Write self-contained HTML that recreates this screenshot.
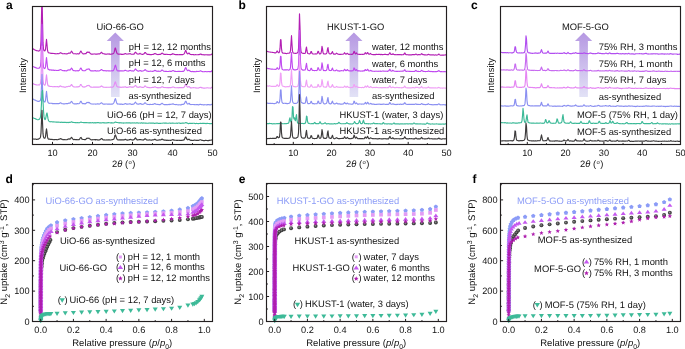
<!DOCTYPE html>
<html><head><meta charset="utf-8"><style>
html,body{margin:0;padding:0;background:#fff;}
svg{display:block;font-family:"Liberation Sans", sans-serif;filter:blur(0.25px);text-rendering:geometricPrecision;}
</style></head><body>
<svg width="685" height="349" viewBox="0 0 685 349">
<defs><linearGradient id="ag" x1="0" y1="0" x2="0" y2="1"><stop offset="0" stop-color="#b597e2"/><stop offset="1" stop-color="#e2e2f6"/></linearGradient><clipPath id="ca"><rect x="33.0" y="7.0" width="179.0" height="137.0"/></clipPath><clipPath id="cb"><rect x="267.0" y="7.0" width="179.0" height="137.0"/></clipPath><clipPath id="cc"><rect x="501.0" y="7.0" width="179.0" height="137.0"/></clipPath><radialGradient id="sph" cx="0.5" cy="0.5" r="0.6" fx="0.4" fy="0.4"><stop offset="0" stop-color="#9a9a9a"/><stop offset="0.5" stop-color="#4a4a4a"/><stop offset="1" stop-color="#2a2a2a"/></radialGradient><clipPath id="cd"><rect x="33.0" y="184.0" width="179.0" height="137.0"/></clipPath><clipPath id="ce"><rect x="267.0" y="184.0" width="179.0" height="137.0"/></clipPath><clipPath id="cf"><rect x="501.0" y="184.0" width="179.0" height="137.0"/></clipPath></defs>
<rect width="685" height="349" fill="#fff"/>
<polygon points="115.3,32.4 123.9,41 119.6,41 119.6,97 111,97 111,41 106.7,41" fill="url(#ag)"/>
<polyline points="32.5,48.57 33,48.75 33.5,49.22 34,49.37 34.5,49.73 35,49.93 35.5,50.21 36,50.39 36.5,50.71 37,50.66 37.5,50.82 38,50.96 38.5,51.1 39,50.83 39.5,50.79 40,50.12 40.5,48.19 41,41.08 41.5,16.48 42,-7.61 42.5,19.35 43,42.67 43.5,48.96 44,50.48 44.5,50.93 45,50.75 45.5,49.45 46,44.28 46.5,39.44 47,44.62 47.5,50.19 48,52.19 48.5,52.7 49,52.93 49.5,53 50,53.05 50.5,53.27 51,53.42 51.5,53.3 52,53.41 52.5,53.54 53,53.43 53.5,53.51 54,53.54 54.5,53.56 55,53.61 55.5,53.73 56,53.83 56.5,53.77 57,53.71 57.5,53.62 58,53.65 58.5,53.73 59,53.6 59.5,53.3 60,52.96 60.5,52.67 61,52.84 61.5,53.31 62,53.41 62.5,53.77 63,53.72 63.5,53.77 64,53.8 64.5,53.66 65,53.77 65.5,53.78 66,53.91 66.5,53.92 67,53.71 67.5,53.8 68,53.44 68.5,53.11 69,53.05 69.5,53.17 70,53.29 70.5,52.79 71,51.93 71.5,51.13 72,51.84 72.5,52.72 73,53.33 73.5,53.74 74,53.8 74.5,53.78 75,53.74 75.5,53.72 76,53.82 76.5,53.95 77,53.85 77.5,53.7 78,53.61 78.5,53.98 79,53.89 79.5,53.38 80,52.6 80.5,51.4 81,51.02 81.5,52.03 82,52.87 82.5,53.43 83,53.89 83.5,53.76 84,53.88 84.5,53.7 85,53.64 85.5,53.68 86,53.67 86.5,52.77 87,52.28 87.5,52.1 88,52.42 88.5,52.33 89,51.99 89.5,52.45 90,53.26 90.5,53.66 91,53.89 91.5,54.17 92,54.23 92.5,54.14 93,54.16 93.5,54.05 94,53.96 94.5,53.94 95,54.04 95.5,54.13 96,53.98 96.5,54.14 97,54.04 97.5,54.06 98,53.93 98.5,53.91 99,54 99.5,53.87 100,53.63 100.5,53.31 101,52.74 101.5,52.27 102,52.77 102.5,53.47 103,53.67 103.5,53.76 104,53.78 104.5,53.92 105,54.14 105.5,54.08 106,54.22 106.5,54.18 107,54.07 107.5,54 108,53.92 108.5,53.95 109,54.1 109.5,53.91 110,54.16 110.5,54.23 111,54.37 111.5,54.06 112,53.94 112.5,53.88 113,53.75 113.5,53.48 114,52.68 114.5,50.78 115,48.35 115.5,48.01 116,50.12 116.5,52.05 117,53.33 117.5,53.84 118,54.1 118.5,54.01 119,54.1 119.5,54.21 120,54.17 120.5,54.12 121,54.16 121.5,54.34 122,54.38 122.5,54.39 123,54.31 123.5,54.23 124,54.13 124.5,53.84 125,53.73 125.5,53.6 126,53.83 126.5,53.97 127,54.1 127.5,54.05 128,54 128.5,53.91 129,53.98 129.5,53.75 130,53.66 130.5,53.77 131,54.09 131.5,54.26 132,54.27 132.5,54.2 133,54.26 133.5,54.06 134,54.16 134.5,53.58 135,52.52 135.5,52.12 136,52.61 136.5,53.33 137,53.83 137.5,54 138,54.12 138.5,53.97 139,53.98 139.5,53.66 140,53.34 140.5,53.67 141,53.91 141.5,54.25 142,54.27 142.5,54.48 143,54.38 143.5,54.03 144,53.81 144.5,53.12 145,52.46 145.5,52.64 146,53.3 146.5,53.84 147,54.13 147.5,54.39 148,54.4 148.5,54.34 149,54.56 149.5,54.42 150,54.64 150.5,54.62 151,54.66 151.5,54.69 152,54.55 152.5,54.45 153,54.36 153.5,54.33 154,53.97 154.5,53.65 155,53.45 155.5,53.75 156,54.05 156.5,54.16 157,54.39 157.5,54.45 158,54.57 158.5,54.47 159,54.32 159.5,54.42 160,54.55 160.5,54.41 161,54.04 161.5,53.48 162,53.08 162.5,53.35 163,53.73 163.5,54.11 164,54.35 164.5,54.42 165,54.31 165.5,54.44 166,54.37 166.5,54.23 167,54.28 167.5,54.54 168,54.48 168.5,54.55 169,54.53 169.5,54.5 170,54.59 170.5,54.5 171,54.58 171.5,54.36 172,54.33 172.5,53.7 173,53.76 173.5,53.93 174,54.2 174.5,54.33 175,54.47 175.5,54.58 176,54.56 176.5,54.61 177,54.55 177.5,54.65 178,54.77 178.5,54.73 179,54.66 179.5,54.68 180,54.63 180.5,54.63 181,54.69 181.5,54.62 182,54.5 182.5,54.65 183,54.45 183.5,54.31 184,53.88 184.5,53.29 185,51.88 185.5,50.46 186,50.79 186.5,52.33 187,53.42 187.5,53.89 188,53.75 188.5,53.27 189,53.07 189.5,53.4 190,54.23 190.5,54.48 191,54.54 191.5,54.56 192,54.51 192.5,54.52 193,54.65 193.5,54.52 194,54.88 194.5,54.75 195,54.74 195.5,54.62 196,54.77 196.5,54.75 197,54.78 197.5,54.74 198,54.75 198.5,54.67 199,54.64 199.5,54.42 200,54.33 200.5,54 201,54.06 201.5,54.4 202,54.75 202.5,54.75 203,54.65 203.5,54.75 204,54.88 204.5,54.91 205,54.78 205.5,54.77 206,54.87 206.5,54.79 207,54.76 207.5,54.85 208,54.87 208.5,54.84 209,54.98 209.5,54.86 210,54.88 210.5,54.72 211,54.61 211.5,54.39 212,53.99 212.5,53.95" fill="none" stroke="#b31fb4" stroke-width="1.15" stroke-linejoin="round" clip-path="url(#ca)"/>
<polyline points="32.5,65.99 33,66.61 33.5,66.73 34,66.87 34.5,67.17 35,67.38 35.5,67.6 36,67.69 36.5,67.95 37,68.27 37.5,68.28 38,68.25 38.5,68.3 39,68.21 39.5,67.81 40,67.25 40.5,66.12 41,60.9 41.5,42.55 42,24.33 42.5,44.5 43,62.05 43.5,66.91 44,68.3 44.5,68.57 45,68.32 45.5,66.89 46,62.02 46.5,57.65 47,62.27 47.5,67.14 48,69.02 48.5,69.49 49,69.63 49.5,70.05 50,69.89 50.5,70 51,69.91 51.5,70.09 52,70.3 52.5,70.18 53,70.07 53.5,70.16 54,70.34 54.5,70.42 55,70.29 55.5,70.3 56,70.37 56.5,70.51 57,70.55 57.5,70.51 58,70.44 58.5,70.4 59,70.36 59.5,70.07 60,69.78 60.5,69.67 61,69.75 61.5,69.93 62,70.24 62.5,70.44 63,70.63 63.5,70.75 64,70.61 64.5,70.62 65,70.87 65.5,70.76 66,70.7 66.5,70.86 67,70.67 67.5,70.33 68,70.13 68.5,69.95 69,69.78 69.5,70.01 70,70.07 70.5,69.47 71,68.89 71.5,68 72,68.61 72.5,69.63 73,70.32 73.5,70.6 74,70.64 74.5,70.74 75,70.76 75.5,70.87 76,70.92 76.5,70.79 77,70.76 77.5,70.67 78,70.84 78.5,70.85 79,70.54 79.5,70.04 80,69.22 80.5,68.33 81,68.13 81.5,68.99 82,70.06 82.5,70.44 83,70.6 83.5,70.71 84,70.75 84.5,70.8 85,70.62 85.5,70.38 86,69.95 86.5,69.61 87,69.08 87.5,69.3 88,69.29 88.5,69.06 89,68.9 89.5,69.44 90,70.26 90.5,70.68 91,70.87 91.5,70.9 92,70.93 92.5,70.74 93,70.82 93.5,70.97 94,70.94 94.5,70.74 95,70.68 95.5,70.63 96,71.09 96.5,70.98 97,70.91 97.5,71.03 98,70.89 98.5,71 99,70.98 99.5,70.75 100,70.45 100.5,70.29 101,69.7 101.5,69.49 102,69.87 102.5,70.34 103,70.58 103.5,70.63 104,70.7 104.5,70.69 105,70.63 105.5,70.71 106,70.84 106.5,70.88 107,70.89 107.5,70.78 108,70.73 108.5,70.92 109,70.92 109.5,70.89 110,70.96 110.5,70.96 111,70.84 111.5,70.79 112,70.78 112.5,70.85 113,70.73 113.5,70.25 114,69.47 114.5,67.94 115,65.77 115.5,65.2 116,66.98 116.5,68.98 117,70.35 117.5,70.78 118,71.02 118.5,70.78 119,70.82 119.5,71.05 120,70.85 120.5,70.85 121,70.85 121.5,70.89 122,71.03 122.5,70.91 123,70.96 123.5,70.87 124,70.72 124.5,70.7 125,70.3 125.5,70.21 126,70.48 126.5,70.74 127,70.94 127.5,71.05 128,71.11 128.5,71.09 129,70.77 129.5,70.66 130,70.42 130.5,70.51 131,70.71 131.5,70.96 132,70.94 132.5,70.94 133,71.01 133.5,71.11 134,70.71 134.5,70.1 135,69.41 135.5,68.92 136,69.33 136.5,70.07 137,70.55 137.5,70.88 138,71.07 138.5,71.14 139,71.01 139.5,70.7 140,70.54 140.5,70.67 141,70.84 141.5,71.14 142,71.08 142.5,71 143,70.98 143.5,70.8 144,70.59 144.5,70.2 145,69.58 145.5,69.76 146,70.34 146.5,70.84 147,70.92 147.5,71.14 148,71.3 148.5,71.38 149,71.5 149.5,71.3 150,71.22 150.5,71.12 151,71.25 151.5,71.22 152,71.21 152.5,71.39 153,71.18 153.5,71.17 154,71 154.5,70.5 155,70.26 155.5,70.5 156,70.96 156.5,71.15 157,71.12 157.5,71.28 158,71.39 158.5,71.11 159,71.27 159.5,71.25 160,71.32 160.5,71.28 161,70.96 161.5,70.31 162,70.06 162.5,70.25 163,70.69 163.5,71.14 164,71.21 164.5,71.22 165,71.43 165.5,71.39 166,71.36 166.5,71.35 167,71.48 167.5,71.49 168,71.48 168.5,71.45 169,71.32 169.5,71.25 170,71.11 170.5,71.37 171,71.49 171.5,71.34 172,70.99 172.5,70.7 173,70.56 173.5,70.8 174,71.06 174.5,71.35 175,71.41 175.5,71.33 176,71.53 176.5,71.47 177,71.49 177.5,71.49 178,71.26 178.5,71.35 179,71.45 179.5,71.35 180,71.34 180.5,71.47 181,71.46 181.5,71.5 182,71.41 182.5,71.39 183,71.32 183.5,71.33 184,70.91 184.5,70.18 185,68.82 185.5,67.67 186,67.85 186.5,69.04 187,70.13 187.5,70.66 188,70.64 188.5,70.12 189,70.23 189.5,70.56 190,71.06 190.5,71.43 191,71.54 191.5,71.62 192,71.5 192.5,71.42 193,71.65 193.5,71.54 194,71.6 194.5,71.69 195,71.79 195.5,71.74 196,71.64 196.5,71.34 197,71.53 197.5,71.55 198,71.41 198.5,71.45 199,71.41 199.5,71.27 200,71.05 200.5,70.81 201,70.91 201.5,71.24 202,71.46 202.5,71.61 203,71.68 203.5,71.7 204,71.76 204.5,71.66 205,71.49 205.5,71.46 206,71.6 206.5,71.79 207,71.73 207.5,71.67 208,71.55 208.5,71.46 209,71.63 209.5,71.56 210,71.66 210.5,71.62 211,71.64 211.5,71.39 212,70.63 212.5,70.57" fill="none" stroke="#c04af0" stroke-width="1.15" stroke-linejoin="round" clip-path="url(#ca)"/>
<polyline points="32.5,83.41 33,83.52 33.5,83.84 34,84.23 34.5,84.39 35,84.44 35.5,84.57 36,84.81 36.5,84.89 37,84.96 37.5,85 38,85 38.5,84.88 39,84.97 39.5,84.95 40,84.33 40.5,83.29 41,78.64 41.5,61.97 42,45.96 42.5,63.98 43,79.54 43.5,83.72 44,84.63 44.5,85.12 45,85.15 45.5,83.59 46,78.88 46.5,74.77 47,79.1 47.5,83.75 48,85.51 48.5,85.99 49,86.07 49.5,86.16 50,86.46 50.5,86.48 51,86.43 51.5,86.45 52,86.56 52.5,86.74 53,86.8 53.5,86.69 54,86.73 54.5,86.53 55,86.57 55.5,86.69 56,86.75 56.5,86.77 57,86.62 57.5,86.63 58,86.83 58.5,86.7 59,86.84 59.5,86.44 60,86.07 60.5,85.91 61,86.17 61.5,86.5 62,86.8 62.5,86.74 63,86.85 63.5,86.87 64,87 64.5,87.1 65,86.98 65.5,87.1 66,86.93 66.5,86.78 67,86.68 67.5,86.74 68,86.51 68.5,86.24 69,86.26 69.5,86.34 70,86.24 70.5,85.83 71,85.15 71.5,84.49 72,85.09 72.5,85.83 73,86.46 73.5,86.69 74,86.92 74.5,86.96 75,87.04 75.5,87.02 76,86.97 76.5,86.88 77,86.96 77.5,86.84 78,86.86 78.5,86.67 79,86.73 79.5,86.38 80,85.73 80.5,84.6 81,84.45 81.5,85.28 82,86.03 82.5,86.54 83,86.92 83.5,87.02 84,87.14 84.5,86.92 85,86.83 85.5,86.76 86,86.51 86.5,86.09 87,85.66 87.5,85.64 88,85.71 88.5,85.53 89,85.3 89.5,85.85 90,86.5 90.5,86.93 91,87.16 91.5,87.14 92,87.2 92.5,87.21 93,87.24 93.5,87.08 94,87.13 94.5,87.14 95,87.14 95.5,87.11 96,87.12 96.5,87.09 97,87.09 97.5,86.99 98,87.06 98.5,87.11 99,87.23 99.5,87 100,86.94 100.5,86.75 101,86.19 101.5,85.93 102,86.3 102.5,86.71 103,86.98 103.5,87.11 104,87.28 104.5,87.29 105,87.21 105.5,87.29 106,87.34 106.5,87.2 107,87.26 107.5,87.23 108,87.21 108.5,87.21 109,87.28 109.5,87.2 110,87.27 110.5,87.12 111,87.17 111.5,87.28 112,87.22 112.5,87.14 113,86.89 113.5,86.48 114,85.53 114.5,84.04 115,82.27 115.5,81.82 116,83.58 116.5,85.46 117,86.44 117.5,86.66 118,86.96 118.5,87.03 119,87.11 119.5,87.17 120,87.17 120.5,87.16 121,87.43 121.5,87.24 122,87 122.5,87.19 123,87.07 123.5,87.13 124,87.14 124.5,87.02 125,86.87 125.5,86.85 126,87.15 126.5,87.38 127,87.37 127.5,87.36 128,87.25 128.5,87.18 129,86.97 129.5,86.8 130,86.8 130.5,86.82 131,86.95 131.5,87.11 132,87.13 132.5,87.08 133,87.3 133.5,87.01 134,86.81 134.5,86.37 135,85.83 135.5,85.3 136,85.79 136.5,86.56 137,87.14 137.5,87.18 138,87.31 138.5,87.26 139,87.15 139.5,86.84 140,86.82 140.5,86.8 141,87.02 141.5,87.29 142,87.35 142.5,87.22 143,87.44 143.5,87.34 144,87.08 144.5,86.47 145,85.88 145.5,86.15 146,86.59 146.5,86.98 147,87.32 147.5,87.24 148,87.32 148.5,87.46 149,87.63 149.5,87.58 150,87.69 150.5,87.73 151,87.73 151.5,87.52 152,87.52 152.5,87.42 153,87.32 153.5,87.36 154,87.22 154.5,86.92 155,86.73 155.5,86.94 156,87.28 156.5,87.53 157,87.6 157.5,87.59 158,87.89 158.5,87.69 159,87.68 159.5,87.75 160,87.69 160.5,87.68 161,87.42 161.5,86.95 162,86.79 162.5,86.82 163,87.1 163.5,87.37 164,87.52 164.5,87.55 165,87.63 165.5,87.48 166,87.55 166.5,87.67 167,87.76 167.5,87.58 168,87.88 168.5,87.63 169,87.56 169.5,87.56 170,87.69 170.5,87.61 171,87.69 171.5,87.56 172,87.32 172.5,87.15 173,87.03 173.5,87.01 174,87.25 174.5,87.48 175,87.79 175.5,87.74 176,87.75 176.5,87.77 177,87.7 177.5,87.69 178,87.72 178.5,87.81 179,87.59 179.5,87.68 180,87.62 180.5,87.55 181,87.57 181.5,87.55 182,87.77 182.5,87.68 183,87.57 183.5,87.58 184,87.35 184.5,86.67 185,85.52 185.5,84.08 186,84.23 186.5,85.48 187,86.52 187.5,87.08 188,87.06 188.5,86.79 189,86.59 189.5,86.85 190,87.52 190.5,87.95 191,87.8 191.5,87.94 192,87.73 192.5,87.74 193,87.8 193.5,87.64 194,87.72 194.5,87.71 195,87.7 195.5,87.84 196,87.8 196.5,87.98 197,88.1 197.5,88 198,88 198.5,88.07 199,87.87 199.5,87.51 200,87.42 200.5,87.27 201,87.37 201.5,87.66 202,87.84 202.5,87.8 203,87.99 203.5,88.06 204,88.18 204.5,87.99 205,88.1 205.5,88.05 206,87.95 206.5,87.89 207,87.77 207.5,87.77 208,87.86 208.5,87.95 209,87.99 209.5,88.02 210,88 210.5,88.13 211,87.94 211.5,87.56 212,87.24 212.5,86.98" fill="none" stroke="#e58df5" stroke-width="1.15" stroke-linejoin="round" clip-path="url(#ca)"/>
<polyline points="32.5,98.66 33,99.03 33.5,99.27 34,99.64 34.5,99.94 35,99.99 35.5,100.3 36,100.6 36.5,100.76 37,100.96 37.5,101.27 38,101.35 38.5,101.32 39,101.33 39.5,101.13 40,100.84 40.5,100.1 41,96.97 41.5,85.72 42,74.41 42.5,87.16 43,98.04 43.5,100.92 44,101.52 44.5,101.98 45,101.84 45.5,100.23 46,95.58 46.5,91.37 47,95.78 47.5,100.51 48,102.35 48.5,102.99 49,103.29 49.5,103.33 50,103.28 50.5,103.26 51,103.3 51.5,103.21 52,103.39 52.5,103.6 53,103.57 53.5,103.58 54,103.47 54.5,103.64 55,103.63 55.5,103.76 56,103.62 56.5,103.54 57,103.58 57.5,103.47 58,103.61 58.5,103.63 59,103.56 59.5,103.38 60,103.11 60.5,102.73 61,103 61.5,103.41 62,103.65 62.5,103.74 63,103.74 63.5,103.93 64,103.84 64.5,103.9 65,103.78 65.5,103.78 66,103.67 66.5,103.68 67,103.68 67.5,103.55 68,103.59 68.5,103.27 69,103.1 69.5,103.15 70,103.17 70.5,102.62 71,101.96 71.5,101.38 72,101.84 72.5,102.75 73,103.38 73.5,103.69 74,103.81 74.5,103.79 75,103.88 75.5,103.76 76,103.94 76.5,103.89 77,103.67 77.5,103.59 78,103.71 78.5,103.75 79,103.61 79.5,103.33 80,102.58 80.5,101.51 81,101.2 81.5,101.99 82,103.11 82.5,103.63 83,103.58 83.5,103.67 84,103.67 84.5,103.65 85,103.89 85.5,103.63 86,103.48 86.5,102.87 87,102.31 87.5,102.49 88,102.66 88.5,102.43 89,102.4 89.5,102.73 90,103.36 90.5,103.68 91,103.81 91.5,103.96 92,103.98 92.5,104.01 93,104.07 93.5,103.96 94,104.05 94.5,103.98 95,104 95.5,104.09 96,104.11 96.5,104.01 97,104.05 97.5,103.79 98,103.84 98.5,104.05 99,104.09 99.5,103.95 100,103.76 100.5,103.35 101,102.95 101.5,102.76 102,103.16 102.5,103.74 103,104.02 103.5,104.14 104,104.17 104.5,104.04 105,104.22 105.5,104 106,103.95 106.5,104.05 107,103.96 107.5,104.24 108,104.14 108.5,104.09 109,104.18 109.5,104.19 110,104.17 110.5,104.22 111,104.07 111.5,104.05 112,104.16 112.5,104.07 113,103.84 113.5,103.31 114,102.49 114.5,100.84 115,99.16 115.5,98.69 116,100.53 116.5,102.46 117,103.47 117.5,103.97 118,104.08 118.5,103.99 119,104.01 119.5,104.15 120,104.33 120.5,104.17 121,104.1 121.5,104.06 122,104.33 122.5,104.31 123,104.32 123.5,104.27 124,104.28 124.5,103.88 125,103.71 125.5,103.56 126,103.84 126.5,104.14 127,104.16 127.5,104.19 128,104.17 128.5,104.05 129,103.99 129.5,103.77 130,103.86 130.5,103.9 131,104.27 131.5,104.33 132,104.4 132.5,104.33 133,104.16 133.5,104.14 134,104 134.5,103.38 135,102.6 135.5,102.03 136,102.74 136.5,103.41 137,104.03 137.5,103.95 138,104.27 138.5,104.18 139,104.18 139.5,103.88 140,103.58 140.5,103.62 141,103.88 141.5,104.15 142,104.33 142.5,104.23 143,104.21 143.5,104.1 144,103.82 144.5,103.15 145,102.73 145.5,102.92 146,103.66 146.5,104.03 147,104.23 147.5,104.34 148,104.44 148.5,104.52 149,104.47 149.5,104.61 150,104.36 150.5,104.43 151,104.5 151.5,104.46 152,104.52 152.5,104.42 153,104.42 153.5,104.29 154,103.92 154.5,103.62 155,103.56 155.5,103.93 156,104.2 156.5,104.23 157,104.36 157.5,104.51 158,104.41 158.5,104.5 159,104.61 159.5,104.57 160,104.71 160.5,104.5 161,104.02 161.5,103.61 162,103.29 162.5,103.58 163,103.99 163.5,104.34 164,104.59 164.5,104.58 165,104.56 165.5,104.67 166,104.58 166.5,104.47 167,104.6 167.5,104.73 168,104.67 168.5,104.46 169,104.34 169.5,104.61 170,104.4 170.5,104.33 171,104.23 171.5,104.29 172,104.15 172.5,104.08 173,103.81 173.5,104.12 174,104.33 174.5,104.45 175,104.54 175.5,104.63 176,104.54 176.5,104.44 177,104.7 177.5,104.79 178,104.84 178.5,104.83 179,104.78 179.5,104.77 180,104.81 180.5,104.87 181,104.94 181.5,104.61 182,104.38 182.5,104.49 183,104.31 183.5,104.32 184,104.05 184.5,103.47 185,102.29 185.5,101.24 186,101.31 186.5,102.48 187,103.64 187.5,104.08 188,103.9 188.5,103.67 189,103.36 189.5,103.63 190,104.35 190.5,104.5 191,104.57 191.5,104.49 192,104.54 192.5,104.47 193,104.46 193.5,104.49 194,104.57 194.5,104.67 195,104.57 195.5,104.7 196,104.68 196.5,104.64 197,104.78 197.5,104.6 198,104.68 198.5,104.91 199,104.83 199.5,104.53 200,104.32 200.5,104.32 201,104.48 201.5,104.67 202,104.66 202.5,104.79 203,104.69 203.5,104.86 204,104.83 204.5,104.68 205,104.7 205.5,104.72 206,104.76 206.5,104.88 207,104.87 207.5,104.65 208,104.67 208.5,104.62 209,104.61 209.5,104.85 210,104.78 210.5,104.81 211,104.65 211.5,104.56 212,104.23 212.5,104.01" fill="none" stroke="#8a8ff1" stroke-width="1.15" stroke-linejoin="round" clip-path="url(#ca)"/>
<polyline points="32.5,117.54 33,117.78 33.5,117.97 34,118.22 34.5,118.46 35,118.55 35.5,118.81 36,119.15 36.5,119.31 37,119.55 37.5,119.74 38,119.76 38.5,119.59 39,119.39 39.5,119.09 40,118.42 40.5,116.81 41,112.13 41.5,103.04 42,91.82 42.5,90.34 43,100.76 43.5,111.09 44,116.63 44.5,118.98 45,119.56 45.5,119.02 46,116.87 46.5,113.98 47,112.92 47.5,115.65 48,118.65 48.5,120.53 49,121.11 49.5,121.49 50,121.85 50.5,121.79 51,121.68 51.5,121.79 52,121.77 52.5,121.86 53,122 53.5,121.9 54,121.93 54.5,122.01 55,122.01 55.5,122.04 56,122.17 56.5,122.18 57,122.19 57.5,122.06 58,122.15 58.5,122.13 59,122.22 59.5,122.22 60,122.19 60.5,122.35 61,122.38 61.5,122.15 62,122.24 62.5,122.38 63,122.31 63.5,122.23 64,122.42 64.5,122.39 65,122.44 65.5,122.41 66,122.52 66.5,122.59 67,122.34 67.5,122.56 68,122.44 68.5,122.61 69,122.34 69.5,122.38 70,122.37 70.5,122.21 71,122.1 71.5,121.78 72,121.95 72.5,122.36 73,122.3 73.5,122.52 74,122.53 74.5,122.48 75,122.63 75.5,122.5 76,122.73 76.5,122.69 77,122.61 77.5,122.64 78,122.66 78.5,122.8 79,122.76 79.5,122.65 80,122.43 80.5,122.2 81,122.03 81.5,122.22 82,122.47 82.5,122.5 83,122.53 83.5,122.58 84,122.65 84.5,122.6 85,122.62 85.5,122.5 86,122.58 86.5,122.58 87,122.67 87.5,122.74 88,122.66 88.5,122.7 89,122.85 89.5,122.83 90,122.58 90.5,122.62 91,122.93 91.5,122.75 92,122.74 92.5,122.54 93,122.69 93.5,122.88 94,122.73 94.5,122.82 95,122.63 95.5,122.85 96,122.87 96.5,122.73 97,122.54 97.5,122.63 98,122.57 98.5,122.61 99,122.72 99.5,122.81 100,122.82 100.5,122.86 101,122.9 101.5,122.97 102,122.77 102.5,122.8 103,122.66 103.5,122.82 104,122.69 104.5,122.85 105,122.75 105.5,122.87 106,122.96 106.5,122.87 107,122.78 107.5,122.82 108,122.65 108.5,122.65 109,122.8 109.5,122.76 110,122.71 110.5,122.92 111,122.75 111.5,122.69 112,123.05 112.5,122.91 113,122.95 113.5,122.85 114,122.71 114.5,122.61 115,122.12 115.5,122.03 116,122.15 116.5,122.46 117,122.46 117.5,122.53 118,122.57 118.5,122.72 119,122.81 119.5,122.88 120,122.64 120.5,122.71 121,122.94 121.5,122.92 122,122.99 122.5,122.98 123,122.88 123.5,123.11 124,122.91 124.5,122.96 125,123.01 125.5,122.97 126,122.84 126.5,122.92 127,122.89 127.5,122.92 128,122.97 128.5,122.85 129,122.84 129.5,122.87 130,122.86 130.5,123.06 131,123.06 131.5,123.01 132,122.94 132.5,123.02 133,122.92 133.5,123.05 134,122.99 134.5,122.88 135,122.96 135.5,122.99 136,123.1 136.5,122.86 137,122.98 137.5,122.72 138,122.95 138.5,123.09 139,123.04 139.5,122.96 140,123.02 140.5,123.11 141,122.93 141.5,122.89 142,122.84 142.5,123.2 143,123.2 143.5,122.93 144,122.97 144.5,123 145,123.26 145.5,123.14 146,123.08 146.5,123.18 147,123.23 147.5,123.2 148,123.27 148.5,123.18 149,123.03 149.5,122.97 150,123.14 150.5,123.12 151,123.12 151.5,123.12 152,123.06 152.5,123.07 153,123.13 153.5,123.17 154,123.14 154.5,123.44 155,123.31 155.5,123.27 156,123.16 156.5,123.11 157,123.09 157.5,123.16 158,123.29 158.5,123.54 159,123.42 159.5,123.29 160,123.31 160.5,123.4 161,123.21 161.5,123.2 162,123.27 162.5,123.22 163,123.04 163.5,122.99 164,123.07 164.5,123.1 165,123.11 165.5,122.92 166,123.1 166.5,123.17 167,123.23 167.5,123.27 168,123.26 168.5,123.2 169,123.18 169.5,122.99 170,123.04 170.5,123.34 171,123.29 171.5,123.29 172,123.07 172.5,123.03 173,123.11 173.5,123.18 174,123.2 174.5,123.22 175,123.27 175.5,123.24 176,123.25 176.5,123.14 177,123.22 177.5,123.37 178,123.03 178.5,123.04 179,122.99 179.5,123.06 180,123.18 180.5,123.4 181,123.38 181.5,123.28 182,123.18 182.5,123.15 183,123.11 183.5,123.04 184,123.2 184.5,123.05 185,122.88 185.5,122.69 186,122.66 186.5,122.84 187,123.04 187.5,123.16 188,123.45 188.5,123.62 189,123.42 189.5,123.33 190,123.35 190.5,123.35 191,123.53 191.5,123.37 192,123.5 192.5,123.35 193,123.28 193.5,123.29 194,123.27 194.5,123.37 195,123.51 195.5,123.62 196,123.45 196.5,123.41 197,123.53 197.5,123.53 198,123.61 198.5,123.66 199,123.55 199.5,123.49 200,123.4 200.5,123.33 201,123.36 201.5,123.52 202,123.45 202.5,123.23 203,123.31 203.5,123.36 204,123.43 204.5,123.44 205,123.45 205.5,123.43 206,123.66 206.5,123.4 207,123.52 207.5,123.4 208,123.47 208.5,123.48 209,123.48 209.5,123.59 210,123.57 210.5,123.73 211,123.62 211.5,123.59 212,123.53 212.5,123.47" fill="none" stroke="#3dba98" stroke-width="1.15" stroke-linejoin="round" clip-path="url(#ca)"/>
<polyline points="32.5,138.98 33,139.08 33.5,139.05 34,139.02 34.5,139.19 35,139.02 35.5,139.04 36,139.31 36.5,139.23 37,139.39 37.5,139.27 38,139.13 38.5,139.07 39,138.68 39.5,138.49 40,138.1 40.5,136.98 41,132.81 41.5,120.79 42,110.31 42.5,122.02 43,133.69 43.5,137.08 44,137.93 44.5,138.27 45,138.18 45.5,136.57 46,132.08 46.5,128.76 47,132.45 47.5,136.91 48,138.58 48.5,139.06 49,139.11 49.5,139.08 50,139.24 50.5,139.33 51,139.35 51.5,139.51 52,139.35 52.5,139.52 53,139.58 53.5,139.74 54,139.68 54.5,139.66 55,139.63 55.5,139.49 56,139.5 56.5,139.6 57,139.63 57.5,139.7 58,139.57 58.5,139.39 59,139.35 59.5,139.11 60,139.03 60.5,138.59 61,138.81 61.5,139.17 62,139.29 62.5,139.58 63,139.83 63.5,139.59 64,139.7 64.5,139.63 65,139.66 65.5,139.72 66,139.77 66.5,139.71 67,139.71 67.5,139.33 68,139.35 68.5,139.06 69,138.7 69.5,139.07 70,139.15 70.5,138.61 71,137.96 71.5,137.28 72,137.86 72.5,138.67 73,139.22 73.5,139.65 74,139.63 74.5,139.41 75,139.49 75.5,139.56 76,139.62 76.5,139.61 77,139.76 77.5,139.76 78,139.53 78.5,139.72 79,139.67 79.5,139.33 80,138.47 80.5,137.68 81,137.42 81.5,138.25 82,139.16 82.5,139.26 83,139.45 83.5,139.53 84,139.55 84.5,139.65 85,139.63 85.5,139.56 86,139.22 86.5,138.53 87,138.14 87.5,138.27 88,138.47 88.5,138.27 89,138.08 89.5,138.6 90,139.08 90.5,139.45 91,139.77 91.5,139.86 92,139.9 92.5,139.67 93,139.75 93.5,139.74 94,139.66 94.5,139.77 95,139.65 95.5,139.86 96,139.65 96.5,139.7 97,139.66 97.5,139.86 98,140.09 98.5,140.02 99,139.91 99.5,139.83 100,139.72 100.5,139.3 101,138.9 101.5,138.59 102,138.71 102.5,139.26 103,139.72 103.5,139.94 104,140.02 104.5,139.91 105,139.98 105.5,139.97 106,139.98 106.5,139.92 107,139.83 107.5,140.02 108,139.92 108.5,139.8 109,139.98 109.5,139.88 110,140 110.5,140.03 111,140 111.5,139.77 112,139.77 112.5,139.67 113,139.56 113.5,139.29 114,138.81 114.5,137.19 115,135.22 115.5,134.96 116,136.5 116.5,138.19 117,139.19 117.5,139.68 118,139.91 118.5,139.97 119,139.86 119.5,139.93 120,139.86 120.5,139.78 121,140.07 121.5,139.77 122,139.88 122.5,139.81 123,139.92 123.5,139.8 124,139.88 124.5,139.75 125,139.31 125.5,139.37 126,139.65 126.5,139.95 127,139.89 127.5,140.17 128,140.01 128.5,140.01 129,139.91 129.5,139.59 130,139.43 130.5,139.43 131,139.67 131.5,139.78 132,140.05 132.5,140.06 133,139.78 133.5,139.85 134,139.72 134.5,139.21 135,138.43 135.5,137.94 136,138.58 136.5,139.36 137,139.81 137.5,139.83 138,139.86 138.5,139.75 139,139.65 139.5,139.5 140,139.64 140.5,139.47 141,139.72 141.5,139.74 142,139.91 142.5,139.95 143,139.88 143.5,140.08 144,139.62 144.5,139.28 145,138.71 145.5,138.87 146,139.37 146.5,139.94 147,140.02 147.5,140.04 148,140.1 148.5,140.03 149,139.97 149.5,139.9 150,139.94 150.5,140.04 151,140.12 151.5,140.14 152,139.97 152.5,139.89 153,139.8 153.5,139.8 154,139.61 154.5,139.39 155,139.23 155.5,139.56 156,140.04 156.5,140.09 157,140.16 157.5,140.23 158,140.2 158.5,139.95 159,139.92 159.5,139.81 160,139.95 160.5,139.87 161,139.84 161.5,139.41 162,139.08 162.5,139.28 163,139.72 163.5,139.89 164,139.92 164.5,140.18 165,140.15 165.5,140.03 166,140.18 166.5,140.38 167,140.14 167.5,140.31 168,140.34 168.5,140.33 169,140.3 169.5,140.26 170,140.36 170.5,140.4 171,140.22 171.5,140.16 172,139.93 172.5,139.8 173,139.61 173.5,139.92 174,140.25 174.5,140.19 175,140.24 175.5,140.24 176,140.25 176.5,140.34 177,140.39 177.5,140.32 178,140.32 178.5,140.25 179,140.25 179.5,140.34 180,140.34 180.5,140.5 181,140.44 181.5,140.26 182,140.31 182.5,140.23 183,140.16 183.5,140.1 184,139.86 184.5,139.09 185,138.14 185.5,136.98 186,137.09 186.5,138.37 187,139.37 187.5,139.8 188,139.67 188.5,139.33 189,139.19 189.5,139.5 190,140.1 190.5,140.19 191,140.4 191.5,140.2 192,140.37 192.5,140.48 193,140.29 193.5,140.35 194,140.27 194.5,140.12 195,140.1 195.5,140.29 196,140.43 196.5,140.31 197,140.26 197.5,140.36 198,140.38 198.5,140.38 199,140.28 199.5,140.05 200,139.77 200.5,139.73 201,139.88 201.5,140.2 202,140.34 202.5,140.4 203,140.47 203.5,140.58 204,140.52 204.5,140.69 205,140.46 205.5,140.26 206,140.32 206.5,140.48 207,140.5 207.5,140.58 208,140.59 208.5,140.64 209,140.37 209.5,140.43 210,140.19 210.5,140.22 211,140.28 211.5,140.06 212,139.81 212.5,139.68" fill="none" stroke="#3d3b3c" stroke-width="1.15" stroke-linejoin="round" clip-path="url(#ca)"/>
<text x="128.8" y="49.9" font-size="9.4" fill="#111">pH = 12, 12 months</text>
<text x="128.7" y="66.3" font-size="9.4" fill="#111">pH = 12, 6 months</text>
<text x="128.7" y="82.7" font-size="9.4" fill="#111">pH = 12, 7 days</text>
<text x="128.6" y="99.1" font-size="9.4" fill="#111">as-synthesized</text>
<text x="107.1" y="117.8" font-size="9.4" fill="#111">UiO-66 (pH = 12, 7 days)</text>
<text x="107.1" y="133.6" font-size="9.4" fill="#111">UiO-66 as-synthesized</text>
<text x="96.5" y="29.8" font-size="9.4" fill="#111">UiO-66-GO</text>
<rect x="32.5" y="6.5" width="180.0" height="138.0" fill="none" stroke="#231f20" stroke-width="1.15"/>
<line x1="52.5" y1="144.5" x2="52.5" y2="141.9" stroke="#231f20" stroke-width="1"/>
<text x="52.5" y="155.6" font-size="9.2" text-anchor="middle" fill="#111">10</text>
<line x1="72.5" y1="144.5" x2="72.5" y2="143.1" stroke="#231f20" stroke-width="1"/>
<line x1="92.5" y1="144.5" x2="92.5" y2="141.9" stroke="#231f20" stroke-width="1"/>
<text x="92.5" y="155.6" font-size="9.2" text-anchor="middle" fill="#111">20</text>
<line x1="112.5" y1="144.5" x2="112.5" y2="143.1" stroke="#231f20" stroke-width="1"/>
<line x1="132.5" y1="144.5" x2="132.5" y2="141.9" stroke="#231f20" stroke-width="1"/>
<text x="132.5" y="155.6" font-size="9.2" text-anchor="middle" fill="#111">30</text>
<line x1="152.5" y1="144.5" x2="152.5" y2="143.1" stroke="#231f20" stroke-width="1"/>
<line x1="172.5" y1="144.5" x2="172.5" y2="141.9" stroke="#231f20" stroke-width="1"/>
<text x="172.5" y="155.6" font-size="9.2" text-anchor="middle" fill="#111">40</text>
<line x1="192.5" y1="144.5" x2="192.5" y2="143.1" stroke="#231f20" stroke-width="1"/>
<text x="212.5" y="155.6" font-size="9.2" text-anchor="middle" fill="#111">50</text>
<text x="123.7" y="167.4" font-size="9.4" text-anchor="middle" fill="#111">2<tspan font-style="italic">θ</tspan> (<tspan font-size="5.8" dy="-3.2" dx="0.3">o</tspan><tspan dy="3.2" dx="0.5">)</tspan></text>
<text transform="translate(25.7,75.6) rotate(-90)" font-size="9.4" text-anchor="middle" fill="#111">Intensity</text>
<text x="6" y="8.7" font-size="12" font-weight="bold" fill="#000">a</text>
<polygon points="353.9,32.4 362.5,41 358.2,41 358.2,97 349.6,97 349.6,41 345.3,41" fill="url(#ag)"/>
<polyline points="266.5,51.04 267,51.42 267.5,51.57 268,51.73 268.5,51.78 269,51.98 269.5,52.02 270,52 270.5,52.18 271,52.26 271.5,52.29 272,52.2 272.5,52.4 273,52.54 273.5,52.53 274,52.59 274.5,52.82 275,52.88 275.5,52.87 276,52.72 276.5,52.08 277,51.02 277.5,51.12 278,52.33 278.5,52.7 279,52.6 279.5,51.87 280,48.43 280.5,39.67 281,39.89 281.5,48.57 282,51.94 282.5,52.87 283,53.1 283.5,53.24 284,53.19 284.5,53.27 285,53.34 285.5,53.3 286,53.45 286.5,53.58 287,53.53 287.5,53.26 288,53.29 288.5,53.23 289,53.12 289.5,52.99 290,52.51 290.5,50.54 291,43.17 291.5,35.69 292,44.39 292.5,51.12 293,52.69 293.5,53.05 294,53.33 294.5,53.29 295,53.23 295.5,53.39 296,53.32 296.5,53.27 297,53.12 297.5,52.78 298,51.99 298.5,48.78 299,35.56 299.5,13.76 300,27.11 300.5,45.88 301,51.36 301.5,52.55 302,52.96 302.5,53.24 303,53.31 303.5,53.28 304,53.53 304.5,53.55 305,53.36 305.5,52.43 306,49.13 306.5,47 307,50.72 307.5,53.02 308,53.52 308.5,53.77 309,53.75 309.5,53.86 310,53.67 310.5,53.15 311,51.47 311.5,51.59 312,53.33 312.5,53.8 313,53.94 313.5,54.05 314,54.02 314.5,53.97 315,54.02 315.5,53.87 316,54.05 316.5,53.96 317,53.7 317.5,52.91 318,51.25 318.5,51.53 319,53.14 319.5,53.82 320,53.82 320.5,53.74 321,53.23 321.5,50.79 322,46.3 322.5,48.61 323,52.52 323.5,53.67 324,53.92 324.5,53.95 325,53.94 325.5,54.06 326,53.89 326.5,53.55 327,52.38 327.5,49.04 328,47.6 328.5,51.46 329,53.33 329.5,53.78 330,53.82 330.5,53.91 331,53.76 331.5,53.47 332,52.25 332.5,51.57 333,52.97 333.5,53.9 334,54.18 334.5,54.09 335,54.06 335.5,54.13 336,53.69 336.5,53.16 337,53.47 337.5,53.98 338,54.03 338.5,54.18 339,54.33 339.5,54.34 340,54.27 340.5,54.35 341,54.35 341.5,54.21 342,54.24 342.5,54.28 343,54.23 343.5,54.07 344,53.54 344.5,52.69 345,53.3 345.5,53.94 346,54.14 346.5,53.94 347,53.34 347.5,53.4 348,53.97 348.5,54.42 349,54.23 349.5,54.36 350,54.25 350.5,54.28 351,54.31 351.5,54.28 352,54.36 352.5,54.13 353,53.84 353.5,53.07 354,51.34 354.5,51.69 355,53.42 355.5,53.93 356,53.56 356.5,52.96 357,53.57 357.5,54.13 358,54.23 358.5,54.3 359,54.39 359.5,54.36 360,54.27 360.5,54.47 361,54.43 361.5,54.29 362,54.3 362.5,54.42 363,54.3 363.5,54.3 364,54.2 364.5,53.95 365,53.08 365.5,52.72 366,53.8 366.5,53.9 367,53.38 367.5,52.51 368,52.94 368.5,54.05 369,54.16 369.5,54.14 370,53.98 370.5,53.44 371,53.95 371.5,54.32 372,54.53 372.5,54.54 373,54.68 373.5,54.65 374,54.56 374.5,54.58 375,54.54 375.5,54.58 376,54.42 376.5,54.27 377,54.36 377.5,54.46 378,54.47 378.5,54.32 379,54.36 379.5,54.42 380,54.48 380.5,54.62 381,54.35 381.5,54.44 382,54.63 382.5,54.59 383,54.62 383.5,54.54 384,54.5 384.5,54.34 385,54.35 385.5,54.21 386,54.52 386.5,54.46 387,54.67 387.5,54.57 388,54.58 388.5,54.67 389,53.98 389.5,52.92 390,52.72 390.5,53.9 391,54.46 391.5,54.44 392,54.49 392.5,54.24 393,53.73 393.5,54.18 394,54.5 394.5,54.6 395,54.62 395.5,54.74 396,54.62 396.5,54.73 397,54.68 397.5,54.61 398,54.69 398.5,54.59 399,54.64 399.5,54.65 400,54.68 400.5,54.74 401,54.57 401.5,54.83 402,54.71 402.5,54.7 403,54.67 403.5,54.62 404,54.28 404.5,53.07 405,53.11 405.5,54.22 406,54.64 406.5,54.72 407,54.62 407.5,54.71 408,54.77 408.5,54.85 409,54.83 409.5,54.9 410,54.87 410.5,54.75 411,54.88 411.5,54.85 412,54.67 412.5,54.54 413,54.65 413.5,54.66 414,54.69 414.5,54.78 415,54.63 415.5,54.25 416,54.05 416.5,54.37 417,54.75 417.5,54.86 418,54.69 418.5,54.65 419,54.57 419.5,54.62 420,54.72 420.5,54.72 421,54.38 421.5,53.7 422,53.89 422.5,54.46 423,54.59 423.5,54.76 424,54.66 424.5,54.93 425,54.84 425.5,54.88 426,54.96 426.5,54.95 427,54.9 427.5,54.92 428,54.44 428.5,54.21 429,54.61 429.5,54.8 430,54.9 430.5,54.94 431,55.01 431.5,54.81 432,54.95 432.5,54.87 433,54.94 433.5,54.94 434,55.02 434.5,55.09 435,55.04 435.5,54.93 436,55.02 436.5,55.06 437,55.02 437.5,55 438,54.7 438.5,54.24 439,54.08 439.5,54.6 440,55 440.5,55.14 441,55.23 441.5,55.18 442,54.97 442.5,55.15 443,55.09 443.5,55.02 444,55.08 444.5,55.03 445,55.04 445.5,54.92 446,54.88 446.5,55.01" fill="none" stroke="#b31fb4" stroke-width="1.15" stroke-linejoin="round" clip-path="url(#cb)"/>
<polyline points="266.5,68.22 267,68.3 267.5,68.27 268,68.63 268.5,68.66 269,68.68 269.5,68.71 270,68.92 270.5,69.03 271,69.06 271.5,69.16 272,69.26 272.5,69.1 273,69.24 273.5,69.29 274,69.26 274.5,69.27 275,69.31 275.5,69.36 276,69.3 276.5,69.09 277,67.93 277.5,67.85 278,68.86 278.5,69.24 279,69.04 279.5,68.37 280,64.97 280.5,56.34 281,56.55 281.5,65.34 282,68.88 282.5,69.55 283,69.73 283.5,69.97 284,69.96 284.5,69.91 285,69.87 285.5,69.84 286,69.86 286.5,69.86 287,69.79 287.5,69.77 288,70.03 288.5,70.09 289,70.01 289.5,69.71 290,69.27 290.5,67.28 291,60.11 291.5,52.57 292,61.16 292.5,67.76 293,69.25 293.5,69.62 294,69.84 294.5,69.76 295,69.9 295.5,69.9 296,69.74 296.5,69.65 297,69.6 297.5,69.21 298,68.5 298.5,65.32 299,52.09 299.5,30.38 300,43.65 300.5,62.48 301,67.86 301.5,69.09 302,69.54 302.5,69.98 303,70.12 303.5,70.14 304,70.01 304.5,70.02 305,70.07 305.5,69.02 306,65.77 306.5,63.4 307,67.16 307.5,69.61 308,70.28 308.5,70.35 309,70.52 309.5,70.59 310,70.42 310.5,69.71 311,68.26 311.5,68.33 312,69.87 312.5,70.45 313,70.41 313.5,70.45 314,70.45 314.5,70.6 315,70.46 315.5,70.55 316,70.53 316.5,70.57 317,70.43 317.5,69.4 318,67.56 318.5,68.11 319,69.67 319.5,70.25 320,70.27 320.5,70.29 321,69.78 321.5,67.3 322,62.88 322.5,65.44 323,69.33 323.5,70.44 324,70.57 324.5,70.43 325,70.65 325.5,70.59 326,70.52 326.5,70.26 327,68.93 327.5,65.47 328,64.25 328.5,68.13 329,70.1 329.5,70.38 330,70.58 330.5,70.52 331,70.51 331.5,70.18 332,68.83 332.5,68.08 333,69.79 333.5,70.43 334,70.71 334.5,70.74 335,70.7 335.5,70.64 336,70.35 336.5,69.95 337,70.17 337.5,70.63 338,70.91 338.5,70.92 339,70.91 339.5,71.1 340,70.92 340.5,70.84 341,70.79 341.5,70.63 342,70.75 342.5,70.78 343,70.77 343.5,70.86 344,70.13 344.5,69.25 345,69.66 345.5,70.45 346,70.61 346.5,70.5 347,69.84 347.5,69.61 348,70.42 348.5,70.65 349,70.76 349.5,70.89 350,70.78 350.5,70.89 351,71.03 351.5,70.85 352,70.84 352.5,70.72 353,70.65 353.5,69.73 354,67.93 354.5,68.27 355,69.97 355.5,70.41 356,70.08 356.5,69.51 357,70.44 357.5,70.81 358,70.81 358.5,70.93 359,70.66 359.5,71 360,71.01 360.5,71.09 361,70.99 361.5,71.04 362,71.14 362.5,71.09 363,70.71 363.5,70.86 364,70.91 364.5,70.66 365,69.83 365.5,69.64 366,70.47 366.5,70.52 367,70.15 367.5,69.24 368,69.76 368.5,70.78 369,70.94 369.5,70.96 370,70.8 370.5,70.35 371,70.51 371.5,71.02 372,71.06 372.5,71.18 373,71.26 373.5,71.24 374,71.3 374.5,71.32 375,71.22 375.5,71.21 376,71.19 376.5,71.23 377,71.22 377.5,71.3 378,71.32 378.5,71.2 379,71.16 379.5,71.25 380,71.23 380.5,71.14 381,71.37 381.5,71.28 382,71.24 382.5,71.03 383,71.05 383.5,71.13 384,71.03 384.5,71.24 385,71.25 385.5,71.25 386,71.13 386.5,71.23 387,71.29 387.5,71.42 388,71.09 388.5,70.88 389,70.69 389.5,69.61 390,69.37 390.5,70.54 391,71.04 391.5,71.1 392,71.09 392.5,70.38 393,70.38 393.5,70.79 394,71.11 394.5,71.27 395,71.22 395.5,71.22 396,71.33 396.5,71.34 397,71.4 397.5,71.41 398,71.35 398.5,71.26 399,71.26 399.5,71.32 400,71.29 400.5,71.21 401,71.12 401.5,71.24 402,71.18 402.5,71.09 403,71.17 403.5,71.02 404,70.75 404.5,69.86 405,69.93 405.5,71.07 406,71.39 406.5,71.37 407,71.19 407.5,71.26 408,71.21 408.5,71.26 409,71.42 409.5,71.38 410,71.42 410.5,71.48 411,71.36 411.5,71.55 412,71.54 412.5,71.44 413,71.48 413.5,71.47 414,71.31 414.5,71.39 415,71.26 415.5,70.6 416,70.4 416.5,70.98 417,71.41 417.5,71.4 418,71.45 418.5,71.27 419,71.55 419.5,71.5 420,71.46 420.5,71.34 421,70.8 421.5,70.27 422,70.59 422.5,71.1 423,71.35 423.5,71.42 424,71.41 424.5,71.49 425,71.54 425.5,71.63 426,71.51 426.5,71.46 427,71.47 427.5,71.5 428,71.17 428.5,70.91 429,71.07 429.5,71.51 430,71.55 430.5,71.56 431,71.38 431.5,71.45 432,71.61 432.5,71.58 433,71.63 433.5,71.65 434,71.66 434.5,71.7 435,71.67 435.5,71.68 436,71.64 436.5,71.61 437,71.53 437.5,71.35 438,71.17 438.5,70.71 439,70.61 439.5,71.22 440,71.42 440.5,71.77 441,71.67 441.5,71.62 442,71.67 442.5,71.7 443,71.69 443.5,71.72 444,71.67 444.5,71.69 445,71.76 445.5,71.74 446,71.59 446.5,71.45" fill="none" stroke="#c04af0" stroke-width="1.15" stroke-linejoin="round" clip-path="url(#cb)"/>
<polyline points="266.5,85.6 267,85.75 267.5,86.02 268,86.11 268.5,86.17 269,85.94 269.5,85.92 270,85.94 270.5,86.18 271,86.21 271.5,86.34 272,86.37 272.5,86.41 273,86.41 273.5,86.35 274,86.31 274.5,86.36 275,86.41 275.5,86.3 276,86.3 276.5,85.73 277,84.74 277.5,84.83 278,85.93 278.5,86.43 279,86.12 279.5,85.35 280,81.84 280.5,73.09 281,73.33 281.5,81.89 282,85.21 282.5,85.99 283,86.27 283.5,86.29 284,86.59 284.5,86.67 285,86.66 285.5,86.88 286,86.86 286.5,86.74 287,86.59 287.5,86.68 288,86.65 288.5,86.69 289,86.77 289.5,86.45 290,85.84 290.5,84.03 291,76.61 291.5,69.22 292,77.96 292.5,84.62 293,86.11 293.5,86.49 294,86.59 294.5,86.46 295,86.5 295.5,86.91 296,86.72 296.5,86.7 297,86.54 297.5,86.25 298,85.71 298.5,83.41 299,73.01 299.5,55.89 300,66.29 300.5,80.89 301,85.08 301.5,85.76 302,86.35 302.5,86.45 303,86.68 303.5,86.75 304,86.74 304.5,86.76 305,86.68 305.5,85.8 306,82.4 306.5,80.11 307,83.91 307.5,86.23 308,86.73 308.5,87.05 309,87.13 309.5,87.11 310,87.01 310.5,86.4 311,84.74 311.5,84.9 312,86.35 312.5,87.03 313,87.28 313.5,87.25 314,87.3 314.5,87.14 315,87.1 315.5,86.99 316,87.14 316.5,87.14 317,87.09 317.5,86.23 318,84.39 318.5,84.77 319,86.56 319.5,86.88 320,86.68 320.5,86.64 321,86.33 321.5,83.8 322,79.66 322.5,81.88 323,85.69 323.5,86.7 324,87.01 324.5,86.98 325,87.07 325.5,87.14 326,87.11 326.5,86.89 327,85.93 327.5,82.57 328,81.14 328.5,84.71 329,86.51 329.5,87.03 330,87.12 330.5,87.08 331,87.1 331.5,86.79 332,85.36 332.5,84.58 333,86.1 333.5,86.89 334,87.14 334.5,87.34 335,87.3 335.5,87.24 336,86.95 336.5,86.46 337,86.84 337.5,87.11 338,87.15 338.5,87.22 339,87.17 339.5,87.3 340,87.33 340.5,87.26 341,87.06 341.5,87.28 342,87.29 342.5,87.25 343,87.34 343.5,87.28 344,86.94 344.5,86.01 345,86.32 345.5,86.93 346,87.28 346.5,87.13 347,86.43 347.5,86.35 348,87.08 348.5,87.35 349,87.42 349.5,87.5 350,87.5 350.5,87.58 351,87.51 351.5,87.46 352,87.39 352.5,87.42 353,87.36 353.5,86.26 354,84.51 354.5,84.84 355,86.7 355.5,87.04 356,86.72 356.5,86.14 357,86.66 357.5,87.2 358,87.23 358.5,87.56 359,87.35 359.5,87.49 360,87.51 360.5,87.54 361,87.52 361.5,87.6 362,87.44 362.5,87.43 363,87.52 363.5,87.64 364,87.47 364.5,87.2 365,86.35 365.5,86.15 366,86.94 366.5,87.23 367,86.69 367.5,85.71 368,86.33 368.5,87.05 369,87.34 369.5,87.4 370,87.15 370.5,86.62 371,86.74 371.5,87.27 372,87.5 372.5,87.67 373,87.6 373.5,87.55 374,87.42 374.5,87.55 375,87.45 375.5,87.57 376,87.38 376.5,87.39 377,87.45 377.5,87.5 378,87.62 378.5,87.75 379,87.73 379.5,87.77 380,87.69 380.5,87.56 381,87.69 381.5,87.66 382,87.92 382.5,87.62 383,87.62 383.5,87.59 384,87.6 384.5,87.61 385,87.62 385.5,87.55 386,87.7 386.5,87.73 387,87.73 387.5,87.66 388,87.6 388.5,87.67 389,87.16 389.5,86.05 390,85.77 390.5,86.99 391,87.56 391.5,87.59 392,87.52 392.5,87.14 393,86.96 393.5,87.45 394,87.56 394.5,87.56 395,87.65 395.5,87.69 396,87.58 396.5,87.44 397,87.38 397.5,87.51 398,87.61 398.5,87.61 399,87.69 399.5,87.62 400,87.79 400.5,87.71 401,87.73 401.5,87.88 402,87.59 402.5,87.7 403,87.61 403.5,87.51 404,87.14 404.5,86.12 405,86.33 405.5,87.39 406,87.76 406.5,87.73 407,87.85 407.5,87.89 408,87.84 408.5,87.84 409,87.82 409.5,87.85 410,87.85 410.5,87.87 411,87.79 411.5,87.83 412,87.79 412.5,87.48 413,87.64 413.5,87.57 414,87.75 414.5,87.89 415,87.81 415.5,87.3 416,87.12 416.5,87.51 417,87.49 417.5,87.4 418,87.56 418.5,87.8 419,87.87 419.5,87.83 420,87.74 420.5,87.69 421,87.29 421.5,86.41 422,87.01 422.5,87.72 423,87.96 423.5,87.94 424,87.8 424.5,87.71 425,87.82 425.5,87.97 426,87.81 426.5,87.77 427,87.82 427.5,87.63 428,87.39 428.5,86.97 429,87.54 429.5,87.87 430,87.9 430.5,87.84 431,87.7 431.5,87.83 432,88.01 432.5,87.88 433,87.88 433.5,87.9 434,88.01 434.5,87.93 435,87.98 435.5,87.76 436,87.96 436.5,87.98 437,87.92 437.5,87.83 438,87.9 438.5,87.43 439,87.48 439.5,87.71 440,87.97 440.5,88.06 441,88.02 441.5,88.01 442,88.1 442.5,88.13 443,87.93 443.5,87.99 444,88.06 444.5,88.03 445,88.02 445.5,88.26 446,88.02 446.5,88.09" fill="none" stroke="#f0a0f6" stroke-width="1.15" stroke-linejoin="round" clip-path="url(#cb)"/>
<polyline points="266.5,103.2 267,103.12 267.5,103.14 268,103.33 268.5,103.34 269,103.35 269.5,103.41 270,103.28 270.5,103.4 271,103.36 271.5,103.43 272,103.46 272.5,103.4 273,103.46 273.5,103.49 274,103.73 274.5,103.6 275,103.54 275.5,103.25 276,103.2 276.5,102.9 277,101.63 277.5,101.85 278,102.64 278.5,103.01 279,102.86 279.5,102.17 280,98.72 280.5,90 281,89.86 281.5,98.79 282,102.27 282.5,102.97 283,103.32 283.5,103.53 284,103.29 284.5,103.28 285,103.23 285.5,103.4 286,103.36 286.5,103.43 287,103.68 287.5,103.65 288,103.46 288.5,103.47 289,103.28 289.5,103.2 290,102.7 290.5,100.65 291,93.27 291.5,85.82 292,94.51 292.5,101.09 293,102.67 293.5,103.21 294,103.27 294.5,103.42 295,103.5 295.5,103.44 296,103.48 296.5,103.32 297,103.07 297.5,102.49 298,101.95 298.5,99.63 299,88.83 299.5,71.42 300,82.03 300.5,97.16 301,101.42 301.5,102.53 302,102.83 302.5,102.89 303,103.39 303.5,103.34 304,103.41 304.5,103.3 305,103.28 305.5,102.32 306,98.98 306.5,96.77 307,100.62 307.5,102.98 308,103.63 308.5,103.67 309,103.69 309.5,103.51 310,103.46 310.5,102.75 311,101.32 311.5,101.58 312,103.18 312.5,103.74 313,103.62 313.5,103.67 314,103.82 314.5,103.87 315,103.76 315.5,103.76 316,103.72 316.5,103.77 317,103.6 317.5,102.77 318,101.1 318.5,101.27 319,103.03 319.5,103.53 320,103.6 320.5,103.53 321,103.07 321.5,100.45 322,96.24 322.5,98.51 323,102.32 323.5,103.34 324,103.74 324.5,103.9 325,103.81 325.5,103.78 326,103.58 326.5,103.33 327,102.11 327.5,99.07 328,97.53 328.5,101.51 329,103.26 329.5,103.62 330,103.84 330.5,103.81 331,103.75 331.5,103.26 332,101.86 332.5,101.13 333,102.83 333.5,103.53 334,103.82 334.5,103.91 335,103.82 335.5,103.73 336,103.42 336.5,103.1 337,103.29 337.5,103.74 338,103.87 338.5,103.91 339,103.9 339.5,103.91 340,103.92 340.5,104.14 341,104.11 341.5,104.15 342,104.2 342.5,103.94 343,104.06 343.5,103.71 344,103.3 344.5,102.43 345,102.97 345.5,103.55 346,103.89 346.5,103.75 347,103.21 347.5,103.02 348,103.66 348.5,103.99 349,103.93 349.5,104.01 350,103.98 350.5,103.98 351,104.09 351.5,104.2 352,104.17 352.5,104.09 353,103.93 353.5,102.97 354,101.17 354.5,101.51 355,103.33 355.5,103.76 356,103.33 356.5,102.88 357,103.49 357.5,104.09 358,104.1 358.5,104.01 359,104.06 359.5,103.94 360,103.98 360.5,104.01 361,104.01 361.5,104.16 362,104.11 362.5,104.04 363,103.98 363.5,104.12 364,104.05 364.5,103.73 365,102.93 365.5,102.45 366,103.56 366.5,103.93 367,103.38 367.5,102.31 368,102.61 368.5,103.72 369,104.01 369.5,104.02 370,103.75 370.5,103.33 371,103.5 371.5,103.95 372,104.17 372.5,104.05 373,104.19 373.5,104.06 374,104.17 374.5,104.38 375,104.3 375.5,104.46 376,104.39 376.5,104.24 377,104.38 377.5,104.26 378,104.19 378.5,104.19 379,104.31 379.5,104.17 380,104.26 380.5,104.41 381,104.18 381.5,104.36 382,104.33 382.5,104.31 383,104.15 383.5,104.18 384,104.15 384.5,104.25 385,104.3 385.5,104.45 386,104.39 386.5,104.35 387,104.31 387.5,104.36 388,104.3 388.5,104.34 389,103.94 389.5,102.81 390,102.49 390.5,103.67 391,104.21 391.5,104.28 392,104.23 392.5,103.99 393,103.74 393.5,104.22 394,104.27 394.5,104.32 395,104.4 395.5,104.48 396,104.57 396.5,104.44 397,104.38 397.5,104.4 398,104.23 398.5,104.21 399,104.31 399.5,104.29 400,104.33 400.5,104.15 401,104.32 401.5,104.23 402,104.35 402.5,104.24 403,104.15 403.5,104.18 404,103.87 404.5,102.86 405,102.78 405.5,103.71 406,104.12 406.5,104.29 407,104.44 407.5,104.52 408,104.43 408.5,104.44 409,104.32 409.5,104.28 410,104.31 410.5,104.48 411,104.26 411.5,104.37 412,104.39 412.5,104.29 413,104.35 413.5,104.44 414,104.35 414.5,104.33 415,104.27 415.5,104.02 416,103.84 416.5,104.32 417,104.41 417.5,104.38 418,104.36 418.5,104.5 419,104.44 419.5,104.54 420,104.43 420.5,104.53 421,104.13 421.5,103.55 422,103.71 422.5,104.2 423,104.39 423.5,104.58 424,104.38 424.5,104.5 425,104.56 425.5,104.66 426,104.56 426.5,104.51 427,104.32 427.5,104.47 428,104.05 428.5,103.68 429,104.12 429.5,104.47 430,104.54 430.5,104.45 431,104.67 431.5,104.55 432,104.55 432.5,104.71 433,104.88 433.5,104.76 434,104.68 434.5,104.68 435,104.71 435.5,104.61 436,104.64 436.5,104.64 437,104.65 437.5,104.61 438,104.42 438.5,104.03 439,103.88 439.5,104.34 440,104.63 440.5,104.83 441,104.78 441.5,104.75 442,104.81 442.5,104.75 443,104.66 443.5,104.72 444,104.63 444.5,104.72 445,104.89 445.5,105.05 446,104.69 446.5,104.96" fill="none" stroke="#8a8ff1" stroke-width="1.15" stroke-linejoin="round" clip-path="url(#cb)"/>
<polyline points="266.5,123.74 267,123.59 267.5,123.6 268,123.66 268.5,123.61 269,123.6 269.5,123.39 270,123.51 270.5,123.53 271,123.61 271.5,123.57 272,123.74 272.5,123.83 273,123.91 273.5,123.77 274,123.59 274.5,123.72 275,123.87 275.5,123.74 276,123.71 276.5,123.69 277,123.78 277.5,123.61 278,123.55 278.5,123.68 279,123.43 279.5,123.57 280,123.71 280.5,123.56 281,123.55 281.5,123.48 282,123.56 282.5,123.72 283,123.78 283.5,123.71 284,123.71 284.5,123.64 285,123.45 285.5,123.63 286,123.72 286.5,123.57 287,123.52 287.5,123.49 288,123.25 288.5,123.18 289,122.1 289.5,119.19 290,117.75 290.5,120.89 291,122.13 291.5,121.56 292,117.25 292.5,106.52 293,107.12 293.5,117.1 294,118.99 294.5,117.74 295,120.11 295.5,120.75 296,116.88 296.5,114.64 297,119.96 297.5,122.71 298,123.26 298.5,123.34 299,123.46 299.5,123.43 300,123.54 300.5,123.44 301,123.49 301.5,123.49 302,123.32 302.5,123.51 303,123.48 303.5,123.59 304,123.72 304.5,123.38 305,123.41 305.5,122.98 306,120.87 306.5,115.97 307,116.64 307.5,121.29 308,122.92 308.5,123.41 309,123.3 309.5,123.53 310,123.71 310.5,123.75 311,123.7 311.5,123.65 312,123.76 312.5,123.53 313,123.61 313.5,123.73 314,123.23 314.5,122.44 315,122.61 315.5,123.44 316,123.66 316.5,123.52 317,123.61 317.5,123.7 318,123.62 318.5,123.66 319,123.53 319.5,122.81 320,121.67 320.5,122.49 321,123.55 321.5,123.73 322,123.94 322.5,123.73 323,123.71 323.5,123.65 324,123.48 324.5,123.13 325,122.68 325.5,123.04 326,123.61 326.5,123.92 327,123.87 327.5,123.78 328,123.68 328.5,123.76 329,123.65 329.5,123.84 330,123.96 330.5,123.86 331,123.82 331.5,123.79 332,123.84 332.5,124.02 333,123.94 333.5,123.84 334,123.79 334.5,123.66 335,123.66 335.5,123.96 336,123.75 336.5,123.77 337,123.55 337.5,123.58 338,123.37 338.5,122.7 339,122.28 339.5,122.93 340,123.47 340.5,123.52 341,123.71 341.5,123.8 342,123.76 342.5,123.7 343,123.7 343.5,123.7 344,123.68 344.5,123.75 345,123.7 345.5,123.61 346,123.53 346.5,122.9 347,122.49 347.5,123.25 348,123.55 348.5,123.68 349,123.82 349.5,123.8 350,123.89 350.5,123.89 351,123.77 351.5,123.95 352,123.97 352.5,123.89 353,123.64 353.5,123.49 354,122.88 354.5,121.54 355,122.32 355.5,123.24 356,123.63 356.5,123.64 357,123.55 357.5,123.62 358,123.62 358.5,123.13 359,121.99 359.5,120.38 360,121.51 360.5,123.2 361,123.6 361.5,123.61 362,123.59 362.5,123.15 363,121.19 363.5,120.12 364,122.3 364.5,123.49 365,123.68 365.5,123.76 366,123.65 366.5,123.61 367,123.69 367.5,123.7 368,123.63 368.5,123.87 369,123.79 369.5,123.76 370,123.74 370.5,123.96 371,123.81 371.5,123.7 372,123.65 372.5,123.72 373,123.48 373.5,122.94 374,123.13 374.5,123.56 375,123.63 375.5,123.75 376,123.65 376.5,123.61 377,123.65 377.5,123.67 378,123.77 378.5,123.7 379,123.75 379.5,123.79 380,123.66 380.5,123.89 381,123.86 381.5,123.97 382,123.88 382.5,123.62 383,122.71 383.5,122.6 384,123.42 384.5,123.89 385,123.83 385.5,123.76 386,123.75 386.5,123.98 387,123.86 387.5,124.01 388,123.81 388.5,123.74 389,123.76 389.5,123.99 390,123.92 390.5,123.84 391,124.05 391.5,124.13 392,123.88 392.5,123.98 393,123.73 393.5,123.46 394,122.93 394.5,123.44 395,124.02 395.5,123.91 396,123.83 396.5,123.82 397,123.81 397.5,123.83 398,123.74 398.5,123.83 399,124.05 399.5,124.05 400,123.92 400.5,123.91 401,124.02 401.5,123.91 402,123.89 402.5,123.9 403,124 403.5,124 404,123.84 404.5,123.81 405,123.98 405.5,123.88 406,123.86 406.5,123.75 407,123.71 407.5,123.84 408,123.91 408.5,123.97 409,123.84 409.5,123.74 410,123.8 410.5,123.85 411,123.72 411.5,123.91 412,123.89 412.5,124 413,123.86 413.5,123.37 414,122.82 414.5,123.39 415,123.79 415.5,123.83 416,123.69 416.5,123.9 417,123.84 417.5,123.83 418,123.88 418.5,123.96 419,123.93 419.5,123.95 420,123.8 420.5,123.82 421,123.95 421.5,124.03 422,123.94 422.5,123.97 423,124.18 423.5,124.02 424,123.89 424.5,124.18 425,124.1 425.5,124.23 426,123.92 426.5,123.5 427,123.05 427.5,122.96 428,123.55 428.5,123.85 429,124 429.5,123.86 430,123.94 430.5,124.08 431,124 431.5,123.96 432,124.01 432.5,123.88 433,123.95 433.5,124.01 434,124.17 434.5,123.98 435,124.04 435.5,124.04 436,123.94 436.5,123.94 437,124 437.5,124.03 438,124 438.5,124.11 439,124.08 439.5,124.11 440,124.16 440.5,124.17 441,124.15 441.5,124.27 442,124.06 442.5,123.94 443,124.15 443.5,123.94 444,124.15 444.5,124.19 445,124.06 445.5,123.92 446,123.89 446.5,123.94" fill="none" stroke="#3dba98" stroke-width="1.15" stroke-linejoin="round" clip-path="url(#cb)"/>
<polyline points="266.5,138.45 267,138.53 267.5,138.62 268,138.57 268.5,138.45 269,138.43 269.5,138.5 270,138.56 270.5,138.39 271,138.43 271.5,138.48 272,138.44 272.5,138.37 273,138.42 273.5,138.4 274,138.44 274.5,138.26 275,138.53 275.5,138.32 276,138.24 276.5,137.78 277,136.47 277.5,136.53 278,137.56 278.5,137.84 279,137.5 279.5,137.02 280,132.65 280.5,122.04 281,122.24 281.5,132.78 282,136.88 282.5,137.72 283,138 283.5,138.29 284,138.29 284.5,138.48 285,138.31 285.5,138.36 286,138.43 286.5,138.43 287,138.34 287.5,138.45 288,138.43 288.5,138.28 289,138.14 289.5,137.97 290,137.56 290.5,135.75 291,128.57 291.5,121.59 292,129.85 292.5,136.17 293,137.51 293.5,138.04 294,138.18 294.5,138.14 295,138.1 295.5,138.23 296,138.21 296.5,137.87 297,137.59 297.5,137.35 298,136.44 298.5,132.99 299,118.32 299.5,94.58 300,109.06 300.5,129.71 301,135.86 301.5,137.24 302,137.79 302.5,137.96 303,138.21 303.5,138.08 304,138 304.5,138.1 305,137.77 305.5,136.76 306,132.88 306.5,130.3 307,134.82 307.5,137.54 308,138.12 308.5,138.3 309,138.27 309.5,138.31 310,138.11 310.5,137.38 311,135.6 311.5,135.77 312,137.47 312.5,138.17 313,138.33 313.5,138.48 314,138.52 314.5,138.69 315,138.48 315.5,138.45 316,138.54 316.5,138.33 317,138.18 317.5,137.14 318,134.99 318.5,135.46 319,137.48 319.5,138.17 320,138.22 320.5,138.15 321,137.43 321.5,134.71 322,129.54 322.5,132.05 323,136.58 323.5,138.13 324,138.09 324.5,138.31 325,138.32 325.5,138.27 326,138.4 326.5,138.05 327,136.9 327.5,132.54 328,130.82 328.5,135.52 329,137.83 329.5,138.13 330,138.09 330.5,138.39 331,138.34 331.5,137.76 332,136.32 332.5,135.35 333,137.23 333.5,138.23 334,138.6 334.5,138.7 335,138.61 335.5,138.33 336,138.09 336.5,137.7 337,137.89 337.5,138.42 338,138.55 338.5,138.72 339,138.52 339.5,138.64 340,138.56 340.5,138.51 341,138.51 341.5,138.51 342,138.41 342.5,138.34 343,138.25 343.5,138.35 344,137.85 344.5,136.69 345,137.19 345.5,138.08 346,138.5 346.5,138.29 347,137.7 347.5,137.3 348,138.13 348.5,138.45 349,138.62 349.5,138.69 350,138.61 350.5,138.71 351,138.62 351.5,138.44 352,138.44 352.5,138.28 353,138.27 353.5,137.35 354,135.12 354.5,135.57 355,137.58 355.5,138.19 356,137.68 356.5,136.99 357,137.86 357.5,138.38 358,138.63 358.5,138.73 359,138.64 359.5,138.64 360,138.59 360.5,138.67 361,138.82 361.5,138.64 362,138.61 362.5,138.63 363,138.79 363.5,138.72 364,138.71 364.5,138.27 365,137.26 365.5,137.01 366,137.91 366.5,138.25 367,137.62 367.5,136.31 368,137.08 368.5,138.35 369,138.7 369.5,138.7 370,138.19 370.5,137.83 371,138.01 371.5,138.29 372,138.51 372.5,138.64 373,138.61 373.5,138.71 374,138.65 374.5,138.71 375,138.77 375.5,138.69 376,138.59 376.5,138.79 377,138.93 377.5,138.82 378,138.78 378.5,138.83 379,138.62 379.5,138.65 380,138.78 380.5,138.79 381,138.83 381.5,138.81 382,138.83 382.5,138.86 383,138.9 383.5,138.69 384,138.74 384.5,138.7 385,138.65 385.5,138.81 386,138.92 386.5,138.84 387,138.86 387.5,138.83 388,138.9 388.5,138.9 389,138.18 389.5,136.95 390,136.47 390.5,137.75 391,138.42 391.5,138.46 392,138.58 392.5,137.87 393,137.75 393.5,138.49 394,138.82 394.5,138.83 395,138.78 395.5,138.71 396,138.68 396.5,138.8 397,138.75 397.5,138.71 398,138.78 398.5,138.78 399,138.76 399.5,138.87 400,138.75 400.5,138.73 401,138.86 401.5,138.79 402,138.77 402.5,138.6 403,138.61 403.5,138.62 404,138.17 404.5,136.88 405,136.87 405.5,138.03 406,138.43 406.5,138.65 407,138.9 407.5,138.9 408,138.82 408.5,138.89 409,138.8 409.5,138.67 410,138.67 410.5,138.71 411,138.72 411.5,138.64 412,138.72 412.5,138.77 413,138.85 413.5,138.74 414,138.83 414.5,138.85 415,138.66 415.5,138.02 416,137.99 416.5,138.49 417,138.85 417.5,138.77 418,138.84 418.5,138.68 419,138.94 419.5,138.89 420,138.88 420.5,138.7 421,138.23 421.5,137.37 422,137.8 422.5,138.63 423,138.77 423.5,138.75 424,138.8 424.5,139.02 425,138.88 425.5,138.81 426,138.73 426.5,138.75 427,138.82 427.5,138.62 428,138.43 428.5,137.97 429,138.3 429.5,138.74 430,138.81 430.5,138.71 431,138.71 431.5,138.77 432,138.67 432.5,138.95 433,138.93 433.5,138.99 434,138.9 434.5,138.88 435,138.83 435.5,138.81 436,138.99 436.5,138.96 437,138.89 437.5,138.86 438,138.75 438.5,138.26 439,138.03 439.5,138.67 440,138.89 440.5,138.91 441,138.97 441.5,139.14 442,138.98 442.5,138.85 443,138.88 443.5,138.8 444,138.77 444.5,138.92 445,138.74 445.5,138.74 446,138.85 446.5,138.89" fill="none" stroke="#3d3b3c" stroke-width="1.15" stroke-linejoin="round" clip-path="url(#cb)"/>
<text x="372.02" y="50.3" font-size="9.4" fill="#111">water, 12 months</text>
<text x="372.02" y="66.6" font-size="9.4" fill="#111">water, 6 months</text>
<text x="372.02" y="83" font-size="9.4" fill="#111">water, 7 days</text>
<text x="372" y="99.4" font-size="9.4" fill="#111">as-synthesized</text>
<text x="339.6" y="117.9" font-size="9.4" fill="#111">HKUST-1 (water, 3 days)</text>
<text x="339.6" y="133.7" font-size="9.4" fill="#111">HKUST-1 as-synthesized</text>
<text x="327.1" y="29.7" font-size="9.4" fill="#111">HKUST-1-GO</text>
<rect x="266.5" y="6.5" width="180.0" height="138.0" fill="none" stroke="#231f20" stroke-width="1.15"/>
<line x1="274.16" y1="144.5" x2="274.16" y2="143.1" stroke="#231f20" stroke-width="1"/>
<line x1="293.31" y1="144.5" x2="293.31" y2="141.9" stroke="#231f20" stroke-width="1"/>
<text x="293.31" y="155.6" font-size="9.2" text-anchor="middle" fill="#111">10</text>
<line x1="312.46" y1="144.5" x2="312.46" y2="143.1" stroke="#231f20" stroke-width="1"/>
<line x1="331.61" y1="144.5" x2="331.61" y2="141.9" stroke="#231f20" stroke-width="1"/>
<text x="331.61" y="155.6" font-size="9.2" text-anchor="middle" fill="#111">20</text>
<line x1="350.76" y1="144.5" x2="350.76" y2="143.1" stroke="#231f20" stroke-width="1"/>
<line x1="369.9" y1="144.5" x2="369.9" y2="141.9" stroke="#231f20" stroke-width="1"/>
<text x="369.9" y="155.6" font-size="9.2" text-anchor="middle" fill="#111">30</text>
<line x1="389.05" y1="144.5" x2="389.05" y2="143.1" stroke="#231f20" stroke-width="1"/>
<line x1="408.2" y1="144.5" x2="408.2" y2="141.9" stroke="#231f20" stroke-width="1"/>
<text x="408.2" y="155.6" font-size="9.2" text-anchor="middle" fill="#111">40</text>
<line x1="427.35" y1="144.5" x2="427.35" y2="143.1" stroke="#231f20" stroke-width="1"/>
<text x="446.5" y="155.6" font-size="9.2" text-anchor="middle" fill="#111">50</text>
<text x="357.7" y="167.4" font-size="9.4" text-anchor="middle" fill="#111">2<tspan font-style="italic">θ</tspan> (<tspan font-size="5.8" dy="-3.2" dx="0.3">o</tspan><tspan dy="3.2" dx="0.5">)</tspan></text>
<text transform="translate(259.7,75.6) rotate(-90)" font-size="9.4" text-anchor="middle" fill="#111">Intensity</text>
<text x="238.4" y="8.7" font-size="12" font-weight="bold" fill="#000">b</text>
<polygon points="583.6,32.4 592.2,41 587.9,41 587.9,97 579.3,97 579.3,41 575,41" fill="url(#ag)"/>
<polyline points="500.5,52.41 501,52.41 501.5,52.44 502,52.56 502.5,52.55 503,52.64 503.5,52.59 504,52.6 504.5,52.68 505,52.65 505.5,52.57 506,52.78 506.5,52.82 507,52.65 507.5,52.67 508,52.72 508.5,52.84 509,52.76 509.5,52.79 510,52.79 510.5,52.7 511,52.81 511.5,52.73 512,52.9 512.5,52.84 513,52.66 513.5,52.52 514,52.12 514.5,50.38 515,46.8 515.5,46.91 516,50.47 516.5,52.17 517,52.57 517.5,52.89 518,52.9 518.5,53.02 519,53.02 519.5,52.85 520,52.87 520.5,52.96 521,53.03 521.5,52.75 522,52.91 522.5,53.02 523,52.86 523.5,52.7 524,52.74 524.5,52.23 525,50.72 525.5,45.22 526,35.75 526.5,38.94 527,48.29 527.5,51.56 528,52.45 528.5,52.66 529,52.86 529.5,52.88 530,52.92 530.5,53.1 531,53.16 531.5,53.26 532,53.34 532.5,53.35 533,53.2 533.5,53.3 534,53.28 534.5,53.14 535,53.06 535.5,52.93 536,53.28 536.5,53.18 537,53.19 537.5,53.33 538,53.09 538.5,52.94 539,53.15 539.5,53 540,52.88 540.5,52.4 541,50.81 541.5,49.6 542,51.13 542.5,52.58 543,52.99 543.5,53.23 544,53.19 544.5,53.22 545,53.14 545.5,53.05 546,53.18 546.5,53.1 547,52.78 547.5,51.94 548,51.08 548.5,52.03 549,52.99 549.5,53.22 550,53.34 550.5,53.26 551,53.33 551.5,53.39 552,53.35 552.5,53.33 553,53.41 553.5,53.41 554,53.25 554.5,53.47 555,53.19 555.5,53.27 556,53.28 556.5,53.35 557,53.23 557.5,53.17 558,53.21 558.5,53.24 559,53.33 559.5,53.26 560,53.31 560.5,53.51 561,53.29 561.5,53.33 562,53.42 562.5,53.32 563,53.25 563.5,53.07 564,52.62 564.5,52.77 565,53.34 565.5,53.35 566,53.48 566.5,53.6 567,53.39 567.5,53 568,52.44 568.5,53 569,53.43 569.5,53.46 570,53.63 570.5,53.55 571,53.7 571.5,53.72 572,53.34 572.5,53.34 573,53.34 573.5,53.09 574,53.16 574.5,53.31 575,53.01 575.5,52.58 576,52.8 576.5,53.22 577,53.27 577.5,53.41 578,53.35 578.5,53.43 579,53.26 579.5,53.31 580,53.29 580.5,53.44 581,53.39 581.5,53.34 582,53.29 582.5,53.44 583,53.46 583.5,53.12 584,52.66 584.5,52.94 585,53.39 585.5,53.24 586,53.36 586.5,53.54 587,53.55 587.5,53.51 588,53.75 588.5,53.67 589,53.54 589.5,53.32 590,53.16 590.5,52.9 591,53.26 591.5,53.33 592,53.38 592.5,53.69 593,53.73 593.5,53.51 594,53.65 594.5,53.7 595,53.54 595.5,53.66 596,53.57 596.5,53.48 597,53.47 597.5,53.19 598,52.83 598.5,52.97 599,53.42 599.5,53.41 600,53.44 600.5,53.29 601,53.48 601.5,53.49 602,53.82 602.5,53.65 603,53.48 603.5,53.64 604,53.72 604.5,53.79 605,53.48 605.5,53.23 606,53.17 606.5,53.25 607,53.62 607.5,53.61 608,53.71 608.5,53.73 609,53.22 609.5,52.86 610,53 610.5,53.45 611,53.64 611.5,53.55 612,53.6 612.5,53.66 613,53.67 613.5,53.64 614,53.57 614.5,53.65 615,53.61 615.5,53.66 616,53.56 616.5,53.48 617,53.2 617.5,53.21 618,53.5 618.5,53.57 619,53.7 619.5,53.76 620,53.89 620.5,53.66 621,53.71 621.5,53.85 622,53.71 622.5,53.66 623,53.66 623.5,53.74 624,53.86 624.5,53.77 625,53.97 625.5,53.61 626,53.68 626.5,53.8 627,53.73 627.5,53.83 628,53.69 628.5,53.37 629,53.33 629.5,53.73 630,54 630.5,54.03 631,53.87 631.5,53.82 632,53.84 632.5,53.88 633,53.89 633.5,53.92 634,54.22 634.5,54.12 635,53.91 635.5,53.92 636,53.77 636.5,53.72 637,53.78 637.5,53.78 638,53.79 638.5,53.76 639,53.76 639.5,53.58 640,53.74 640.5,53.75 641,53.73 641.5,53.62 642,53.93 642.5,54.04 643,53.91 643.5,53.95 644,53.69 644.5,53.71 645,53.57 645.5,53.53 646,53.18 646.5,53.45 647,53.88 647.5,53.97 648,53.81 648.5,54.08 649,54.01 649.5,54.01 650,53.98 650.5,54 651,53.83 651.5,53.81 652,54.03 652.5,53.87 653,53.85 653.5,53.7 654,53.81 654.5,53.74 655,53.74 655.5,53.91 656,53.77 656.5,53.77 657,53.94 657.5,53.84 658,54.02 658.5,54.16 659,54.08 659.5,53.97 660,54 660.5,54.05 661,53.92 661.5,53.79 662,53.87 662.5,53.9 663,53.91 663.5,54.04 664,54.1 664.5,54.16 665,53.82 665.5,53.95 666,54.06 666.5,53.98 667,53.98 667.5,53.94 668,54.02 668.5,54.01 669,54.19 669.5,53.94 670,53.88 670.5,53.67 671,53.65 671.5,53.88 672,54.07 672.5,54.08 673,54.07 673.5,54.07 674,54.01 674.5,53.99 675,54.02 675.5,53.99 676,53.99 676.5,53.96 677,54.13 677.5,54.39 678,54.2 678.5,54.24 679,54.32 679.5,54.06 680,54.05 680.5,54.04" fill="none" stroke="#b24ff0" stroke-width="1.15" stroke-linejoin="round" clip-path="url(#cc)"/>
<polyline points="500.5,69.78 501,69.89 501.5,69.8 502,69.98 502.5,69.97 503,69.78 503.5,69.87 504,69.79 504.5,69.96 505,69.93 505.5,70 506,70.15 506.5,69.87 507,69.87 507.5,69.9 508,69.95 508.5,70.09 509,70.1 509.5,70.15 510,70.06 510.5,70.07 511,69.99 511.5,69.9 512,69.91 512.5,70.11 513,70.2 513.5,70.01 514,69.46 514.5,67.7 515,64.04 515.5,63.96 516,67.75 516.5,69.4 517,69.84 517.5,70.05 518,70.19 518.5,70.01 519,69.88 519.5,70.2 520,70.12 520.5,70.05 521,69.98 521.5,69.95 522,70.07 522.5,70.1 523,70.24 523.5,70.16 524,70.04 524.5,69.57 525,67.93 525.5,62.67 526,53.1 526.5,56.38 527,65.56 527.5,68.94 528,69.71 528.5,70.03 529,70.2 529.5,70.11 530,70.23 530.5,70.29 531,70.43 531.5,70.35 532,70.35 532.5,70.28 533,70.33 533.5,70.55 534,70.28 534.5,70.27 535,70.46 535.5,70.49 536,70.44 536.5,70.45 537,70.53 537.5,70.53 538,70.56 538.5,70.46 539,70.49 539.5,70.38 540,70.44 540.5,69.88 541,68.25 541.5,67.09 542,68.53 542.5,69.96 543,70.42 543.5,70.53 544,70.39 544.5,70.36 545,70.44 545.5,70.7 546,70.49 546.5,70.37 547,70.24 547.5,69.48 548,68.66 548.5,69.3 549,70.34 549.5,70.37 550,70.47 550.5,70.53 551,70.6 551.5,70.62 552,70.67 552.5,70.56 553,70.56 553.5,70.61 554,70.7 554.5,70.63 555,70.55 555.5,70.52 556,70.53 556.5,70.61 557,70.64 557.5,70.68 558,70.73 558.5,70.77 559,70.77 559.5,70.79 560,70.52 560.5,70.41 561,70.38 561.5,70.53 562,70.47 562.5,70.48 563,70.46 563.5,70.29 564,69.94 564.5,70.09 565,70.39 565.5,70.52 566,70.62 566.5,70.71 567,70.53 567.5,70.08 568,69.69 568.5,70.06 569,70.41 569.5,70.61 570,70.59 570.5,70.66 571,70.8 571.5,70.66 572,70.69 572.5,70.76 573,70.9 573.5,70.6 574,70.57 574.5,70.42 575,70.18 575.5,69.79 576,70.13 576.5,70.48 577,70.64 577.5,70.6 578,70.66 578.5,70.66 579,70.53 579.5,70.55 580,70.63 580.5,70.58 581,70.46 581.5,70.56 582,70.68 582.5,70.76 583,70.42 583.5,70.01 584,69.6 584.5,70.21 585,70.46 585.5,70.78 586,70.64 586.5,70.71 587,70.9 587.5,70.78 588,70.79 588.5,70.8 589,70.67 589.5,70.78 590,70.47 590.5,70.24 591,70.44 591.5,70.93 592,70.91 592.5,70.98 593,71.03 593.5,70.98 594,70.88 594.5,70.82 595,70.97 595.5,70.86 596,70.93 596.5,70.86 597,70.87 597.5,70.64 598,70.42 598.5,70.33 599,70.87 599.5,70.86 600,70.91 600.5,70.94 601,70.88 601.5,70.94 602,71.04 602.5,70.89 603,70.82 603.5,70.94 604,70.95 604.5,70.84 605,70.94 605.5,70.62 606,70.44 606.5,70.82 607,70.82 607.5,70.91 608,70.83 608.5,70.89 609,70.63 609.5,70.24 610,70.46 610.5,70.78 611,70.97 611.5,70.86 612,70.99 612.5,70.82 613,71.01 613.5,71.04 614,70.98 614.5,71.06 615,71.14 615.5,70.86 616,70.86 616.5,70.83 617,70.67 617.5,70.53 618,70.93 618.5,71.07 619,71.13 619.5,71.18 620,71.02 620.5,70.96 621,70.92 621.5,70.92 622,70.9 622.5,71 623,70.99 623.5,71.05 624,71.06 624.5,70.98 625,71.11 625.5,71.13 626,70.95 626.5,71.08 627,71.14 627.5,71.11 628,70.98 628.5,70.58 629,70.51 629.5,70.95 630,71.21 630.5,71.13 631,71 631.5,71 632,71.06 632.5,71.09 633,71.08 633.5,71.14 634,70.94 634.5,70.85 635,71.03 635.5,71.05 636,71.15 636.5,71.31 637,71.22 637.5,71.02 638,70.96 638.5,71 639,71.33 639.5,71.31 640,71.38 640.5,71.43 641,71.37 641.5,71.4 642,71.32 642.5,71.37 643,71.15 643.5,71.34 644,71.34 644.5,71.15 645,71.16 645.5,70.85 646,70.75 646.5,70.71 647,71.13 647.5,71.13 648,71.53 648.5,71.39 649,71.31 649.5,71.27 650,71.39 650.5,71.31 651,71.29 651.5,71.22 652,71.27 652.5,71.09 653,71.18 653.5,70.9 654,70.93 654.5,71.08 655,71.23 655.5,71.3 656,71.33 656.5,71.43 657,71.41 657.5,71.22 658,71.19 658.5,71.12 659,70.99 659.5,71.15 660,71.25 660.5,71.4 661,71.24 661.5,71.4 662,71.44 662.5,71.37 663,71.45 663.5,71.48 664,71.39 664.5,71.36 665,71.27 665.5,71.19 666,71.24 666.5,71.38 667,71.36 667.5,71.26 668,71.33 668.5,71.53 669,71.49 669.5,71.45 670,71.32 670.5,71.21 671,71.11 671.5,71.33 672,71.43 672.5,71.53 673,71.46 673.5,71.42 674,71.38 674.5,71.39 675,71.39 675.5,71.42 676,71.28 676.5,71.3 677,71.36 677.5,71.24 678,71.39 678.5,71.36 679,71.35 679.5,71.31 680,71.31 680.5,71.37" fill="none" stroke="#c86cf0" stroke-width="1.15" stroke-linejoin="round" clip-path="url(#cc)"/>
<polyline points="500.5,86.99 501,86.96 501.5,87.12 502,86.9 502.5,86.85 503,87.2 503.5,87.19 504,87.07 504.5,87.2 505,87.24 505.5,87.23 506,87.23 506.5,87.13 507,87.33 507.5,87.13 508,86.96 508.5,87.08 509,87.05 509.5,87.15 510,87.44 510.5,87.42 511,87.3 511.5,87.15 512,87.18 512.5,87.1 513,87.09 513.5,87.09 514,86.64 514.5,84.52 515,80.72 515.5,80.85 516,84.97 516.5,86.71 517,87.15 517.5,87.03 518,87.23 518.5,87.3 519,87.27 519.5,87.48 520,87.32 520.5,87.38 521,87.43 521.5,87.32 522,87.26 522.5,87.17 523,87.11 523.5,87.1 524,86.92 524.5,86.59 525,85.2 525.5,79.6 526,69.6 526.5,72.85 527,82.33 527.5,86.05 528,86.84 528.5,87.22 529,87.21 529.5,87.48 530,87.44 530.5,87.44 531,87.45 531.5,87.49 532,87.39 532.5,87.55 533,87.67 533.5,87.48 534,87.66 534.5,87.57 535,87.81 535.5,87.82 536,87.93 536.5,87.82 537,87.67 537.5,87.66 538,87.76 538.5,87.59 539,87.61 539.5,87.64 540,87.37 540.5,86.88 541,85.34 541.5,83.72 542,85.32 542.5,86.93 543,87.39 543.5,87.71 544,87.6 544.5,87.69 545,87.67 545.5,87.57 546,87.64 546.5,87.57 547,87.18 547.5,86.25 548,85.44 548.5,86.45 549,87.21 549.5,87.66 550,87.53 550.5,87.73 551,87.46 551.5,87.62 552,87.78 552.5,87.8 553,87.74 553.5,87.69 554,87.8 554.5,87.67 555,87.93 555.5,87.96 556,87.99 556.5,87.95 557,87.89 557.5,87.81 558,87.87 558.5,87.96 559,87.94 559.5,87.88 560,87.72 560.5,87.85 561,87.85 561.5,87.89 562,87.91 562.5,87.79 563,87.84 563.5,87.5 564,87.16 564.5,87.41 565,87.84 565.5,88.02 566,88 566.5,87.67 567,87.59 567.5,87.06 568,86.86 568.5,87.25 569,87.52 569.5,87.62 570,87.74 570.5,87.81 571,87.77 571.5,87.81 572,87.82 572.5,87.99 573,88 573.5,87.78 574,87.81 574.5,87.76 575,87.32 575.5,86.87 576,87.38 576.5,87.69 577,87.82 577.5,87.99 578,87.78 578.5,87.91 579,87.98 579.5,87.99 580,87.91 580.5,87.89 581,87.98 581.5,87.94 582,87.88 582.5,87.8 583,87.63 583.5,87.03 584,86.5 584.5,87.01 585,87.73 585.5,87.77 586,87.74 586.5,87.94 587,87.88 587.5,88.06 588,88.09 588.5,88.06 589,88.28 589.5,88.06 590,87.78 590.5,87.52 591,87.69 591.5,88.1 592,88.09 592.5,88.3 593,87.98 593.5,88.14 594,88.16 594.5,88.26 595,88.39 595.5,88.17 596,88.09 596.5,88.02 597,87.85 597.5,87.76 598,87.59 598.5,87.56 599,87.82 599.5,88.05 600,87.94 600.5,87.82 601,87.97 601.5,88.13 602,88.11 602.5,88.09 603,88.19 603.5,88.14 604,88.27 604.5,88.27 605,87.9 605.5,87.58 606,87.54 606.5,87.69 607,87.93 607.5,88.08 608,88.27 608.5,87.97 609,87.66 609.5,87.21 610,87.29 610.5,87.85 611,88.02 611.5,88.05 612,88.04 612.5,87.97 613,88.02 613.5,88.18 614,88.25 614.5,88.1 615,88.25 615.5,88.1 616,88.19 616.5,88.2 617,87.79 617.5,87.7 618,88.03 618.5,88.09 619,88.13 619.5,88.41 620,88.33 620.5,88.32 621,88.39 621.5,88.6 622,88.57 622.5,88.31 623,88.24 623.5,88.26 624,88.24 624.5,88.26 625,88.24 625.5,88.27 626,88.14 626.5,88.13 627,88.29 627.5,88.32 628,88.1 628.5,87.75 629,87.65 629.5,87.97 630,87.93 630.5,88.12 631,88.26 631.5,88.38 632,88.35 632.5,88.34 633,88.32 633.5,88.45 634,88.44 634.5,88.47 635,88.26 635.5,88.18 636,88.26 636.5,88.48 637,88.39 637.5,88.47 638,88.39 638.5,88.3 639,88.24 639.5,88.27 640,88.4 640.5,88.21 641,88.42 641.5,88.43 642,88.54 642.5,88.48 643,88.46 643.5,88.49 644,88.22 644.5,88.28 645,88.32 645.5,87.98 646,87.7 646.5,88.15 647,88.24 647.5,88.27 648,88.41 648.5,88.49 649,88.29 649.5,88.3 650,88.4 650.5,88.38 651,88.41 651.5,88.5 652,88.54 652.5,88.47 653,88.15 653.5,88.05 654,88.23 654.5,88.35 655,88.48 655.5,88.47 656,88.47 656.5,88.35 657,88.44 657.5,88.5 658,88.47 658.5,88.45 659,88.55 659.5,88.52 660,88.51 660.5,88.54 661,88.52 661.5,88.55 662,88.48 662.5,88.54 663,88.45 663.5,88.47 664,88.3 664.5,88.53 665,88.54 665.5,88.57 666,88.57 666.5,88.51 667,88.32 667.5,88.55 668,88.4 668.5,88.63 669,88.4 669.5,88.48 670,88.29 670.5,88.13 671,88.2 671.5,88.22 672,88.53 672.5,88.55 673,88.39 673.5,88.45 674,88.37 674.5,88.62 675,88.58 675.5,88.65 676,88.81 676.5,88.61 677,88.52 677.5,88.58 678,88.61 678.5,88.66 679,88.53 679.5,88.6 680,88.66 680.5,88.52" fill="none" stroke="#e585f3" stroke-width="1.15" stroke-linejoin="round" clip-path="url(#cc)"/>
<polyline points="500.5,106.03 501,106.03 501.5,105.88 502,105.9 502.5,105.98 503,106.19 503.5,106.02 504,106.04 504.5,105.94 505,105.9 505.5,105.94 506,106.14 506.5,106.13 507,106.07 507.5,106.07 508,106.15 508.5,106.27 509,106.14 509.5,106.03 510,105.96 510.5,105.83 511,105.77 511.5,105.75 512,105.97 512.5,105.98 513,105.72 513.5,105.78 514,105.26 514.5,103.33 515,99.52 515.5,99.38 516,103.46 516.5,105.24 517,105.56 517.5,105.64 518,105.91 518.5,105.93 519,106.07 519.5,106.04 520,105.99 520.5,106.02 521,105.87 521.5,105.97 522,105.9 522.5,105.75 523,105.66 523.5,105.62 524,105.52 524.5,105.06 525,103.63 525.5,97.78 526,88.06 526.5,91.1 527,100.6 527.5,104.32 528,105.19 528.5,105.51 529,105.63 529.5,105.66 530,105.67 530.5,105.86 531,105.97 531.5,105.86 532,105.85 532.5,105.84 533,105.93 533.5,105.96 534,105.89 534.5,106.04 535,105.89 535.5,105.89 536,105.92 536.5,105.76 537,105.9 537.5,105.88 538,105.91 538.5,105.9 539,105.89 539.5,106.02 540,105.84 540.5,105.22 541,103.74 541.5,102.23 542,104 542.5,105.45 543,105.98 543.5,105.88 544,106.01 544.5,105.86 545,105.97 545.5,105.85 546,105.89 546.5,106.03 547,105.74 547.5,104.72 548,103.78 548.5,104.73 549,105.75 549.5,106.01 550,105.98 550.5,105.96 551,105.96 551.5,105.99 552,105.99 552.5,106.21 553,106.33 553.5,106.27 554,105.98 554.5,105.96 555,106.2 555.5,106.12 556,106.41 556.5,106.26 557,106.07 557.5,106 558,106.19 558.5,106.09 559,106.07 559.5,106.29 560,106.12 560.5,106.27 561,106.27 561.5,106.22 562,106.25 562.5,106.44 563,106.04 563.5,105.68 564,105.37 564.5,105.57 565,105.85 565.5,106.01 566,105.91 566.5,106.09 567,105.88 567.5,105.41 568,105.15 568.5,105.42 569,105.8 569.5,105.87 570,105.76 570.5,106.06 571,106.1 571.5,106.09 572,105.97 572.5,106.07 573,105.83 573.5,105.95 574,105.86 574.5,105.67 575,105.58 575.5,104.93 576,105.19 576.5,105.8 577,106.01 577.5,106.25 578,106.13 578.5,106.34 579,106.34 579.5,106.22 580,106.1 580.5,106.02 581,106.18 581.5,106.18 582,106.23 582.5,106.14 583,105.96 583.5,105.28 584,104.75 584.5,105.41 585,105.89 585.5,106.04 586,106.07 586.5,106.18 587,106.05 587.5,105.95 588,106.04 588.5,106.27 589,106.12 589.5,105.98 590,105.81 590.5,105.59 591,105.78 591.5,106.17 592,106.24 592.5,106.3 593,106.37 593.5,106.48 594,106.35 594.5,106.14 595,106.18 595.5,106.17 596,106.07 596.5,106.05 597,105.98 597.5,105.83 598,105.42 598.5,105.43 599,105.61 599.5,105.86 600,106.24 600.5,106.18 601,106.2 601.5,106.14 602,106.02 602.5,106.08 603,105.94 603.5,106.02 604,106.04 604.5,105.97 605,105.89 605.5,105.54 606,105.64 606.5,105.89 607,106.06 607.5,106.05 608,106 608.5,106.14 609,105.87 609.5,105.61 610,105.63 610.5,106.2 611,106.34 611.5,106.29 612,106.26 612.5,106.26 613,106.08 613.5,106.23 614,106.34 614.5,106.25 615,106.24 615.5,106.35 616,106.4 616.5,106.08 617,105.87 617.5,105.71 618,105.8 618.5,106.04 619,106.07 619.5,106.09 620,106 620.5,106.07 621,106.12 621.5,106.14 622,106.1 622.5,106.24 623,106.23 623.5,106.36 624,106.22 624.5,106.31 625,106.13 625.5,106.04 626,106.11 626.5,106.18 627,106.33 627.5,106.2 628,106.18 628.5,105.86 629,105.72 629.5,106.17 630,106.15 630.5,106.25 631,106.03 631.5,106 632,106.13 632.5,106.08 633,106.21 633.5,106.28 634,106.51 634.5,106.31 635,106.21 635.5,106.55 636,106.55 636.5,106.22 637,106.33 637.5,106.05 638,106.25 638.5,106.27 639,106.33 639.5,106.52 640,106.37 640.5,106.29 641,106.24 641.5,106.25 642,106.35 642.5,106.37 643,106.28 643.5,106.16 644,106.36 644.5,106.3 645,106.11 645.5,105.97 646,105.71 646.5,105.89 647,106.25 647.5,106.12 648,106.15 648.5,106.12 649,106.17 649.5,106.3 650,106.28 650.5,106.3 651,106.32 651.5,106.26 652,106.13 652.5,106.14 653,106.11 653.5,106.02 654,106.03 654.5,106.03 655,106.22 655.5,106.27 656,106.29 656.5,106.31 657,106.26 657.5,106.26 658,106.17 658.5,106.36 659,106.19 659.5,106.27 660,106.45 660.5,106.2 661,106 661.5,106.09 662,106.22 662.5,106.25 663,106.26 663.5,106.4 664,106.42 664.5,106.56 665,106.42 665.5,106.63 666,106.36 666.5,106.46 667,106.34 667.5,106.41 668,106.44 668.5,106.38 669,106.27 669.5,106.28 670,106.09 670.5,106.04 671,105.96 671.5,106.12 672,106.19 672.5,106.24 673,106.3 673.5,106.38 674,106.24 674.5,106.17 675,106.18 675.5,106.2 676,106.35 676.5,106.17 677,106.24 677.5,106.42 678,106.4 678.5,106.4 679,106.41 679.5,106.43 680,106.52 680.5,106.51" fill="none" stroke="#8a8ff1" stroke-width="1.15" stroke-linejoin="round" clip-path="url(#cc)"/>
<polyline points="500.5,122.86 501,122.75 501.5,122.54 502,122.58 502.5,122.79 503,122.79 503.5,122.76 504,122.8 504.5,122.82 505,122.54 505.5,122.71 506,122.85 506.5,123.06 507,122.97 507.5,122.91 508,123.09 508.5,123.03 509,123.01 509.5,122.99 510,123.09 510.5,122.96 511,123.05 511.5,123.2 512,123.13 512.5,122.77 513,122.93 513.5,122.85 514,122.88 514.5,123 515,123.08 515.5,123.04 516,123.13 516.5,123.08 517,123.13 517.5,123.09 518,123.05 518.5,122.9 519,122.94 519.5,122.92 520,122.76 520.5,122.7 521,122.7 521.5,122.29 522,120.86 522.5,115.8 523,108.44 523.5,112.61 524,119.45 524.5,121.89 525,122.4 525.5,122.23 526,121.04 526.5,117.37 527,114.9 527.5,118.89 528,122.02 528.5,122.57 529,122.83 529.5,122.78 530,123.01 530.5,122.98 531,123.06 531.5,123.09 532,123.28 532.5,123.15 533,123.13 533.5,123.18 534,123.08 534.5,123.29 535,123.3 535.5,123.21 536,123.16 536.5,123.17 537,123.17 537.5,123.15 538,123.21 538.5,123.19 539,123.11 539.5,123.21 540,123.05 540.5,122.95 541,123.09 541.5,123.26 542,123.25 542.5,123.19 543,123.39 543.5,123.25 544,123.14 544.5,122.83 545,121.72 545.5,119.57 546,119.96 546.5,122.06 547,122.91 547.5,122.84 548,122.65 548.5,121.96 549,120.61 549.5,121.12 550,122.42 550.5,123.05 551,123.06 551.5,123.2 552,123.28 552.5,123.21 553,123.32 553.5,123.19 554,123.23 554.5,123.2 555,123.24 555.5,123.22 556,122.81 556.5,121.51 557,118.76 557.5,119.33 558,121.75 558.5,122.89 559,123.13 559.5,123.13 560,123.15 560.5,122.98 561,122.79 561.5,122.64 562,121.22 562.5,117.17 563,114.49 563.5,118.67 564,121.8 564.5,122.6 565,122.77 565.5,123.08 566,123.16 566.5,123.23 567,123.27 567.5,123.19 568,123.26 568.5,123.35 569,123.09 569.5,123.07 570,122.56 570.5,121.74 571,122.24 571.5,123 572,123.18 572.5,123.32 573,123.28 573.5,123.43 574,123.39 574.5,123.31 575,123.09 575.5,123.3 576,123.35 576.5,123.42 577,123.25 577.5,123.47 578,123.39 578.5,123.44 579,123.41 579.5,123.43 580,123.05 580.5,122.05 581,121.46 581.5,122.39 582,123.1 582.5,123.34 583,123.42 583.5,123.36 584,123.42 584.5,123.31 585,123.51 585.5,123.51 586,123.52 586.5,123.31 587,123.4 587.5,123.39 588,123.33 588.5,122.78 589,121.23 589.5,120.74 590,122.21 590.5,123.03 591,123.38 591.5,123.3 592,123.31 592.5,123.43 593,123.22 593.5,123.14 594,123.28 594.5,123.32 595,123.4 595.5,123.37 596,123.4 596.5,123.32 597,123.21 597.5,123.23 598,123.19 598.5,122.68 599,121.38 599.5,121.26 600,122.49 600.5,123.19 601,123.28 601.5,123.25 602,123.51 602.5,123.44 603,123.46 603.5,123.44 604,123.35 604.5,123.49 605,123.34 605.5,122.84 606,122.56 606.5,123.22 607,123.32 607.5,123.49 608,123.51 608.5,123.25 609,122.96 609.5,121.94 610,120.56 610.5,121.76 611,122.94 611.5,123.04 612,122.54 612.5,121.37 613,121.56 613.5,122.87 614,123.2 614.5,123.41 615,123.4 615.5,123.5 616,123.41 616.5,123.23 617,122.78 617.5,122.7 618,123.17 618.5,123.48 619,123.55 619.5,123.61 620,123.56 620.5,123.75 621,123.7 621.5,123.71 622,123.77 622.5,123.66 623,123.67 623.5,123.75 624,123.82 624.5,123.71 625,123.59 625.5,123.36 626,123.15 626.5,122.54 627,122.52 627.5,123.03 628,123.6 628.5,123.64 629,123.71 629.5,123.72 630,123.43 630.5,123.6 631,123.53 631.5,123.59 632,123.6 632.5,123.78 633,123.75 633.5,123.49 634,123.76 634.5,123.67 635,123.68 635.5,123.67 636,123.87 636.5,123.48 637,123.63 637.5,123.53 638,123.52 638.5,123.52 639,123.64 639.5,123.54 640,123.58 640.5,123.74 641,123.47 641.5,122.79 642,121.52 642.5,121.68 643,122.78 643.5,123.39 644,123.47 644.5,123.74 645,123.64 645.5,123.6 646,123.58 646.5,123.43 647,123.64 647.5,123.63 648,123.63 648.5,123.55 649,123.75 649.5,123.57 650,123.58 650.5,123.46 651,123.09 651.5,122.5 652,122.49 652.5,123.34 653,123.86 653.5,123.79 654,123.62 654.5,123.7 655,123.62 655.5,123.77 656,123.58 656.5,123.63 657,123.18 657.5,122.76 658,123.22 658.5,123.5 659,123.76 659.5,123.82 660,123.73 660.5,123.72 661,123.79 661.5,123.95 662,123.87 662.5,123.72 663,123.86 663.5,123.86 664,123.77 664.5,123.79 665,123.86 665.5,123.89 666,123.91 666.5,123.92 667,123.97 667.5,123.82 668,124.02 668.5,124.08 669,124.05 669.5,123.88 670,123.95 670.5,124.1 671,124.05 671.5,123.78 672,123.77 672.5,123.81 673,124.07 673.5,123.99 674,123.75 674.5,123.95 675,123.95 675.5,123.81 676,123.99 676.5,123.91 677,123.96 677.5,123.79 678,123.78 678.5,123.89 679,123.79 679.5,123.81 680,123.73 680.5,123.68" fill="none" stroke="#3dba98" stroke-width="1.15" stroke-linejoin="round" clip-path="url(#cc)"/>
<polyline points="500.5,140.93 501,140.98 501.5,140.97 502,140.86 502.5,140.83 503,140.88 503.5,140.78 504,140.7 504.5,140.71 505,140.92 505.5,140.9 506,140.83 506.5,140.94 507,140.79 507.5,140.96 508,140.78 508.5,140.84 509,140.79 509.5,140.77 510,140.77 510.5,140.75 511,140.5 511.5,140.76 512,140.9 512.5,140.86 513,140.63 513.5,140.4 514,139.64 514.5,136.86 515,130.92 515.5,131.15 516,136.95 516.5,139.75 517,140.39 517.5,140.52 518,140.63 518.5,140.83 519,140.75 519.5,140.81 520,140.64 520.5,140.58 521,140.58 521.5,140.55 522,140.64 522.5,140.69 523,140.48 523.5,140.47 524,140.29 524.5,139.73 525,138.51 525.5,132.86 526,123.06 526.5,126.51 527,135.83 527.5,139.5 528,140.11 528.5,140.28 529,140.5 529.5,140.63 530,140.71 530.5,140.8 531,140.74 531.5,140.87 532,140.87 532.5,140.98 533,140.85 533.5,140.77 534,140.92 534.5,141.05 535,140.92 535.5,140.93 536,140.93 536.5,140.99 537,140.9 537.5,140.73 538,140.69 538.5,140.75 539,140.75 539.5,140.79 540,140.64 540.5,139.78 541,137.13 541.5,134.83 542,137.37 542.5,139.73 543,140.6 543.5,140.76 544,140.83 544.5,140.72 545,140.78 545.5,140.6 546,140.67 546.5,140.71 547,140.15 547.5,138.75 548,137.55 548.5,139.01 549,140.23 549.5,140.84 550,140.92 550.5,140.94 551,141.11 551.5,141.01 552,140.97 552.5,141.08 553,141.05 553.5,140.95 554,141.07 554.5,141.14 555,140.86 555.5,140.86 556,140.89 556.5,140.87 557,140.87 557.5,140.86 558,140.96 558.5,141.06 559,141.06 559.5,141.06 560,141.14 560.5,141.26 561,141.3 561.5,141.31 562,141.06 562.5,140.97 563,140.9 563.5,140.33 564,139.82 564.5,140.31 565,140.8 565.5,140.86 566,140.71 566.5,140.82 567,140.76 567.5,140.02 568,139.44 568.5,140.16 569,140.72 569.5,141.1 570,141.02 570.5,140.9 571,140.94 571.5,141.03 572,141.11 572.5,141.16 573,141.19 573.5,141.09 574,141.07 574.5,140.87 575,140.1 575.5,139.3 576,139.87 576.5,140.78 577,140.9 577.5,140.84 578,140.88 578.5,140.98 579,140.91 579.5,140.97 580,141.07 580.5,140.91 581,141.06 581.5,141.02 582,140.95 582.5,140.99 583,140.74 583.5,139.97 584,138.84 584.5,139.56 585,140.56 585.5,140.86 586,141.01 586.5,141.06 587,141.09 587.5,141.2 588,141.18 588.5,141.04 589,140.97 589.5,140.95 590,140.56 590.5,140.23 591,140.48 591.5,140.94 592,140.99 592.5,140.88 593,141.05 593.5,141.01 594,140.87 594.5,140.85 595,140.81 595.5,140.91 596,140.9 596.5,140.96 597,140.95 597.5,140.67 598,140.06 598.5,140.44 599,140.84 599.5,141.11 600,140.88 600.5,141.02 601,141.11 601.5,141.03 602,141.01 602.5,141.14 603,141.12 603.5,141.07 604,141.01 604.5,141.03 605,140.75 605.5,140.46 606,140.51 606.5,140.79 607,141.08 607.5,141.11 608,141.09 608.5,140.98 609,140.76 609.5,140.03 610,140.17 610.5,140.79 611,141.09 611.5,141 612,141.1 612.5,141.12 613,141.12 613.5,140.96 614,141.01 614.5,141.15 615,141.28 615.5,141.14 616,141.16 616.5,140.8 617,140.4 617.5,140.4 618,140.79 618.5,141.21 619,141.26 619.5,141.14 620,141.17 620.5,140.97 621,141.04 621.5,141.23 622,141.04 622.5,141.13 623,140.88 623.5,141.16 624,141.01 624.5,141.16 625,141.14 625.5,141.03 626,141.08 626.5,141.03 627,141.04 627.5,141.1 628,140.76 628.5,140.31 629,140.33 629.5,140.78 630,141.37 630.5,141.4 631,141.22 631.5,141.18 632,141.48 632.5,141.33 633,141.3 633.5,141.4 634,141.25 634.5,141.3 635,141.14 635.5,141.13 636,141.19 636.5,141.1 637,141.17 637.5,141.17 638,141.03 638.5,141.03 639,141.12 639.5,141.25 640,141.16 640.5,141.07 641,141.18 641.5,141.13 642,141.17 642.5,141.14 643,141.2 643.5,141.05 644,141.09 644.5,141.1 645,141.01 645.5,140.77 646,140.52 646.5,140.68 647,141.15 647.5,141.09 648,141.13 648.5,141.05 649,141.15 649.5,141.28 650,141.27 650.5,141.32 651,141.17 651.5,141.18 652,141.16 652.5,140.98 653,140.89 653.5,140.76 654,140.76 654.5,141.02 655,141.23 655.5,141.16 656,141.24 656.5,141.05 657,141.23 657.5,141.25 658,141.34 658.5,141.38 659,141.38 659.5,141.28 660,141.23 660.5,141.3 661,141.31 661.5,141.31 662,141.22 662.5,141.19 663,141.21 663.5,141.26 664,141.08 664.5,141.14 665,141.25 665.5,141.27 666,141.18 666.5,141.29 667,141.41 667.5,141.28 668,141.22 668.5,141.03 669,141.29 669.5,141.27 670,141.11 670.5,140.83 671,140.65 671.5,140.93 672,141.28 672.5,141.25 673,141.23 673.5,141.19 674,141.26 674.5,141.21 675,141.35 675.5,141.38 676,141.26 676.5,141.21 677,141.19 677.5,141.03 678,141.21 678.5,141.49 679,141.38 679.5,141.38 680,141.29 680.5,141.44" fill="none" stroke="#3d3b3c" stroke-width="1.15" stroke-linejoin="round" clip-path="url(#cc)"/>
<text x="598.7" y="50.4" font-size="9.4" fill="#111">75% RH, 3 months</text>
<text x="598.7" y="66.8" font-size="9.4" fill="#111">75% RH, 1 month</text>
<text x="598.7" y="83.2" font-size="9.4" fill="#111">75% RH, 7 days</text>
<text x="598.7" y="99.6" font-size="9.4" fill="#111">as-synthesized</text>
<text x="576.9" y="118.1" font-size="9.4" fill="#111">MOF-5 (75% RH, 1 day)</text>
<text x="576.9" y="135.4" font-size="9.4" fill="#111">MOF-5 as-synthesized</text>
<text x="561.9" y="29.7" font-size="9.4" fill="#111">MOF-5-GO</text>
<rect x="500.5" y="6.5" width="180.0" height="138.0" fill="none" stroke="#231f20" stroke-width="1.15"/>
<line x1="508.16" y1="144.5" x2="508.16" y2="143.1" stroke="#231f20" stroke-width="1"/>
<line x1="527.31" y1="144.5" x2="527.31" y2="141.9" stroke="#231f20" stroke-width="1"/>
<text x="527.31" y="155.6" font-size="9.2" text-anchor="middle" fill="#111">10</text>
<line x1="546.46" y1="144.5" x2="546.46" y2="143.1" stroke="#231f20" stroke-width="1"/>
<line x1="565.61" y1="144.5" x2="565.61" y2="141.9" stroke="#231f20" stroke-width="1"/>
<text x="565.61" y="155.6" font-size="9.2" text-anchor="middle" fill="#111">20</text>
<line x1="584.76" y1="144.5" x2="584.76" y2="143.1" stroke="#231f20" stroke-width="1"/>
<line x1="603.9" y1="144.5" x2="603.9" y2="141.9" stroke="#231f20" stroke-width="1"/>
<text x="603.9" y="155.6" font-size="9.2" text-anchor="middle" fill="#111">30</text>
<line x1="623.05" y1="144.5" x2="623.05" y2="143.1" stroke="#231f20" stroke-width="1"/>
<line x1="642.2" y1="144.5" x2="642.2" y2="141.9" stroke="#231f20" stroke-width="1"/>
<text x="642.2" y="155.6" font-size="9.2" text-anchor="middle" fill="#111">40</text>
<line x1="661.35" y1="144.5" x2="661.35" y2="143.1" stroke="#231f20" stroke-width="1"/>
<text x="680.5" y="155.6" font-size="9.2" text-anchor="middle" fill="#111">50</text>
<text x="591.7" y="167.4" font-size="9.4" text-anchor="middle" fill="#111">2<tspan font-style="italic">θ</tspan> (<tspan font-size="5.8" dy="-3.2" dx="0.3">o</tspan><tspan dy="3.2" dx="0.5">)</tspan></text>
<text transform="translate(493.7,75.6) rotate(-90)" font-size="9.4" text-anchor="middle" fill="#111">Intensity</text>
<text x="471" y="8.7" font-size="12" font-weight="bold" fill="#000">c</text>
<g>
<circle cx="40.73" cy="311.07" r="1.95" fill="url(#sph)"/>
<circle cx="40.73" cy="309.67" r="1.95" fill="url(#sph)"/>
<circle cx="40.74" cy="308.04" r="1.95" fill="url(#sph)"/>
<circle cx="40.74" cy="306.72" r="1.95" fill="url(#sph)"/>
<circle cx="40.75" cy="305.19" r="1.95" fill="url(#sph)"/>
<circle cx="40.75" cy="303.74" r="1.95" fill="url(#sph)"/>
<circle cx="40.76" cy="302.15" r="1.95" fill="url(#sph)"/>
<circle cx="40.76" cy="300.69" r="1.95" fill="url(#sph)"/>
<circle cx="40.77" cy="299.21" r="1.95" fill="url(#sph)"/>
<circle cx="40.78" cy="297.66" r="1.95" fill="url(#sph)"/>
<circle cx="40.79" cy="296.19" r="1.95" fill="url(#sph)"/>
<circle cx="40.8" cy="294.69" r="1.95" fill="url(#sph)"/>
<circle cx="40.81" cy="293.25" r="1.95" fill="url(#sph)"/>
<circle cx="40.82" cy="291.66" r="1.95" fill="url(#sph)"/>
<circle cx="40.83" cy="290.16" r="1.95" fill="url(#sph)"/>
<circle cx="40.85" cy="288.73" r="1.95" fill="url(#sph)"/>
<circle cx="40.86" cy="287.21" r="1.95" fill="url(#sph)"/>
<circle cx="40.88" cy="285.7" r="1.95" fill="url(#sph)"/>
<circle cx="40.89" cy="284.23" r="1.95" fill="url(#sph)"/>
<circle cx="40.91" cy="282.73" r="1.95" fill="url(#sph)"/>
<circle cx="40.93" cy="281.25" r="1.95" fill="url(#sph)"/>
<circle cx="40.95" cy="279.71" r="1.95" fill="url(#sph)"/>
<circle cx="40.97" cy="278.24" r="1.95" fill="url(#sph)"/>
<circle cx="41.01" cy="276.74" r="1.95" fill="url(#sph)"/>
<circle cx="41.05" cy="275.04" r="1.95" fill="url(#sph)"/>
<circle cx="41.1" cy="273.45" r="1.95" fill="url(#sph)"/>
<circle cx="41.16" cy="272.01" r="1.95" fill="url(#sph)"/>
<circle cx="41.21" cy="270.71" r="1.95" fill="url(#sph)"/>
<circle cx="41.29" cy="269" r="1.95" fill="url(#sph)"/>
<circle cx="41.36" cy="267.55" r="1.95" fill="url(#sph)"/>
<circle cx="41.45" cy="266.16" r="1.95" fill="url(#sph)"/>
<circle cx="41.57" cy="264.76" r="1.95" fill="url(#sph)"/>
<circle cx="41.75" cy="263.22" r="1.95" fill="url(#sph)"/>
<circle cx="42.15" cy="260.77" r="1.95" fill="url(#sph)"/>
<circle cx="42.76" cy="258.36" r="1.95" fill="url(#sph)"/>
<circle cx="43.49" cy="255.98" r="1.95" fill="url(#sph)"/>
<circle cx="44.37" cy="253.65" r="1.95" fill="url(#sph)"/>
<circle cx="45.3" cy="251.3" r="1.95" fill="url(#sph)"/>
<circle cx="46.21" cy="249" r="1.95" fill="url(#sph)"/>
<circle cx="47.19" cy="246.7" r="1.95" fill="url(#sph)"/>
<circle cx="48.24" cy="244.42" r="1.95" fill="url(#sph)"/>
<circle cx="49.32" cy="242.17" r="1.95" fill="url(#sph)"/>
<circle cx="50.43" cy="239.92" r="1.95" fill="url(#sph)"/>
<circle cx="57.06" cy="232.12" r="1.95" fill="url(#sph)"/>
<circle cx="65.24" cy="229.8" r="1.95" fill="url(#sph)"/>
<circle cx="73.42" cy="228.12" r="1.95" fill="url(#sph)"/>
<circle cx="81.6" cy="226.84" r="1.95" fill="url(#sph)"/>
<circle cx="89.78" cy="225.74" r="1.95" fill="url(#sph)"/>
<circle cx="97.96" cy="224.68" r="1.95" fill="url(#sph)"/>
<circle cx="106.14" cy="223.74" r="1.95" fill="url(#sph)"/>
<circle cx="114.32" cy="222.96" r="1.95" fill="url(#sph)"/>
<circle cx="122.5" cy="222.4" r="1.95" fill="url(#sph)"/>
<circle cx="130.68" cy="222.02" r="1.95" fill="url(#sph)"/>
<circle cx="138.86" cy="221.75" r="1.95" fill="url(#sph)"/>
<circle cx="147.04" cy="221.49" r="1.95" fill="url(#sph)"/>
<circle cx="155.22" cy="221.18" r="1.95" fill="url(#sph)"/>
<circle cx="163.4" cy="220.83" r="1.95" fill="url(#sph)"/>
<circle cx="171.58" cy="220.45" r="1.95" fill="url(#sph)"/>
<circle cx="179.76" cy="219.98" r="1.95" fill="url(#sph)"/>
<circle cx="187.94" cy="219.36" r="1.95" fill="url(#sph)"/>
<circle cx="192.85" cy="218.71" r="1.95" fill="url(#sph)"/>
<circle cx="194.48" cy="218.43" r="1.95" fill="url(#sph)"/>
<circle cx="196.12" cy="218.14" r="1.95" fill="url(#sph)"/>
<circle cx="197.76" cy="217.83" r="1.95" fill="url(#sph)"/>
<circle cx="199.39" cy="217.49" r="1.95" fill="url(#sph)"/>
<circle cx="200.21" cy="217.31" r="1.95" fill="url(#sph)"/>
<circle cx="201.03" cy="217.12" r="1.95" fill="url(#sph)"/>
<circle cx="201.85" cy="216.92" r="1.95" fill="url(#sph)"/>
<polygon points="40.71,308.8 42.9,310.39 42.06,312.96 39.36,312.96 38.52,310.39" fill="#8c9cf7"/>
<polygon points="40.71,307.33 42.9,308.92 42.07,311.49 39.36,311.49 38.53,308.92" fill="#8c9cf7"/>
<polygon points="40.71,305.88 42.9,307.47 42.07,310.04 39.36,310.04 38.53,307.47" fill="#8c9cf7"/>
<polygon points="40.72,304.44 42.9,306.03 42.07,308.6 39.36,308.6 38.53,306.03" fill="#8c9cf7"/>
<polygon points="40.72,302.32 42.91,303.91 42.07,306.48 39.37,306.48 38.53,303.91" fill="#8c9cf7"/>
<polygon points="40.72,300.93 42.91,302.52 42.07,305.09 39.37,305.09 38.53,302.52" fill="#8c9cf7"/>
<polygon points="40.72,299.56 42.91,301.15 42.07,303.72 39.37,303.72 38.53,301.15" fill="#8c9cf7"/>
<polygon points="40.72,298.22 42.91,299.81 42.08,302.38 39.37,302.38 38.54,299.81" fill="#8c9cf7"/>
<polygon points="40.73,296.91 42.91,298.5 42.08,301.07 39.37,301.07 38.54,298.5" fill="#8c9cf7"/>
<polygon points="40.73,295 42.92,296.59 42.08,299.16 39.38,299.16 38.54,296.59" fill="#8c9cf7"/>
<polygon points="40.73,293.78 42.92,295.36 42.08,297.94 39.38,297.94 38.54,295.36" fill="#8c9cf7"/>
<polygon points="40.73,292 42.92,293.59 42.08,296.17 39.38,296.17 38.54,293.59" fill="#8c9cf7"/>
<polygon points="40.73,290.87 42.92,292.46 42.09,295.04 39.38,295.04 38.55,292.46" fill="#8c9cf7"/>
<polygon points="40.74,289.26 42.92,290.85 42.09,293.42 39.38,293.42 38.55,290.85" fill="#8c9cf7"/>
<polygon points="40.74,287.76 42.93,289.35 42.09,291.92 39.39,291.92 38.55,289.35" fill="#8c9cf7"/>
<polygon points="40.74,286.37 42.93,287.96 42.09,290.53 39.39,290.53 38.55,287.96" fill="#8c9cf7"/>
<polygon points="40.74,284.71 42.93,286.3 42.1,288.87 39.39,288.87 38.56,286.3" fill="#8c9cf7"/>
<polygon points="40.75,283.29 42.93,284.88 42.1,287.45 39.4,287.45 38.56,284.88" fill="#8c9cf7"/>
<polygon points="40.75,281.81 42.94,283.4 42.1,285.97 39.4,285.97 38.56,283.4" fill="#8c9cf7"/>
<polygon points="40.76,280.39 42.94,281.98 42.11,284.55 39.4,284.55 38.57,281.98" fill="#8c9cf7"/>
<polygon points="40.76,278.76 42.95,280.35 42.11,282.92 39.41,282.92 38.57,280.35" fill="#8c9cf7"/>
<polygon points="40.76,277.44 42.95,279.03 42.12,281.6 39.41,281.6 38.58,279.03" fill="#8c9cf7"/>
<polygon points="40.77,275.92 42.96,277.51 42.12,280.08 39.42,280.08 38.58,277.51" fill="#8c9cf7"/>
<polygon points="40.78,274.22 42.96,275.81 42.13,278.38 39.42,278.38 38.59,275.81" fill="#8c9cf7"/>
<polygon points="40.78,272.83 42.97,274.42 42.13,276.99 39.43,276.99 38.59,274.42" fill="#8c9cf7"/>
<polygon points="40.79,271.29 42.97,272.88 42.14,275.45 39.43,275.45 38.6,272.88" fill="#8c9cf7"/>
<polygon points="40.79,269.83 42.98,271.42 42.14,273.99 39.44,273.99 38.6,271.42" fill="#8c9cf7"/>
<polygon points="40.8,268.26 42.99,269.85 42.15,272.42 39.45,272.42 38.61,269.85" fill="#8c9cf7"/>
<polygon points="40.8,266.8 42.99,268.39 42.16,270.97 39.45,270.97 38.62,268.39" fill="#8c9cf7"/>
<polygon points="40.81,265.29 43,266.88 42.16,269.45 39.46,269.45 38.62,266.88" fill="#8c9cf7"/>
<polygon points="40.82,263.91 43.01,265.5 42.17,268.07 39.47,268.07 38.63,265.5" fill="#8c9cf7"/>
<polygon points="40.83,262.4 43.02,263.99 42.18,266.56 39.48,266.56 38.64,263.99" fill="#8c9cf7"/>
<polygon points="40.84,260.87 43.03,262.46 42.19,265.03 39.49,265.03 38.65,262.46" fill="#8c9cf7"/>
<polygon points="40.85,259.44 43.04,261.03 42.2,263.61 39.5,263.61 38.66,261.03" fill="#8c9cf7"/>
<polygon points="40.87,257.89 43.06,259.48 42.22,262.06 39.52,262.06 38.68,259.48" fill="#8c9cf7"/>
<polygon points="40.89,256.43 43.08,258.02 42.24,260.59 39.54,260.59 38.71,258.02" fill="#8c9cf7"/>
<polygon points="40.92,254.94 43.11,256.53 42.27,259.11 39.57,259.11 38.73,256.53" fill="#8c9cf7"/>
<polygon points="40.95,253.43 43.14,255.02 42.3,257.59 39.6,257.59 38.77,255.02" fill="#8c9cf7"/>
<polygon points="41,251.94 43.19,253.53 42.35,256.11 39.65,256.11 38.81,253.53" fill="#8c9cf7"/>
<polygon points="41.09,250.4 43.28,251.99 42.44,254.56 39.74,254.56 38.9,251.99" fill="#8c9cf7"/>
<polygon points="41.19,248.9 43.38,250.49 42.55,253.06 39.84,253.06 39.01,250.49" fill="#8c9cf7"/>
<polygon points="41.31,247.37 43.5,248.96 42.66,251.54 39.96,251.54 39.12,248.96" fill="#8c9cf7"/>
<polygon points="41.44,245.86 43.63,247.45 42.79,250.02 40.09,250.02 39.25,247.45" fill="#8c9cf7"/>
<polygon points="41.58,244.39 43.77,245.98 42.93,248.55 40.23,248.55 39.39,245.98" fill="#8c9cf7"/>
<polygon points="41.75,242.9 43.94,244.48 43.1,247.06 40.4,247.06 39.56,244.48" fill="#8c9cf7"/>
<polygon points="42.1,240.48 44.29,242.07 43.45,244.64 40.75,244.64 39.91,242.07" fill="#8c9cf7"/>
<polygon points="42.61,238.01 44.8,239.6 43.97,242.17 41.26,242.17 40.43,239.6" fill="#8c9cf7"/>
<polygon points="43.22,235.62 45.41,237.21 44.57,239.79 41.87,239.79 41.03,237.21" fill="#8c9cf7"/>
<polygon points="43.99,233.23 46.18,234.82 45.35,237.39 42.64,237.39 41.81,234.82" fill="#8c9cf7"/>
<polygon points="44.97,230.93 47.16,232.52 46.33,235.1 43.62,235.1 42.79,232.52" fill="#8c9cf7"/>
<polygon points="45.99,228.68 48.18,230.27 47.35,232.84 44.64,232.84 43.81,230.27" fill="#8c9cf7"/>
<polygon points="47.23,226.5 49.42,228.09 48.58,230.66 45.88,230.66 45.04,228.09" fill="#8c9cf7"/>
<polygon points="48.95,224.69 51.13,226.28 50.3,228.85 47.6,228.85 46.76,226.28" fill="#8c9cf7"/>
<polygon points="50.95,223.21 53.13,224.8 52.3,227.37 49.6,227.37 48.76,224.8" fill="#8c9cf7"/>
<polygon points="57.06,220.1 59.25,221.69 58.41,224.26 55.71,224.26 54.87,221.69" fill="#8c9cf7"/>
<polygon points="65.24,218.21 67.43,219.8 66.59,222.37 63.89,222.37 63.05,219.8" fill="#8c9cf7"/>
<polygon points="73.42,216.91 75.61,218.5 74.77,221.07 72.07,221.07 71.23,218.5" fill="#8c9cf7"/>
<polygon points="81.6,215.91 83.79,217.5 82.95,220.07 80.25,220.07 79.41,217.5" fill="#8c9cf7"/>
<polygon points="89.78,214.93 91.97,216.52 91.13,219.09 88.43,219.09 87.59,216.52" fill="#8c9cf7"/>
<polygon points="97.96,213.86 100.15,215.45 99.31,218.02 96.61,218.02 95.77,215.45" fill="#8c9cf7"/>
<polygon points="106.14,212.84 108.33,214.43 107.49,217 104.79,217 103.95,214.43" fill="#8c9cf7"/>
<polygon points="114.32,211.95 116.51,213.54 115.67,216.11 112.97,216.11 112.13,213.54" fill="#8c9cf7"/>
<polygon points="122.5,211.28 124.69,212.87 123.85,215.44 121.15,215.44 120.31,212.87" fill="#8c9cf7"/>
<polygon points="130.68,210.84 132.87,212.43 132.03,215 129.33,215 128.49,212.43" fill="#8c9cf7"/>
<polygon points="138.86,210.53 141.05,212.12 140.21,214.69 137.51,214.69 136.67,212.12" fill="#8c9cf7"/>
<polygon points="147.04,210.21 149.23,211.79 148.39,214.37 145.69,214.37 144.85,211.79" fill="#8c9cf7"/>
<polygon points="155.22,209.76 157.41,211.35 156.57,213.92 153.87,213.92 153.03,211.35" fill="#8c9cf7"/>
<polygon points="163.4,209.16 165.59,210.75 164.75,213.32 162.05,213.32 161.21,210.75" fill="#8c9cf7"/>
<polygon points="171.58,208.39 173.77,209.98 172.93,212.55 170.23,212.55 169.39,209.98" fill="#8c9cf7"/>
<polygon points="179.76,207.31 181.95,208.9 181.11,211.47 178.41,211.47 177.57,208.9" fill="#8c9cf7"/>
<polygon points="187.94,205.81 190.13,207.4 189.29,209.97 186.59,209.97 185.75,207.4" fill="#8c9cf7"/>
<polygon points="192.85,204.03 195.04,205.62 194.2,208.19 191.5,208.19 190.66,205.62" fill="#8c9cf7"/>
<polygon points="194.48,203.16 196.67,204.75 195.84,207.32 193.13,207.32 192.3,204.75" fill="#8c9cf7"/>
<polygon points="196.12,202.16 198.31,203.75 197.47,206.32 194.77,206.32 193.93,203.75" fill="#8c9cf7"/>
<polygon points="197.76,200.86 199.94,202.45 199.11,205.02 196.4,205.02 195.57,202.45" fill="#8c9cf7"/>
<polygon points="199.39,199.14 201.58,200.73 200.74,203.3 198.04,203.3 197.2,200.73" fill="#8c9cf7"/>
<polygon points="200.21,198.17 202.4,199.76 201.56,202.33 198.86,202.33 198.02,199.76" fill="#8c9cf7"/>
<polygon points="201.03,197.14 203.22,198.73 202.38,201.3 199.68,201.3 198.84,198.73" fill="#8c9cf7"/>
<polygon points="201.85,196.08 204.03,197.67 203.2,200.24 200.49,200.24 199.66,197.67" fill="#8c9cf7"/>
<rect x="38.86" y="308.86" width="3.7" height="3.7" fill="#e39cf5"/>
<rect x="38.86" y="307.54" width="3.7" height="3.7" fill="#e39cf5"/>
<rect x="38.87" y="306.24" width="3.7" height="3.7" fill="#e39cf5"/>
<rect x="38.87" y="304.31" width="3.7" height="3.7" fill="#e39cf5"/>
<rect x="38.87" y="303.04" width="3.7" height="3.7" fill="#e39cf5"/>
<rect x="38.87" y="301.8" width="3.7" height="3.7" fill="#e39cf5"/>
<rect x="38.87" y="299.98" width="3.7" height="3.7" fill="#e39cf5"/>
<rect x="38.88" y="298.8" width="3.7" height="3.7" fill="#e39cf5"/>
<rect x="38.88" y="297.08" width="3.7" height="3.7" fill="#e39cf5"/>
<rect x="38.88" y="295.43" width="3.7" height="3.7" fill="#e39cf5"/>
<rect x="38.88" y="294.37" width="3.7" height="3.7" fill="#e39cf5"/>
<rect x="38.89" y="292.85" width="3.7" height="3.7" fill="#e39cf5"/>
<rect x="38.89" y="290.97" width="3.7" height="3.7" fill="#e39cf5"/>
<rect x="38.89" y="289.68" width="3.7" height="3.7" fill="#e39cf5"/>
<rect x="38.89" y="288.12" width="3.7" height="3.7" fill="#e39cf5"/>
<rect x="38.9" y="286.76" width="3.7" height="3.7" fill="#e39cf5"/>
<rect x="38.9" y="285.32" width="3.7" height="3.7" fill="#e39cf5"/>
<rect x="38.91" y="283.66" width="3.7" height="3.7" fill="#e39cf5"/>
<rect x="38.91" y="282.33" width="3.7" height="3.7" fill="#e39cf5"/>
<rect x="38.92" y="280.78" width="3.7" height="3.7" fill="#e39cf5"/>
<rect x="38.92" y="279.28" width="3.7" height="3.7" fill="#e39cf5"/>
<rect x="38.93" y="277.84" width="3.7" height="3.7" fill="#e39cf5"/>
<rect x="38.93" y="276.24" width="3.7" height="3.7" fill="#e39cf5"/>
<rect x="38.94" y="274.71" width="3.7" height="3.7" fill="#e39cf5"/>
<rect x="38.94" y="273.26" width="3.7" height="3.7" fill="#e39cf5"/>
<rect x="38.95" y="271.89" width="3.7" height="3.7" fill="#e39cf5"/>
<rect x="38.96" y="270.24" width="3.7" height="3.7" fill="#e39cf5"/>
<rect x="38.96" y="268.89" width="3.7" height="3.7" fill="#e39cf5"/>
<rect x="38.97" y="267.34" width="3.7" height="3.7" fill="#e39cf5"/>
<rect x="38.98" y="265.83" width="3.7" height="3.7" fill="#e39cf5"/>
<rect x="38.99" y="264.4" width="3.7" height="3.7" fill="#e39cf5"/>
<rect x="39" y="262.86" width="3.7" height="3.7" fill="#e39cf5"/>
<rect x="39.02" y="261.38" width="3.7" height="3.7" fill="#e39cf5"/>
<rect x="39.04" y="259.87" width="3.7" height="3.7" fill="#e39cf5"/>
<rect x="39.07" y="258.39" width="3.7" height="3.7" fill="#e39cf5"/>
<rect x="39.1" y="256.89" width="3.7" height="3.7" fill="#e39cf5"/>
<rect x="39.15" y="255.4" width="3.7" height="3.7" fill="#e39cf5"/>
<rect x="39.24" y="253.89" width="3.7" height="3.7" fill="#e39cf5"/>
<rect x="39.34" y="252.39" width="3.7" height="3.7" fill="#e39cf5"/>
<rect x="39.46" y="250.86" width="3.7" height="3.7" fill="#e39cf5"/>
<rect x="39.59" y="249.35" width="3.7" height="3.7" fill="#e39cf5"/>
<rect x="39.73" y="247.88" width="3.7" height="3.7" fill="#e39cf5"/>
<rect x="39.9" y="246.39" width="3.7" height="3.7" fill="#e39cf5"/>
<rect x="40.26" y="243.9" width="3.7" height="3.7" fill="#e39cf5"/>
<rect x="40.76" y="241.5" width="3.7" height="3.7" fill="#e39cf5"/>
<rect x="41.38" y="239.07" width="3.7" height="3.7" fill="#e39cf5"/>
<rect x="42.14" y="236.7" width="3.7" height="3.7" fill="#e39cf5"/>
<rect x="43.12" y="234.41" width="3.7" height="3.7" fill="#e39cf5"/>
<rect x="44.23" y="232.15" width="3.7" height="3.7" fill="#e39cf5"/>
<rect x="45.56" y="230.04" width="3.7" height="3.7" fill="#e39cf5"/>
<rect x="47.16" y="228.15" width="3.7" height="3.7" fill="#e39cf5"/>
<rect x="49.19" y="226.67" width="3.7" height="3.7" fill="#e39cf5"/>
<rect x="55.21" y="223.89" width="3.7" height="3.7" fill="#e39cf5"/>
<rect x="63.39" y="221.76" width="3.7" height="3.7" fill="#e39cf5"/>
<rect x="71.57" y="220.18" width="3.7" height="3.7" fill="#e39cf5"/>
<rect x="79.75" y="218.94" width="3.7" height="3.7" fill="#e39cf5"/>
<rect x="87.93" y="217.81" width="3.7" height="3.7" fill="#e39cf5"/>
<rect x="96.11" y="216.74" width="3.7" height="3.7" fill="#e39cf5"/>
<rect x="104.29" y="215.78" width="3.7" height="3.7" fill="#e39cf5"/>
<rect x="112.47" y="214.93" width="3.7" height="3.7" fill="#e39cf5"/>
<rect x="120.65" y="214.16" width="3.7" height="3.7" fill="#e39cf5"/>
<rect x="128.83" y="213.49" width="3.7" height="3.7" fill="#e39cf5"/>
<rect x="137.01" y="212.89" width="3.7" height="3.7" fill="#e39cf5"/>
<rect x="145.19" y="212.32" width="3.7" height="3.7" fill="#e39cf5"/>
<rect x="153.37" y="211.73" width="3.7" height="3.7" fill="#e39cf5"/>
<rect x="161.55" y="211.24" width="3.7" height="3.7" fill="#e39cf5"/>
<rect x="169.73" y="210.82" width="3.7" height="3.7" fill="#e39cf5"/>
<rect x="177.91" y="210.25" width="3.7" height="3.7" fill="#e39cf5"/>
<rect x="186.09" y="209.3" width="3.7" height="3.7" fill="#e39cf5"/>
<rect x="191" y="207.55" width="3.7" height="3.7" fill="#e39cf5"/>
<rect x="192.63" y="206.64" width="3.7" height="3.7" fill="#e39cf5"/>
<rect x="194.27" y="205.65" width="3.7" height="3.7" fill="#e39cf5"/>
<rect x="195.91" y="204.44" width="3.7" height="3.7" fill="#e39cf5"/>
<rect x="197.54" y="202.89" width="3.7" height="3.7" fill="#e39cf5"/>
<rect x="198.36" y="202.03" width="3.7" height="3.7" fill="#e39cf5"/>
<rect x="199.18" y="201.12" width="3.7" height="3.7" fill="#e39cf5"/>
<rect x="200" y="200.18" width="3.7" height="3.7" fill="#e39cf5"/>
<polygon points="40.71,309 43.26,312.65 38.16,312.65" fill="#c558ef"/>
<polygon points="40.72,307.23 43.27,310.88 38.17,310.88" fill="#c558ef"/>
<polygon points="40.72,305.49 43.27,309.14 38.17,309.14" fill="#c558ef"/>
<polygon points="40.72,304.35 43.27,308 38.17,308" fill="#c558ef"/>
<polygon points="40.72,302.68 43.27,306.33 38.17,306.33" fill="#c558ef"/>
<polygon points="40.73,301.05 43.28,304.7 38.18,304.7" fill="#c558ef"/>
<polygon points="40.73,299.99 43.28,303.64 38.18,303.64" fill="#c558ef"/>
<polygon points="40.73,298.45 43.28,302.1 38.18,302.1" fill="#c558ef"/>
<polygon points="40.73,296.98 43.28,300.63 38.18,300.63" fill="#c558ef"/>
<polygon points="40.74,295.11 43.29,298.76 38.19,298.76" fill="#c558ef"/>
<polygon points="40.74,293.8 43.29,297.45 38.19,297.45" fill="#c558ef"/>
<polygon points="40.74,292.18 43.29,295.83 38.19,295.83" fill="#c558ef"/>
<polygon points="40.74,290.72 43.29,294.37 38.19,294.37" fill="#c558ef"/>
<polygon points="40.75,289.43 43.3,293.08 38.2,293.08" fill="#c558ef"/>
<polygon points="40.75,288.03 43.3,291.68 38.2,291.68" fill="#c558ef"/>
<polygon points="40.76,286.42 43.31,290.07 38.21,290.07" fill="#c558ef"/>
<polygon points="40.76,284.86 43.31,288.51 38.21,288.51" fill="#c558ef"/>
<polygon points="40.77,283.35 43.32,287 38.22,287" fill="#c558ef"/>
<polygon points="40.77,281.89 43.32,285.54 38.22,285.54" fill="#c558ef"/>
<polygon points="40.78,280.48 43.33,284.13 38.23,284.13" fill="#c558ef"/>
<polygon points="40.78,278.9 43.33,282.55 38.23,282.55" fill="#c558ef"/>
<polygon points="40.79,277.4 43.34,281.05 38.24,281.05" fill="#c558ef"/>
<polygon points="40.79,275.97 43.34,279.62 38.24,279.62" fill="#c558ef"/>
<polygon points="40.8,274.42 43.35,278.07 38.25,278.07" fill="#c558ef"/>
<polygon points="40.81,272.97 43.36,276.62 38.26,276.62" fill="#c558ef"/>
<polygon points="40.81,271.46 43.36,275.11 38.26,275.11" fill="#c558ef"/>
<polygon points="40.82,269.92 43.37,273.57 38.27,273.57" fill="#c558ef"/>
<polygon points="40.83,268.54 43.38,272.19 38.28,272.19" fill="#c558ef"/>
<polygon points="40.84,266.98 43.39,270.63 38.29,270.63" fill="#c558ef"/>
<polygon points="40.85,265.52 43.4,269.17 38.3,269.17" fill="#c558ef"/>
<polygon points="40.87,264.04 43.42,267.69 38.32,267.69" fill="#c558ef"/>
<polygon points="40.89,262.51 43.44,266.16 38.34,266.16" fill="#c558ef"/>
<polygon points="40.92,261.02 43.47,264.67 38.37,264.67" fill="#c558ef"/>
<polygon points="40.94,259.52 43.49,263.17 38.39,263.17" fill="#c558ef"/>
<polygon points="40.98,258.04 43.53,261.69 38.43,261.69" fill="#c558ef"/>
<polygon points="41.07,256.4 43.62,260.05 38.52,260.05" fill="#c558ef"/>
<polygon points="41.17,254.94 43.72,258.59 38.62,258.59" fill="#c558ef"/>
<polygon points="41.29,253.47 43.84,257.12 38.74,257.12" fill="#c558ef"/>
<polygon points="41.41,252.02 43.96,255.67 38.86,255.67" fill="#c558ef"/>
<polygon points="41.57,250.51 44.12,254.16 39.02,254.16" fill="#c558ef"/>
<polygon points="41.75,249.04 44.3,252.69 39.2,252.69" fill="#c558ef"/>
<polygon points="42.16,246.56 44.71,250.21 39.61,250.21" fill="#c558ef"/>
<polygon points="42.76,244.19 45.31,247.84 40.21,247.84" fill="#c558ef"/>
<polygon points="43.41,241.76 45.96,245.41 40.86,245.41" fill="#c558ef"/>
<polygon points="44.24,239.42 46.79,243.07 41.69,243.07" fill="#c558ef"/>
<polygon points="45.25,237.12 47.8,240.77 42.7,240.77" fill="#c558ef"/>
<polygon points="46.32,234.88 48.87,238.53 43.77,238.53" fill="#c558ef"/>
<polygon points="47.61,232.71 50.16,236.36 45.06,236.36" fill="#c558ef"/>
<polygon points="49.13,230.74 51.68,234.39 46.58,234.39" fill="#c558ef"/>
<polygon points="51.14,229.27 53.69,232.92 48.59,232.92" fill="#c558ef"/>
<polygon points="57.06,226.58 59.61,230.23 54.51,230.23" fill="#c558ef"/>
<polygon points="65.24,224.19 67.79,227.84 62.69,227.84" fill="#c558ef"/>
<polygon points="73.42,222.33 75.97,225.98 70.87,225.98" fill="#c558ef"/>
<polygon points="81.6,220.85 84.15,224.5 79.05,224.5" fill="#c558ef"/>
<polygon points="89.78,219.59 92.33,223.24 87.23,223.24" fill="#c558ef"/>
<polygon points="97.96,218.5 100.51,222.15 95.41,222.15" fill="#c558ef"/>
<polygon points="106.14,217.58 108.69,221.23 103.59,221.23" fill="#c558ef"/>
<polygon points="114.32,216.75 116.87,220.4 111.77,220.4" fill="#c558ef"/>
<polygon points="122.5,215.94 125.05,219.59 119.95,219.59" fill="#c558ef"/>
<polygon points="130.68,215.08 133.23,218.73 128.13,218.73" fill="#c558ef"/>
<polygon points="138.86,214.22 141.41,217.87 136.31,217.87" fill="#c558ef"/>
<polygon points="147.04,213.46 149.59,217.11 144.49,217.11" fill="#c558ef"/>
<polygon points="155.22,212.9 157.77,216.55 152.67,216.55" fill="#c558ef"/>
<polygon points="163.4,212.59 165.95,216.24 160.85,216.24" fill="#c558ef"/>
<polygon points="171.58,212.41 174.13,216.06 169.03,216.06" fill="#c558ef"/>
<polygon points="179.76,212.17 182.31,215.82 177.21,215.82" fill="#c558ef"/>
<polygon points="187.94,211.68 190.49,215.33 185.39,215.33" fill="#c558ef"/>
<polygon points="192.85,210.17 195.4,213.82 190.3,213.82" fill="#c558ef"/>
<polygon points="194.48,209.3 197.03,212.95 191.93,212.95" fill="#c558ef"/>
<polygon points="196.12,208.34 198.67,211.99 193.57,211.99" fill="#c558ef"/>
<polygon points="197.76,207.07 200.31,210.72 195.21,210.72" fill="#c558ef"/>
<polygon points="199.39,205.36 201.94,209.01 196.84,209.01" fill="#c558ef"/>
<polygon points="200.21,204.37 202.76,208.02 197.66,208.02" fill="#c558ef"/>
<polygon points="201.03,203.34 203.58,206.99 198.48,206.99" fill="#c558ef"/>
<polygon points="201.85,202.26 204.4,205.91 199.3,205.91" fill="#c558ef"/>
<polygon points="40.7,317.57 41.31,319.03 42.89,319.16 41.69,320.19 42.05,321.73 40.7,320.91 39.35,321.73 39.72,320.19 38.52,319.16 40.09,319.03" fill="#ae1eae"/>
<polygon points="40.7,315.94 41.31,317.41 42.89,317.53 41.69,318.56 42.06,320.1 40.7,319.28 39.35,320.1 39.72,318.56 38.52,317.53 40.1,317.41" fill="#ae1eae"/>
<polygon points="40.71,314.86 41.31,316.32 42.89,316.45 41.69,317.48 42.06,319.02 40.71,318.19 39.35,319.02 39.72,317.48 38.52,316.45 40.1,316.32" fill="#ae1eae"/>
<polygon points="40.71,313.24 41.32,314.7 42.9,314.83 41.69,315.86 42.06,317.4 40.71,316.57 39.36,317.4 39.72,315.86 38.52,314.83 40.1,314.7" fill="#ae1eae"/>
<polygon points="40.71,311.63 41.32,313.09 42.9,313.22 41.7,314.25 42.06,315.79 40.71,314.96 39.36,315.79 39.73,314.25 38.52,313.22 40.1,313.09" fill="#ae1eae"/>
<polygon points="40.71,310.04 41.32,311.5 42.9,311.62 41.7,312.66 42.07,314.2 40.71,313.37 39.36,314.2 39.73,312.66 38.53,311.62 40.11,311.5" fill="#ae1eae"/>
<polygon points="40.72,308.46 41.32,309.93 42.9,310.05 41.7,311.08 42.07,312.62 40.72,311.8 39.36,312.62 39.73,311.08 38.53,310.05 40.11,309.93" fill="#ae1eae"/>
<polygon points="40.72,307.43 41.33,308.89 42.91,309.02 41.7,310.05 42.07,311.59 40.72,310.76 39.37,311.59 39.73,310.05 38.53,309.02 40.11,308.89" fill="#ae1eae"/>
<polygon points="40.72,305.9 41.33,307.37 42.91,307.49 41.7,308.52 42.07,310.06 40.72,309.24 39.37,310.06 39.74,308.52 38.53,307.49 40.11,307.37" fill="#ae1eae"/>
<polygon points="40.72,304.41 41.33,305.87 42.91,306 41.71,307.03 42.07,308.57 40.72,307.75 39.37,308.57 39.74,307.03 38.54,306 40.11,305.87" fill="#ae1eae"/>
<polygon points="40.73,302.48 41.33,303.94 42.91,304.07 41.71,305.1 42.08,306.64 40.73,305.81 39.37,306.64 39.74,305.1 38.54,304.07 40.12,303.94" fill="#ae1eae"/>
<polygon points="40.73,301.08 41.34,302.55 42.92,302.67 41.71,303.7 42.08,305.24 40.73,304.42 39.38,305.24 39.74,303.7 38.54,302.67 40.12,302.55" fill="#ae1eae"/>
<polygon points="40.73,299.73 41.34,301.2 42.92,301.32 41.72,302.35 42.08,303.9 40.73,303.07 39.38,303.9 39.75,302.35 38.54,301.32 40.12,301.2" fill="#ae1eae"/>
<polygon points="40.73,298.44 41.34,299.9 42.92,300.03 41.72,301.06 42.09,302.6 40.73,301.78 39.38,302.6 39.75,301.06 38.55,300.03 40.13,299.9" fill="#ae1eae"/>
<polygon points="40.74,296.81 41.35,298.27 42.92,298.4 41.72,299.43 42.09,300.97 40.74,300.14 39.38,300.97 39.75,299.43 38.55,298.4 40.13,298.27" fill="#ae1eae"/>
<polygon points="40.74,295.29 41.35,296.75 42.93,296.88 41.72,297.91 42.09,299.45 40.74,298.62 39.39,299.45 39.76,297.91 38.55,296.88 40.13,296.75" fill="#ae1eae"/>
<polygon points="40.74,293.9 41.35,295.36 42.93,295.49 41.73,296.52 42.1,298.06 40.74,297.23 39.39,298.06 39.76,296.52 38.56,295.49 40.14,295.36" fill="#ae1eae"/>
<polygon points="40.75,292.35 41.36,293.82 42.93,293.94 41.73,294.97 42.1,296.51 40.75,295.69 39.4,296.51 39.76,294.97 38.56,293.94 40.14,293.82" fill="#ae1eae"/>
<polygon points="40.75,290.74 41.36,292.2 42.94,292.33 41.74,293.36 42.1,294.9 40.75,294.07 39.4,294.9 39.77,293.36 38.57,292.33 40.14,292.2" fill="#ae1eae"/>
<polygon points="40.76,289.44 41.36,290.9 42.94,291.03 41.74,292.06 42.11,293.6 40.76,292.78 39.4,293.6 39.77,292.06 38.57,291.03 40.15,290.9" fill="#ae1eae"/>
<polygon points="40.76,287.93 41.37,289.39 42.95,289.52 41.75,290.55 42.11,292.09 40.76,291.26 39.41,292.09 39.78,290.55 38.57,289.52 40.15,289.39" fill="#ae1eae"/>
<polygon points="40.77,286.23 41.38,287.69 42.95,287.81 41.75,288.84 42.12,290.39 40.77,289.56 39.42,290.39 39.78,288.84 38.58,287.81 40.16,287.69" fill="#ae1eae"/>
<polygon points="40.77,284.82 41.38,286.28 42.96,286.41 41.76,287.44 42.12,288.98 40.77,288.15 39.42,288.98 39.79,287.44 38.58,286.41 40.16,286.28" fill="#ae1eae"/>
<polygon points="40.78,283.24 41.39,284.7 42.97,284.82 41.76,285.86 42.13,287.4 40.78,286.57 39.43,287.4 39.79,285.86 38.59,284.82 40.17,284.7" fill="#ae1eae"/>
<polygon points="40.78,281.93 41.39,283.39 42.97,283.52 41.77,284.55 42.13,286.09 40.78,285.27 39.43,286.09 39.8,284.55 38.6,283.52 40.17,283.39" fill="#ae1eae"/>
<polygon points="40.79,280.27 41.4,281.73 42.98,281.86 41.77,282.89 42.14,284.43 40.79,283.6 39.44,284.43 39.81,282.89 38.6,281.86 40.18,281.73" fill="#ae1eae"/>
<polygon points="40.8,278.89 41.4,280.35 42.98,280.47 41.78,281.51 42.15,283.05 40.8,282.22 39.44,283.05 39.81,281.51 38.61,280.47 40.19,280.35" fill="#ae1eae"/>
<polygon points="40.8,277.38 41.41,278.85 42.99,278.97 41.79,280 42.15,281.55 40.8,280.72 39.45,281.55 39.82,280 38.61,278.97 40.19,278.85" fill="#ae1eae"/>
<polygon points="40.81,275.8 41.42,277.26 43,277.39 41.79,278.42 42.16,279.96 40.81,279.14 39.46,279.96 39.82,278.42 38.62,277.39 40.2,277.26" fill="#ae1eae"/>
<polygon points="40.82,274.33 41.42,275.79 43,275.92 41.8,276.95 42.17,278.49 40.82,277.66 39.46,278.49 39.83,276.95 38.63,275.92 40.21,275.79" fill="#ae1eae"/>
<polygon points="40.82,272.82 41.43,274.28 43.01,274.41 41.81,275.44 42.18,276.98 40.82,276.15 39.47,276.98 39.84,275.44 38.64,274.41 40.22,274.28" fill="#ae1eae"/>
<polygon points="40.83,271.44 41.44,272.91 43.02,273.03 41.82,274.06 42.18,275.61 40.83,274.78 39.48,275.61 39.85,274.06 38.65,273.03 40.22,272.91" fill="#ae1eae"/>
<polygon points="40.84,269.86 41.45,271.33 43.03,271.45 41.83,272.48 42.2,274.03 40.84,273.2 39.49,274.03 39.86,272.48 38.66,271.45 40.24,271.33" fill="#ae1eae"/>
<polygon points="40.85,268.42 41.46,269.89 43.04,270.01 41.84,271.04 42.21,272.58 40.85,271.76 39.5,272.58 39.87,271.04 38.67,270.01 40.25,269.89" fill="#ae1eae"/>
<polygon points="40.87,266.94 41.48,268.4 43.06,268.52 41.85,269.56 42.22,271.1 40.87,270.27 39.52,271.1 39.89,269.56 38.68,268.52 40.26,268.4" fill="#ae1eae"/>
<polygon points="40.89,265.44 41.49,266.9 43.07,267.03 41.87,268.06 42.24,269.6 40.89,268.78 39.53,269.6 39.9,268.06 38.7,267.03 40.28,266.9" fill="#ae1eae"/>
<polygon points="40.9,263.92 41.51,265.38 43.09,265.51 41.89,266.54 42.26,268.08 40.9,267.25 39.55,268.08 39.92,266.54 38.72,265.51 40.3,265.38" fill="#ae1eae"/>
<polygon points="40.92,262.41 41.53,263.87 43.11,264 41.91,265.03 42.28,266.57 40.92,265.74 39.57,266.57 39.94,265.03 38.74,264 40.32,263.87" fill="#ae1eae"/>
<polygon points="40.95,260.93 41.55,262.39 43.13,262.51 41.93,263.54 42.3,265.09 40.95,264.26 39.59,265.09 39.96,263.54 38.76,262.51 40.34,262.39" fill="#ae1eae"/>
<polygon points="40.97,259.41 41.58,260.88 43.16,261 41.96,262.03 42.33,263.58 40.97,262.75 39.62,263.58 39.99,262.03 38.79,261 40.37,260.88" fill="#ae1eae"/>
<polygon points="41.02,257.94 41.63,259.4 43.21,259.53 42,260.56 42.37,262.1 41.02,261.27 39.67,262.1 40.03,260.56 38.83,259.53 40.41,259.4" fill="#ae1eae"/>
<polygon points="41.14,256.34 41.75,257.8 43.33,257.93 42.13,258.96 42.5,260.5 41.14,259.67 39.79,260.5 40.16,258.96 38.96,257.93 40.53,257.8" fill="#ae1eae"/>
<polygon points="41.27,254.91 41.88,256.38 43.46,256.5 42.26,257.53 42.62,259.08 41.27,258.25 39.92,259.08 40.29,257.53 39.08,256.5 40.66,256.38" fill="#ae1eae"/>
<polygon points="41.43,253.46 42.04,254.92 43.61,255.05 42.41,256.08 42.78,257.62 41.43,256.79 40.08,257.62 40.44,256.08 39.24,255.05 40.82,254.92" fill="#ae1eae"/>
<polygon points="41.62,251.97 42.23,253.43 43.81,253.56 42.6,254.59 42.97,256.13 41.62,255.3 40.27,256.13 40.64,254.59 39.43,253.56 41.01,253.43" fill="#ae1eae"/>
<polygon points="42.1,249.52 42.71,250.98 44.29,251.1 43.08,252.14 43.45,253.68 42.1,252.85 40.75,253.68 41.11,252.14 39.91,251.1 41.49,250.98" fill="#ae1eae"/>
<polygon points="42.9,247.14 43.51,248.61 45.09,248.73 43.88,249.76 44.25,251.3 42.9,250.48 41.55,251.3 41.91,249.76 40.71,248.73 42.29,248.61" fill="#ae1eae"/>
<polygon points="43.72,244.77 44.33,246.24 45.91,246.36 44.71,247.39 45.08,248.94 43.72,248.11 42.37,248.94 42.74,247.39 41.54,246.36 43.11,246.24" fill="#ae1eae"/>
<polygon points="44.78,242.53 45.39,244 46.97,244.12 45.77,245.15 46.13,246.69 44.78,245.87 43.43,246.69 43.8,245.15 42.59,244.12 44.17,244" fill="#ae1eae"/>
<polygon points="45.88,240.27 46.49,241.73 48.06,241.86 46.86,242.89 47.23,244.43 45.88,243.61 44.53,244.43 44.89,242.89 43.69,241.86 45.27,241.73" fill="#ae1eae"/>
<polygon points="47.04,238.07 47.65,239.54 49.23,239.66 48.02,240.69 48.39,242.23 47.04,241.41 45.69,242.23 46.05,240.69 44.85,239.66 46.43,239.54" fill="#ae1eae"/>
<polygon points="48.35,235.93 48.96,237.39 50.54,237.52 49.34,238.55 49.71,240.09 48.35,239.27 47,240.09 47.37,238.55 46.17,237.52 47.75,237.39" fill="#ae1eae"/>
<polygon points="50.04,234.13 50.65,235.59 52.23,235.72 51.03,236.75 51.4,238.29 50.04,237.46 48.69,238.29 49.06,236.75 47.86,235.72 49.44,235.59" fill="#ae1eae"/>
<polygon points="57.06,230.43 57.67,231.89 59.25,232.02 58.04,233.05 58.41,234.59 57.06,233.77 55.71,234.59 56.08,233.05 54.87,232.02 56.45,231.89" fill="#ae1eae"/>
<polygon points="65.24,227.96 65.85,229.42 67.43,229.55 66.22,230.58 66.59,232.12 65.24,231.3 63.89,232.12 64.26,230.58 63.05,229.55 64.63,229.42" fill="#ae1eae"/>
<polygon points="73.42,226.04 74.03,227.5 75.61,227.63 74.4,228.66 74.77,230.2 73.42,229.37 72.07,230.2 72.44,228.66 71.23,227.63 72.81,227.5" fill="#ae1eae"/>
<polygon points="81.6,224.57 82.21,226.03 83.79,226.15 82.58,227.18 82.95,228.73 81.6,227.9 80.25,228.73 80.62,227.18 79.41,226.15 80.99,226.03" fill="#ae1eae"/>
<polygon points="89.78,223.44 90.39,224.9 91.97,225.03 90.76,226.06 91.13,227.6 89.78,226.78 88.43,227.6 88.8,226.06 87.59,225.03 89.17,224.9" fill="#ae1eae"/>
<polygon points="97.96,222.58 98.57,224.04 100.15,224.17 98.94,225.2 99.31,226.74 97.96,225.92 96.61,226.74 96.98,225.2 95.77,224.17 97.35,224.04" fill="#ae1eae"/>
<polygon points="106.14,221.9 106.75,223.36 108.33,223.49 107.12,224.52 107.49,226.06 106.14,225.24 104.79,226.06 105.16,224.52 103.95,223.49 105.53,223.36" fill="#ae1eae"/>
<polygon points="114.32,221.31 114.93,222.77 116.51,222.9 115.3,223.93 115.67,225.47 114.32,224.64 112.97,225.47 113.34,223.93 112.13,222.9 113.71,222.77" fill="#ae1eae"/>
<polygon points="122.5,220.7 123.11,222.17 124.69,222.29 123.48,223.32 123.85,224.86 122.5,224.04 121.15,224.86 121.52,223.32 120.31,222.29 121.89,222.17" fill="#ae1eae"/>
<polygon points="130.68,220.1 131.29,221.57 132.87,221.69 131.66,222.72 132.03,224.26 130.68,223.44 129.33,224.26 129.7,222.72 128.49,221.69 130.07,221.57" fill="#ae1eae"/>
<polygon points="138.86,219.54 139.47,221.01 141.05,221.13 139.84,222.16 140.21,223.7 138.86,222.88 137.51,223.7 137.88,222.16 136.67,221.13 138.25,221.01" fill="#ae1eae"/>
<polygon points="147.04,218.95 147.65,220.42 149.23,220.54 148.02,221.57 148.39,223.12 147.04,222.29 145.69,223.12 146.06,221.57 144.85,220.54 146.43,220.42" fill="#ae1eae"/>
<polygon points="155.22,218.27 155.83,219.73 157.41,219.86 156.2,220.89 156.57,222.43 155.22,221.61 153.87,222.43 154.24,220.89 153.03,219.86 154.61,219.73" fill="#ae1eae"/>
<polygon points="163.4,217.5 164.01,218.97 165.59,219.09 164.38,220.12 164.75,221.66 163.4,220.84 162.05,221.66 162.42,220.12 161.21,219.09 162.79,218.97" fill="#ae1eae"/>
<polygon points="171.58,216.65 172.19,218.11 173.77,218.24 172.56,219.27 172.93,220.81 171.58,219.98 170.23,220.81 170.6,219.27 169.39,218.24 170.97,218.11" fill="#ae1eae"/>
<polygon points="179.76,215.62 180.37,217.08 181.95,217.2 180.74,218.24 181.11,219.78 179.76,218.95 178.41,219.78 178.78,218.24 177.57,217.2 179.15,217.08" fill="#ae1eae"/>
<polygon points="187.94,214.32 188.55,215.78 190.13,215.91 188.92,216.94 189.29,218.48 187.94,217.66 186.59,218.48 186.96,216.94 185.75,215.91 187.33,215.78" fill="#ae1eae"/>
<polygon points="192.85,213.28 193.46,214.74 195.04,214.87 193.83,215.9 194.2,217.44 192.85,216.61 191.5,217.44 191.86,215.9 190.66,214.87 192.24,214.74" fill="#ae1eae"/>
<polygon points="194.48,212.79 195.09,214.25 196.67,214.38 195.47,215.41 195.84,216.95 194.48,216.12 193.13,216.95 193.5,215.41 192.3,214.38 193.88,214.25" fill="#ae1eae"/>
<polygon points="196.12,212.19 196.73,213.65 198.31,213.78 197.1,214.81 197.47,216.35 196.12,215.53 194.77,216.35 195.14,214.81 193.93,213.78 195.51,213.65" fill="#ae1eae"/>
<polygon points="197.76,211.29 198.36,212.75 199.94,212.88 198.74,213.91 199.11,215.45 197.76,214.63 196.4,215.45 196.77,213.91 195.57,212.88 197.15,212.75" fill="#ae1eae"/>
<polygon points="199.39,210 200,211.46 201.58,211.59 200.38,212.62 200.74,214.16 199.39,213.33 198.04,214.16 198.41,212.62 197.2,211.59 198.78,211.46" fill="#ae1eae"/>
<polygon points="200.21,209.25 200.82,210.71 202.4,210.84 201.19,211.87 201.56,213.41 200.21,212.59 198.86,213.41 199.23,211.87 198.02,210.84 199.6,210.71" fill="#ae1eae"/>
<polygon points="201.03,208.46 201.64,209.92 203.22,210.04 202.01,211.08 202.38,212.62 201.03,211.79 199.68,212.62 200.04,211.08 198.84,210.04 200.42,209.92" fill="#ae1eae"/>
<polygon points="201.85,207.63 202.45,209.09 204.03,209.22 202.83,210.25 203.2,211.79 201.85,210.97 200.49,211.79 200.86,210.25 199.66,209.22 201.24,209.09" fill="#ae1eae"/>
<polygon points="40.74,323.24 43.26,319.04 38.22,319.04" fill="#3dba98"/>
<polygon points="40.8,322.15 43.32,317.95 38.28,317.95" fill="#3dba98"/>
<polygon points="40.91,321.06 43.43,316.86 38.39,316.86" fill="#3dba98"/>
<polygon points="41.1,319.94 43.62,315.74 38.58,315.74" fill="#3dba98"/>
<polygon points="41.49,318.92 44.01,314.72 38.97,314.72" fill="#3dba98"/>
<polygon points="42.08,318.03 44.6,313.83 39.56,313.83" fill="#3dba98"/>
<polygon points="43.18,317.33 45.7,313.13 40.66,313.13" fill="#3dba98"/>
<polygon points="44.39,316.86 46.91,312.66 41.87,312.66" fill="#3dba98"/>
<polygon points="45.66,316.6 48.18,312.4 43.14,312.4" fill="#3dba98"/>
<polygon points="46.95,316.44 49.47,312.24 44.43,312.24" fill="#3dba98"/>
<polygon points="48.25,316.34 50.77,312.14 45.73,312.14" fill="#3dba98"/>
<polygon points="49.54,316.26 52.06,312.06 47.02,312.06" fill="#3dba98"/>
<polygon points="50.84,316.21 53.36,312.01 48.32,312.01" fill="#3dba98"/>
<polygon points="57.06,316 59.58,311.8 54.54,311.8" fill="#3dba98"/>
<polygon points="65.24,315.54 67.76,311.34 62.72,311.34" fill="#3dba98"/>
<polygon points="73.42,315.08 75.94,310.88 70.9,310.88" fill="#3dba98"/>
<polygon points="81.6,314.76 84.12,310.56 79.08,310.56" fill="#3dba98"/>
<polygon points="89.78,314.48 92.3,310.28 87.26,310.28" fill="#3dba98"/>
<polygon points="97.96,314.18 100.48,309.98 95.44,309.98" fill="#3dba98"/>
<polygon points="106.14,313.88 108.66,309.68 103.62,309.68" fill="#3dba98"/>
<polygon points="114.32,313.58 116.84,309.38 111.8,309.38" fill="#3dba98"/>
<polygon points="122.5,313.26 125.02,309.06 119.98,309.06" fill="#3dba98"/>
<polygon points="130.68,312.91 133.2,308.71 128.16,308.71" fill="#3dba98"/>
<polygon points="138.86,312.54 141.38,308.34 136.34,308.34" fill="#3dba98"/>
<polygon points="147.04,312.15 149.56,307.95 144.52,307.95" fill="#3dba98"/>
<polygon points="155.22,311.74 157.74,307.54 152.7,307.54" fill="#3dba98"/>
<polygon points="163.4,311.34 165.92,307.14 160.88,307.14" fill="#3dba98"/>
<polygon points="171.58,310.83 174.1,306.63 169.06,306.63" fill="#3dba98"/>
<polygon points="179.76,309.92 182.28,305.72 177.24,305.72" fill="#3dba98"/>
<polygon points="187.94,307.79 190.46,303.59 185.42,303.59" fill="#3dba98"/>
<polygon points="192.85,306.76 195.37,302.56 190.33,302.56" fill="#3dba98"/>
<polygon points="194.48,306.27 197,302.07 191.96,302.07" fill="#3dba98"/>
<polygon points="196.12,305.43 198.64,301.23 193.6,301.23" fill="#3dba98"/>
<polygon points="197.76,304.18 200.28,299.98 195.24,299.98" fill="#3dba98"/>
<polygon points="199.39,302.62 201.91,298.42 196.87,298.42" fill="#3dba98"/>
<polygon points="200.21,301.62 202.73,297.42 197.69,297.42" fill="#3dba98"/>
<polygon points="201.03,300.36 203.55,296.16 198.51,296.16" fill="#3dba98"/>
<polygon points="201.85,298.97 204.37,294.77 199.33,294.77" fill="#3dba98"/>
</g>
<rect x="32.5" y="183.5" width="180.0" height="138.0" fill="none" stroke="#231f20" stroke-width="1.15"/>
<line x1="40.7" y1="321.5" x2="40.7" y2="318.9" stroke="#231f20" stroke-width="1"/>
<text x="40.7" y="332.6" font-size="9.2" text-anchor="middle" fill="#111">0.0</text>
<line x1="57.06" y1="321.5" x2="57.06" y2="320.1" stroke="#231f20" stroke-width="1"/>
<line x1="73.42" y1="321.5" x2="73.42" y2="318.9" stroke="#231f20" stroke-width="1"/>
<text x="73.42" y="332.6" font-size="9.2" text-anchor="middle" fill="#111">0.2</text>
<line x1="89.78" y1="321.5" x2="89.78" y2="320.1" stroke="#231f20" stroke-width="1"/>
<line x1="106.14" y1="321.5" x2="106.14" y2="318.9" stroke="#231f20" stroke-width="1"/>
<text x="106.14" y="332.6" font-size="9.2" text-anchor="middle" fill="#111">0.4</text>
<line x1="122.5" y1="321.5" x2="122.5" y2="320.1" stroke="#231f20" stroke-width="1"/>
<line x1="138.86" y1="321.5" x2="138.86" y2="318.9" stroke="#231f20" stroke-width="1"/>
<text x="138.86" y="332.6" font-size="9.2" text-anchor="middle" fill="#111">0.6</text>
<line x1="155.22" y1="321.5" x2="155.22" y2="320.1" stroke="#231f20" stroke-width="1"/>
<line x1="171.58" y1="321.5" x2="171.58" y2="318.9" stroke="#231f20" stroke-width="1"/>
<text x="171.58" y="332.6" font-size="9.2" text-anchor="middle" fill="#111">0.8</text>
<line x1="187.94" y1="321.5" x2="187.94" y2="320.1" stroke="#231f20" stroke-width="1"/>
<line x1="204.3" y1="321.5" x2="204.3" y2="318.9" stroke="#231f20" stroke-width="1"/>
<text x="204.3" y="332.6" font-size="9.2" text-anchor="middle" fill="#111">1.0</text>
<text x="29.5" y="324.8" font-size="9.2" text-anchor="end" fill="#111">0</text>
<line x1="32.5" y1="306.3" x2="33.9" y2="306.3" stroke="#231f20" stroke-width="1"/>
<line x1="32.5" y1="291.1" x2="35.1" y2="291.1" stroke="#231f20" stroke-width="1"/>
<text x="29.5" y="294.4" font-size="9.2" text-anchor="end" fill="#111">100</text>
<line x1="32.5" y1="275.9" x2="33.9" y2="275.9" stroke="#231f20" stroke-width="1"/>
<line x1="32.5" y1="260.7" x2="35.1" y2="260.7" stroke="#231f20" stroke-width="1"/>
<text x="29.5" y="264" font-size="9.2" text-anchor="end" fill="#111">200</text>
<line x1="32.5" y1="245.5" x2="33.9" y2="245.5" stroke="#231f20" stroke-width="1"/>
<line x1="32.5" y1="230.3" x2="35.1" y2="230.3" stroke="#231f20" stroke-width="1"/>
<text x="29.5" y="233.6" font-size="9.2" text-anchor="end" fill="#111">300</text>
<line x1="32.5" y1="215.1" x2="33.9" y2="215.1" stroke="#231f20" stroke-width="1"/>
<line x1="32.5" y1="199.9" x2="35.1" y2="199.9" stroke="#231f20" stroke-width="1"/>
<text x="29.5" y="203.2" font-size="9.2" text-anchor="end" fill="#111">400</text>
<line x1="32.5" y1="184.7" x2="33.9" y2="184.7" stroke="#231f20" stroke-width="1"/>
<text x="122.2" y="345.8" font-size="9.5" text-anchor="middle" fill="#111">Relative pressure (<tspan font-style="italic">p</tspan>/<tspan font-style="italic">p</tspan><tspan font-size="6.8" dy="2.8">0</tspan><tspan dy="-2.8">)</tspan></text>
<text transform="translate(7.2,252.0) rotate(-90)" font-size="9.5" text-anchor="middle" fill="#111">N<tspan font-size="7" dy="2.6">2</tspan><tspan dy="-2.6"> uptake (cm</tspan><tspan font-size="7" dy="-3.3">3</tspan><tspan dy="3.3"> g</tspan><tspan font-size="7" dy="-3.3">-1</tspan><tspan dy="3.3">, STP)</tspan></text>
<text x="5.6" y="182.7" font-size="12" font-weight="bold" fill="#000">d</text>
<g>
<circle cx="274.71" cy="311.24" r="1.95" fill="url(#sph)"/>
<circle cx="274.72" cy="310.13" r="1.95" fill="url(#sph)"/>
<circle cx="274.72" cy="309.04" r="1.95" fill="url(#sph)"/>
<circle cx="274.72" cy="307.95" r="1.95" fill="url(#sph)"/>
<circle cx="274.72" cy="306.87" r="1.95" fill="url(#sph)"/>
<circle cx="274.72" cy="305.81" r="1.95" fill="url(#sph)"/>
<circle cx="274.72" cy="304.76" r="1.95" fill="url(#sph)"/>
<circle cx="274.73" cy="303.73" r="1.95" fill="url(#sph)"/>
<circle cx="274.73" cy="302.21" r="1.95" fill="url(#sph)"/>
<circle cx="274.73" cy="301.22" r="1.95" fill="url(#sph)"/>
<circle cx="274.73" cy="300.25" r="1.95" fill="url(#sph)"/>
<circle cx="274.73" cy="299.3" r="1.95" fill="url(#sph)"/>
<circle cx="274.74" cy="297.91" r="1.95" fill="url(#sph)"/>
<circle cx="274.74" cy="297.02" r="1.95" fill="url(#sph)"/>
<circle cx="274.74" cy="295.72" r="1.95" fill="url(#sph)"/>
<circle cx="274.74" cy="294.88" r="1.95" fill="url(#sph)"/>
<circle cx="274.74" cy="293.67" r="1.95" fill="url(#sph)"/>
<circle cx="274.75" cy="292.53" r="1.95" fill="url(#sph)"/>
<circle cx="274.75" cy="291.45" r="1.95" fill="url(#sph)"/>
<circle cx="274.75" cy="290.4" r="1.95" fill="url(#sph)"/>
<circle cx="274.75" cy="289.36" r="1.95" fill="url(#sph)"/>
<circle cx="274.76" cy="288.32" r="1.95" fill="url(#sph)"/>
<circle cx="274.76" cy="286.94" r="1.95" fill="url(#sph)"/>
<circle cx="274.76" cy="285.91" r="1.95" fill="url(#sph)"/>
<circle cx="274.76" cy="284.89" r="1.95" fill="url(#sph)"/>
<circle cx="274.77" cy="283.87" r="1.95" fill="url(#sph)"/>
<circle cx="274.77" cy="282.53" r="1.95" fill="url(#sph)"/>
<circle cx="274.77" cy="281.54" r="1.95" fill="url(#sph)"/>
<circle cx="274.78" cy="280.55" r="1.95" fill="url(#sph)"/>
<circle cx="274.78" cy="279.25" r="1.95" fill="url(#sph)"/>
<circle cx="274.78" cy="278.29" r="1.95" fill="url(#sph)"/>
<circle cx="274.78" cy="277.33" r="1.95" fill="url(#sph)"/>
<circle cx="274.79" cy="276.08" r="1.95" fill="url(#sph)"/>
<circle cx="274.79" cy="274.85" r="1.95" fill="url(#sph)"/>
<circle cx="274.79" cy="273.95" r="1.95" fill="url(#sph)"/>
<circle cx="274.8" cy="272.76" r="1.95" fill="url(#sph)"/>
<circle cx="274.8" cy="271.6" r="1.95" fill="url(#sph)"/>
<circle cx="274.8" cy="270.47" r="1.95" fill="url(#sph)"/>
<circle cx="274.8" cy="269.65" r="1.95" fill="url(#sph)"/>
<circle cx="274.81" cy="268.3" r="1.95" fill="url(#sph)"/>
<circle cx="274.81" cy="267.27" r="1.95" fill="url(#sph)"/>
<circle cx="274.82" cy="266.27" r="1.95" fill="url(#sph)"/>
<circle cx="274.82" cy="265.06" r="1.95" fill="url(#sph)"/>
<circle cx="274.82" cy="264.14" r="1.95" fill="url(#sph)"/>
<circle cx="274.83" cy="262.84" r="1.95" fill="url(#sph)"/>
<circle cx="274.83" cy="261.82" r="1.95" fill="url(#sph)"/>
<circle cx="274.84" cy="260.69" r="1.95" fill="url(#sph)"/>
<circle cx="274.84" cy="259.67" r="1.95" fill="url(#sph)"/>
<circle cx="274.85" cy="258.61" r="1.95" fill="url(#sph)"/>
<circle cx="274.85" cy="257.47" r="1.95" fill="url(#sph)"/>
<circle cx="274.86" cy="256.39" r="1.95" fill="url(#sph)"/>
<circle cx="274.88" cy="255.31" r="1.95" fill="url(#sph)"/>
<circle cx="274.89" cy="254.21" r="1.95" fill="url(#sph)"/>
<circle cx="274.9" cy="253.1" r="1.95" fill="url(#sph)"/>
<circle cx="274.92" cy="252.05" r="1.95" fill="url(#sph)"/>
<circle cx="274.93" cy="250.95" r="1.95" fill="url(#sph)"/>
<circle cx="274.95" cy="249.81" r="1.95" fill="url(#sph)"/>
<circle cx="274.97" cy="248.72" r="1.95" fill="url(#sph)"/>
<circle cx="274.99" cy="247.62" r="1.95" fill="url(#sph)"/>
<circle cx="275.01" cy="246.55" r="1.95" fill="url(#sph)"/>
<circle cx="275.04" cy="245.23" r="1.95" fill="url(#sph)"/>
<circle cx="275.07" cy="244.27" r="1.95" fill="url(#sph)"/>
<circle cx="275.1" cy="243.1" r="1.95" fill="url(#sph)"/>
<circle cx="275.16" cy="241.99" r="1.95" fill="url(#sph)"/>
<circle cx="275.23" cy="241.03" r="1.95" fill="url(#sph)"/>
<circle cx="275.35" cy="239.87" r="1.95" fill="url(#sph)"/>
<circle cx="275.48" cy="238.79" r="1.95" fill="url(#sph)"/>
<circle cx="275.63" cy="237.76" r="1.95" fill="url(#sph)"/>
<circle cx="276.29" cy="235.35" r="1.95" fill="url(#sph)"/>
<circle cx="277.67" cy="233.3" r="1.95" fill="url(#sph)"/>
<circle cx="279.5" cy="231.62" r="1.95" fill="url(#sph)"/>
<circle cx="281.63" cy="230.31" r="1.95" fill="url(#sph)"/>
<circle cx="283.95" cy="229.4" r="1.95" fill="url(#sph)"/>
<circle cx="291.06" cy="228.25" r="1.95" fill="url(#sph)"/>
<circle cx="299.24" cy="227.4" r="1.95" fill="url(#sph)"/>
<circle cx="307.42" cy="226.64" r="1.95" fill="url(#sph)"/>
<circle cx="315.6" cy="226" r="1.95" fill="url(#sph)"/>
<circle cx="323.78" cy="225.5" r="1.95" fill="url(#sph)"/>
<circle cx="331.96" cy="225.1" r="1.95" fill="url(#sph)"/>
<circle cx="340.14" cy="224.75" r="1.95" fill="url(#sph)"/>
<circle cx="348.32" cy="224.47" r="1.95" fill="url(#sph)"/>
<circle cx="356.5" cy="224.25" r="1.95" fill="url(#sph)"/>
<circle cx="364.68" cy="224.09" r="1.95" fill="url(#sph)"/>
<circle cx="372.86" cy="223.97" r="1.95" fill="url(#sph)"/>
<circle cx="381.04" cy="223.86" r="1.95" fill="url(#sph)"/>
<circle cx="389.22" cy="223.75" r="1.95" fill="url(#sph)"/>
<circle cx="397.4" cy="223.64" r="1.95" fill="url(#sph)"/>
<circle cx="405.58" cy="223.53" r="1.95" fill="url(#sph)"/>
<circle cx="413.76" cy="223.41" r="1.95" fill="url(#sph)"/>
<circle cx="421.94" cy="223.25" r="1.95" fill="url(#sph)"/>
<circle cx="430.12" cy="222.96" r="1.95" fill="url(#sph)"/>
<circle cx="435.85" cy="222.5" r="1.95" fill="url(#sph)"/>
<polygon points="274.71,308.33 276.9,309.92 276.06,312.49 273.36,312.49 272.52,309.92" fill="#8c9cf7"/>
<polygon points="274.71,307.25 276.9,308.84 276.06,311.41 273.36,311.41 272.52,308.84" fill="#8c9cf7"/>
<polygon points="274.71,306.18 276.9,307.77 276.06,310.34 273.36,310.34 272.52,307.77" fill="#8c9cf7"/>
<polygon points="274.71,305.12 276.9,306.71 276.06,309.28 273.36,309.28 272.52,306.71" fill="#8c9cf7"/>
<polygon points="274.71,304.06 276.9,305.65 276.06,308.22 273.36,308.22 272.52,305.65" fill="#8c9cf7"/>
<polygon points="274.71,303.01 276.9,304.6 276.06,307.17 273.36,307.17 272.52,304.6" fill="#8c9cf7"/>
<polygon points="274.71,301.96 276.9,303.55 276.07,306.12 273.36,306.12 272.53,303.55" fill="#8c9cf7"/>
<polygon points="274.71,300.93 276.9,302.52 276.07,305.09 273.36,305.09 272.53,302.52" fill="#8c9cf7"/>
<polygon points="274.71,299.91 276.9,301.5 276.07,304.07 273.36,304.07 272.53,301.5" fill="#8c9cf7"/>
<polygon points="274.72,298.89 276.9,300.48 276.07,303.06 273.36,303.06 272.53,300.48" fill="#8c9cf7"/>
<polygon points="274.72,297.89 276.9,299.48 276.07,302.05 273.36,302.05 272.53,299.48" fill="#8c9cf7"/>
<polygon points="274.72,296.91 276.9,298.5 276.07,301.07 273.37,301.07 272.53,298.5" fill="#8c9cf7"/>
<polygon points="274.72,295.93 276.91,297.52 276.07,300.09 273.37,300.09 272.53,297.52" fill="#8c9cf7"/>
<polygon points="274.72,294.03 276.91,295.62 276.07,298.19 273.37,298.19 272.53,295.62" fill="#8c9cf7"/>
<polygon points="274.72,293.1 276.91,294.69 276.07,297.26 273.37,297.26 272.53,294.69" fill="#8c9cf7"/>
<polygon points="274.72,292.19 276.91,293.77 276.07,296.35 273.37,296.35 272.53,293.77" fill="#8c9cf7"/>
<polygon points="274.72,291.29 276.91,292.88 276.07,295.45 273.37,295.45 272.53,292.88" fill="#8c9cf7"/>
<polygon points="274.72,290.41 276.91,292 276.07,294.58 273.37,294.58 272.54,292" fill="#8c9cf7"/>
<polygon points="274.72,288.72 276.91,290.31 276.08,292.88 273.37,292.88 272.54,290.31" fill="#8c9cf7"/>
<polygon points="274.73,287.91 276.91,289.49 276.08,292.07 273.37,292.07 272.54,289.49" fill="#8c9cf7"/>
<polygon points="274.73,287.11 276.91,288.7 276.08,291.27 273.37,291.27 272.54,288.7" fill="#8c9cf7"/>
<polygon points="274.73,285.59 276.92,287.18 276.08,289.75 273.38,289.75 272.54,287.18" fill="#8c9cf7"/>
<polygon points="274.73,284.87 276.92,286.46 276.08,289.03 273.38,289.03 272.54,286.46" fill="#8c9cf7"/>
<polygon points="274.73,283.5 276.92,285.09 276.08,287.66 273.38,287.66 272.54,285.09" fill="#8c9cf7"/>
<polygon points="274.73,282.23 276.92,283.82 276.08,286.39 273.38,286.39 272.54,283.82" fill="#8c9cf7"/>
<polygon points="274.73,281.64 276.92,283.23 276.08,285.8 273.38,285.8 272.55,283.23" fill="#8c9cf7"/>
<polygon points="274.73,280.49 276.92,282.08 276.09,284.65 273.38,284.65 272.55,282.08" fill="#8c9cf7"/>
<polygon points="274.74,279.35 276.92,280.94 276.09,283.51 273.38,283.51 272.55,280.94" fill="#8c9cf7"/>
<polygon points="274.74,278.21 276.93,279.8 276.09,282.37 273.39,282.37 272.55,279.8" fill="#8c9cf7"/>
<polygon points="274.74,277.09 276.93,278.68 276.09,281.25 273.39,281.25 272.55,278.68" fill="#8c9cf7"/>
<polygon points="274.74,275.97 276.93,277.56 276.09,280.13 273.39,280.13 272.55,277.56" fill="#8c9cf7"/>
<polygon points="274.74,274.86 276.93,276.45 276.09,279.03 273.39,279.03 272.56,276.45" fill="#8c9cf7"/>
<polygon points="274.74,273.77 276.93,275.36 276.1,277.93 273.39,277.93 272.56,275.36" fill="#8c9cf7"/>
<polygon points="274.75,272.68 276.93,274.27 276.1,276.84 273.39,276.84 272.56,274.27" fill="#8c9cf7"/>
<polygon points="274.75,271.61 276.93,273.2 276.1,275.77 273.4,275.77 272.56,273.2" fill="#8c9cf7"/>
<polygon points="274.75,270.54 276.94,272.13 276.1,274.7 273.4,274.7 272.56,272.13" fill="#8c9cf7"/>
<polygon points="274.75,269.49 276.94,271.08 276.1,273.65 273.4,273.65 272.56,271.08" fill="#8c9cf7"/>
<polygon points="274.75,268.45 276.94,270.04 276.1,272.61 273.4,272.61 272.57,270.04" fill="#8c9cf7"/>
<polygon points="274.75,266.9 276.94,268.49 276.11,271.06 273.4,271.06 272.57,268.49" fill="#8c9cf7"/>
<polygon points="274.76,265.89 276.94,267.48 276.11,270.05 273.4,270.05 272.57,267.48" fill="#8c9cf7"/>
<polygon points="274.76,264.89 276.95,266.48 276.11,269.05 273.41,269.05 272.57,266.48" fill="#8c9cf7"/>
<polygon points="274.76,263.9 276.95,265.49 276.11,268.06 273.41,268.06 272.57,265.49" fill="#8c9cf7"/>
<polygon points="274.76,262.92 276.95,264.51 276.11,267.08 273.41,267.08 272.57,264.51" fill="#8c9cf7"/>
<polygon points="274.76,261.48 276.95,263.07 276.12,265.64 273.41,265.64 272.58,263.07" fill="#8c9cf7"/>
<polygon points="274.77,260.54 276.95,262.13 276.12,264.7 273.41,264.7 272.58,262.13" fill="#8c9cf7"/>
<polygon points="274.77,259.61 276.95,261.2 276.12,263.77 273.42,263.77 272.58,261.2" fill="#8c9cf7"/>
<polygon points="274.77,258.24 276.96,259.83 276.12,262.4 273.42,262.4 272.58,259.83" fill="#8c9cf7"/>
<polygon points="274.77,257.35 276.96,258.94 276.12,261.51 273.42,261.51 272.58,258.94" fill="#8c9cf7"/>
<polygon points="274.77,256.03 276.96,257.62 276.13,260.19 273.42,260.19 272.59,257.62" fill="#8c9cf7"/>
<polygon points="274.78,255.17 276.96,256.76 276.13,259.33 273.42,259.33 272.59,256.76" fill="#8c9cf7"/>
<polygon points="274.78,253.91 276.97,255.5 276.13,258.08 273.43,258.08 272.59,255.5" fill="#8c9cf7"/>
<polygon points="274.78,252.69 276.97,254.28 276.13,256.85 273.43,256.85 272.59,254.28" fill="#8c9cf7"/>
<polygon points="274.78,251.89 276.97,253.48 276.13,256.05 273.43,256.05 272.59,253.48" fill="#8c9cf7"/>
<polygon points="274.78,250.73 276.97,252.32 276.14,254.89 273.43,254.89 272.6,252.32" fill="#8c9cf7"/>
<polygon points="274.79,249.6 276.97,251.19 276.14,253.76 273.44,253.76 272.6,251.19" fill="#8c9cf7"/>
<polygon points="274.79,248.51 276.98,250.1 276.14,252.67 273.44,252.67 272.6,250.1" fill="#8c9cf7"/>
<polygon points="274.79,247.46 276.98,249.05 276.14,251.62 273.44,251.62 272.6,249.05" fill="#8c9cf7"/>
<polygon points="274.8,246.13 276.98,247.71 276.15,250.29 273.44,250.29 272.61,247.71" fill="#8c9cf7"/>
<polygon points="274.8,245.17 276.99,246.76 276.15,249.33 273.45,249.33 272.61,246.76" fill="#8c9cf7"/>
<polygon points="274.8,243.96 276.99,245.55 276.15,248.12 273.45,248.12 272.61,245.55" fill="#8c9cf7"/>
<polygon points="274.8,243.1 276.99,244.69 276.16,247.26 273.45,247.26 272.62,244.69" fill="#8c9cf7"/>
<polygon points="274.81,242.03 276.99,243.62 276.16,246.19 273.45,246.19 272.62,243.62" fill="#8c9cf7"/>
<polygon points="274.81,240.8 277,242.39 276.16,244.96 273.46,244.96 272.62,242.39" fill="#8c9cf7"/>
<polygon points="274.81,239.7 277,241.29 276.17,243.86 273.46,243.86 272.63,241.29" fill="#8c9cf7"/>
<polygon points="274.82,238.73 277.01,240.32 276.17,242.89 273.47,242.89 272.63,240.32" fill="#8c9cf7"/>
<polygon points="274.82,237.6 277.01,239.19 276.18,241.76 273.47,241.76 272.64,239.19" fill="#8c9cf7"/>
<polygon points="274.83,236.47 277.02,238.06 276.18,240.63 273.48,240.63 272.65,238.06" fill="#8c9cf7"/>
<polygon points="274.84,235.45 277.03,237.03 276.19,239.61 273.49,239.61 272.65,237.03" fill="#8c9cf7"/>
<polygon points="274.85,234.3 277.04,235.89 276.2,238.47 273.5,238.47 272.67,235.89" fill="#8c9cf7"/>
<polygon points="274.86,233.24 277.05,234.83 276.22,237.4 273.51,237.4 272.68,234.83" fill="#8c9cf7"/>
<polygon points="274.88,232.1 277.06,233.68 276.23,236.26 273.52,236.26 272.69,233.68" fill="#8c9cf7"/>
<polygon points="274.89,231.05 277.08,232.63 276.24,235.21 273.54,235.21 272.7,232.63" fill="#8c9cf7"/>
<polygon points="274.9,229.9 277.09,231.49 276.25,234.06 273.55,234.06 272.72,231.49" fill="#8c9cf7"/>
<polygon points="274.92,228.83 277.11,230.42 276.27,232.99 273.57,232.99 272.73,230.42" fill="#8c9cf7"/>
<polygon points="274.94,227.71 277.12,229.3 276.29,231.87 273.59,231.87 272.75,229.3" fill="#8c9cf7"/>
<polygon points="274.96,226.63 277.15,228.22 276.31,230.79 273.61,230.79 272.77,228.22" fill="#8c9cf7"/>
<polygon points="274.99,225.55 277.18,227.14 276.34,229.71 273.64,229.71 272.8,227.14" fill="#8c9cf7"/>
<polygon points="275.05,224.34 277.24,225.93 276.4,228.5 273.7,228.5 272.87,225.93" fill="#8c9cf7"/>
<polygon points="275.14,223.31 277.33,224.9 276.5,227.47 273.79,227.47 272.96,224.9" fill="#8c9cf7"/>
<polygon points="275.29,222.22 277.47,223.81 276.64,226.38 273.93,226.38 273.1,223.81" fill="#8c9cf7"/>
<polygon points="275.53,221.15 277.72,222.74 276.88,225.31 274.18,225.31 273.34,222.74" fill="#8c9cf7"/>
<polygon points="275.85,220.14 278.04,221.73 277.2,224.3 274.5,224.3 273.67,221.73" fill="#8c9cf7"/>
<polygon points="277.31,218.15 279.5,219.74 278.66,222.31 275.96,222.31 275.12,219.74" fill="#8c9cf7"/>
<polygon points="279.52,216.99 281.7,218.58 280.87,221.16 278.16,221.16 277.33,218.58" fill="#8c9cf7"/>
<polygon points="281.92,216.27 284.1,217.86 283.27,220.43 280.56,220.43 279.73,217.86" fill="#8c9cf7"/>
<polygon points="284.35,215.73 286.54,217.32 285.71,219.89 283,219.89 282.17,217.32" fill="#8c9cf7"/>
<polygon points="291.06,214.45 293.25,216.04 292.41,218.61 289.71,218.61 288.87,216.04" fill="#8c9cf7"/>
<polygon points="299.24,213.53 301.43,215.12 300.59,217.69 297.89,217.69 297.05,215.12" fill="#8c9cf7"/>
<polygon points="307.42,212.82 309.61,214.41 308.77,216.98 306.07,216.98 305.23,214.41" fill="#8c9cf7"/>
<polygon points="315.6,212.23 317.79,213.82 316.95,216.4 314.25,216.4 313.41,213.82" fill="#8c9cf7"/>
<polygon points="323.78,211.7 325.97,213.29 325.13,215.86 322.43,215.86 321.59,213.29" fill="#8c9cf7"/>
<polygon points="331.96,211.19 334.15,212.77 333.31,215.35 330.61,215.35 329.77,212.77" fill="#8c9cf7"/>
<polygon points="340.14,210.72 342.33,212.31 341.49,214.88 338.79,214.88 337.95,212.31" fill="#8c9cf7"/>
<polygon points="348.32,210.3 350.51,211.89 349.67,214.46 346.97,214.46 346.13,211.89" fill="#8c9cf7"/>
<polygon points="356.5,209.95 358.69,211.54 357.85,214.11 355.15,214.11 354.31,211.54" fill="#8c9cf7"/>
<polygon points="364.68,209.67 366.87,211.26 366.03,213.83 363.33,213.83 362.49,211.26" fill="#8c9cf7"/>
<polygon points="372.86,209.43 375.05,211.02 374.21,213.59 371.51,213.59 370.67,211.02" fill="#8c9cf7"/>
<polygon points="381.04,209.2 383.23,210.79 382.39,213.36 379.69,213.36 378.85,210.79" fill="#8c9cf7"/>
<polygon points="389.22,208.95 391.41,210.54 390.57,213.11 387.87,213.11 387.03,210.54" fill="#8c9cf7"/>
<polygon points="397.4,208.69 399.59,210.28 398.75,212.85 396.05,212.85 395.21,210.28" fill="#8c9cf7"/>
<polygon points="405.58,208.44 407.77,210.03 406.93,212.6 404.23,212.6 403.39,210.03" fill="#8c9cf7"/>
<polygon points="413.76,208.13 415.95,209.72 415.11,212.29 412.41,212.29 411.57,209.72" fill="#8c9cf7"/>
<polygon points="421.94,207.7 424.13,209.29 423.29,211.86 420.59,211.86 419.75,209.29" fill="#8c9cf7"/>
<polygon points="430.12,206.79 432.31,208.38 431.47,210.95 428.77,210.95 427.93,208.38" fill="#8c9cf7"/>
<polygon points="435.85,204.45 438.03,206.04 437.2,208.61 434.49,208.61 433.66,206.04" fill="#8c9cf7"/>
<rect x="272.86" y="309.14" width="3.7" height="3.7" fill="#e39cf5"/>
<rect x="272.86" y="308.09" width="3.7" height="3.7" fill="#e39cf5"/>
<rect x="272.86" y="307.06" width="3.7" height="3.7" fill="#e39cf5"/>
<rect x="272.86" y="306.03" width="3.7" height="3.7" fill="#e39cf5"/>
<rect x="272.86" y="305" width="3.7" height="3.7" fill="#e39cf5"/>
<rect x="272.86" y="303.99" width="3.7" height="3.7" fill="#e39cf5"/>
<rect x="272.86" y="302.98" width="3.7" height="3.7" fill="#e39cf5"/>
<rect x="272.86" y="300.99" width="3.7" height="3.7" fill="#e39cf5"/>
<rect x="272.87" y="300.01" width="3.7" height="3.7" fill="#e39cf5"/>
<rect x="272.87" y="299.04" width="3.7" height="3.7" fill="#e39cf5"/>
<rect x="272.87" y="298.09" width="3.7" height="3.7" fill="#e39cf5"/>
<rect x="272.87" y="297.14" width="3.7" height="3.7" fill="#e39cf5"/>
<rect x="272.87" y="296.22" width="3.7" height="3.7" fill="#e39cf5"/>
<rect x="272.87" y="294.4" width="3.7" height="3.7" fill="#e39cf5"/>
<rect x="272.87" y="293.52" width="3.7" height="3.7" fill="#e39cf5"/>
<rect x="272.87" y="292.66" width="3.7" height="3.7" fill="#e39cf5"/>
<rect x="272.87" y="291.81" width="3.7" height="3.7" fill="#e39cf5"/>
<rect x="272.87" y="290.17" width="3.7" height="3.7" fill="#e39cf5"/>
<rect x="272.88" y="289.39" width="3.7" height="3.7" fill="#e39cf5"/>
<rect x="272.88" y="288.62" width="3.7" height="3.7" fill="#e39cf5"/>
<rect x="272.88" y="287.15" width="3.7" height="3.7" fill="#e39cf5"/>
<rect x="272.88" y="286.45" width="3.7" height="3.7" fill="#e39cf5"/>
<rect x="272.88" y="285.13" width="3.7" height="3.7" fill="#e39cf5"/>
<rect x="272.88" y="283.91" width="3.7" height="3.7" fill="#e39cf5"/>
<rect x="272.88" y="282.79" width="3.7" height="3.7" fill="#e39cf5"/>
<rect x="272.89" y="281.68" width="3.7" height="3.7" fill="#e39cf5"/>
<rect x="272.89" y="280.59" width="3.7" height="3.7" fill="#e39cf5"/>
<rect x="272.89" y="279.5" width="3.7" height="3.7" fill="#e39cf5"/>
<rect x="272.89" y="278.42" width="3.7" height="3.7" fill="#e39cf5"/>
<rect x="272.89" y="277.36" width="3.7" height="3.7" fill="#e39cf5"/>
<rect x="272.89" y="276.3" width="3.7" height="3.7" fill="#e39cf5"/>
<rect x="272.9" y="275.25" width="3.7" height="3.7" fill="#e39cf5"/>
<rect x="272.9" y="274.21" width="3.7" height="3.7" fill="#e39cf5"/>
<rect x="272.9" y="273.18" width="3.7" height="3.7" fill="#e39cf5"/>
<rect x="272.9" y="272.17" width="3.7" height="3.7" fill="#e39cf5"/>
<rect x="272.9" y="270.66" width="3.7" height="3.7" fill="#e39cf5"/>
<rect x="272.9" y="269.67" width="3.7" height="3.7" fill="#e39cf5"/>
<rect x="272.91" y="268.7" width="3.7" height="3.7" fill="#e39cf5"/>
<rect x="272.91" y="267.73" width="3.7" height="3.7" fill="#e39cf5"/>
<rect x="272.91" y="266.3" width="3.7" height="3.7" fill="#e39cf5"/>
<rect x="272.91" y="265.37" width="3.7" height="3.7" fill="#e39cf5"/>
<rect x="272.91" y="264.45" width="3.7" height="3.7" fill="#e39cf5"/>
<rect x="272.92" y="263.09" width="3.7" height="3.7" fill="#e39cf5"/>
<rect x="272.92" y="262.2" width="3.7" height="3.7" fill="#e39cf5"/>
<rect x="272.92" y="260.89" width="3.7" height="3.7" fill="#e39cf5"/>
<rect x="272.92" y="260.03" width="3.7" height="3.7" fill="#e39cf5"/>
<rect x="272.92" y="258.77" width="3.7" height="3.7" fill="#e39cf5"/>
<rect x="272.93" y="257.54" width="3.7" height="3.7" fill="#e39cf5"/>
<rect x="272.93" y="256.74" width="3.7" height="3.7" fill="#e39cf5"/>
<rect x="272.93" y="255.57" width="3.7" height="3.7" fill="#e39cf5"/>
<rect x="272.93" y="254.43" width="3.7" height="3.7" fill="#e39cf5"/>
<rect x="272.94" y="253.33" width="3.7" height="3.7" fill="#e39cf5"/>
<rect x="272.94" y="252.26" width="3.7" height="3.7" fill="#e39cf5"/>
<rect x="272.94" y="251.23" width="3.7" height="3.7" fill="#e39cf5"/>
<rect x="272.94" y="249.92" width="3.7" height="3.7" fill="#e39cf5"/>
<rect x="272.95" y="248.97" width="3.7" height="3.7" fill="#e39cf5"/>
<rect x="272.95" y="247.78" width="3.7" height="3.7" fill="#e39cf5"/>
<rect x="272.95" y="246.65" width="3.7" height="3.7" fill="#e39cf5"/>
<rect x="272.96" y="245.6" width="3.7" height="3.7" fill="#e39cf5"/>
<rect x="272.96" y="244.62" width="3.7" height="3.7" fill="#e39cf5"/>
<rect x="272.96" y="243.51" width="3.7" height="3.7" fill="#e39cf5"/>
<rect x="272.97" y="242.33" width="3.7" height="3.7" fill="#e39cf5"/>
<rect x="272.97" y="241.34" width="3.7" height="3.7" fill="#e39cf5"/>
<rect x="272.98" y="240.21" width="3.7" height="3.7" fill="#e39cf5"/>
<rect x="272.99" y="239.16" width="3.7" height="3.7" fill="#e39cf5"/>
<rect x="273" y="238.07" width="3.7" height="3.7" fill="#e39cf5"/>
<rect x="273.01" y="236.96" width="3.7" height="3.7" fill="#e39cf5"/>
<rect x="273.02" y="235.85" width="3.7" height="3.7" fill="#e39cf5"/>
<rect x="273.03" y="234.75" width="3.7" height="3.7" fill="#e39cf5"/>
<rect x="273.05" y="233.68" width="3.7" height="3.7" fill="#e39cf5"/>
<rect x="273.06" y="232.59" width="3.7" height="3.7" fill="#e39cf5"/>
<rect x="273.08" y="231.47" width="3.7" height="3.7" fill="#e39cf5"/>
<rect x="273.1" y="230.38" width="3.7" height="3.7" fill="#e39cf5"/>
<rect x="273.12" y="229.3" width="3.7" height="3.7" fill="#e39cf5"/>
<rect x="273.16" y="228.19" width="3.7" height="3.7" fill="#e39cf5"/>
<rect x="273.24" y="227.06" width="3.7" height="3.7" fill="#e39cf5"/>
<rect x="273.36" y="225.93" width="3.7" height="3.7" fill="#e39cf5"/>
<rect x="273.54" y="224.88" width="3.7" height="3.7" fill="#e39cf5"/>
<rect x="273.85" y="223.85" width="3.7" height="3.7" fill="#e39cf5"/>
<rect x="275.23" y="221.81" width="3.7" height="3.7" fill="#e39cf5"/>
<rect x="277.37" y="220.56" width="3.7" height="3.7" fill="#e39cf5"/>
<rect x="279.76" y="219.8" width="3.7" height="3.7" fill="#e39cf5"/>
<rect x="282.19" y="219.25" width="3.7" height="3.7" fill="#e39cf5"/>
<rect x="289.21" y="217.9" width="3.7" height="3.7" fill="#e39cf5"/>
<rect x="297.39" y="217.13" width="3.7" height="3.7" fill="#e39cf5"/>
<rect x="305.57" y="216.58" width="3.7" height="3.7" fill="#e39cf5"/>
<rect x="313.75" y="216.13" width="3.7" height="3.7" fill="#e39cf5"/>
<rect x="321.93" y="215.65" width="3.7" height="3.7" fill="#e39cf5"/>
<rect x="330.11" y="215.1" width="3.7" height="3.7" fill="#e39cf5"/>
<rect x="338.29" y="214.55" width="3.7" height="3.7" fill="#e39cf5"/>
<rect x="346.47" y="214.05" width="3.7" height="3.7" fill="#e39cf5"/>
<rect x="354.65" y="213.65" width="3.7" height="3.7" fill="#e39cf5"/>
<rect x="362.83" y="213.35" width="3.7" height="3.7" fill="#e39cf5"/>
<rect x="371.01" y="213.09" width="3.7" height="3.7" fill="#e39cf5"/>
<rect x="379.19" y="212.86" width="3.7" height="3.7" fill="#e39cf5"/>
<rect x="387.37" y="212.65" width="3.7" height="3.7" fill="#e39cf5"/>
<rect x="395.55" y="212.48" width="3.7" height="3.7" fill="#e39cf5"/>
<rect x="403.73" y="212.34" width="3.7" height="3.7" fill="#e39cf5"/>
<rect x="411.91" y="212.18" width="3.7" height="3.7" fill="#e39cf5"/>
<rect x="420.09" y="211.9" width="3.7" height="3.7" fill="#e39cf5"/>
<rect x="428.27" y="210.97" width="3.7" height="3.7" fill="#e39cf5"/>
<rect x="434" y="208.15" width="3.7" height="3.7" fill="#e39cf5"/>
<polygon points="274.71,309.16 277.26,312.81 272.16,312.81" fill="#c558ef"/>
<polygon points="274.71,307.15 277.26,310.8 272.16,310.8" fill="#c558ef"/>
<polygon points="274.71,306.16 277.26,309.81 272.16,309.81" fill="#c558ef"/>
<polygon points="274.71,305.17 277.26,308.82 272.16,308.82" fill="#c558ef"/>
<polygon points="274.71,304.19 277.26,307.84 272.16,307.84" fill="#c558ef"/>
<polygon points="274.71,303.21 277.26,306.86 272.16,306.86" fill="#c558ef"/>
<polygon points="274.71,302.25 277.26,305.9 272.16,305.9" fill="#c558ef"/>
<polygon points="274.71,301.29 277.26,304.94 272.16,304.94" fill="#c558ef"/>
<polygon points="274.72,300.35 277.27,304 272.17,304" fill="#c558ef"/>
<polygon points="274.72,298.49 277.27,302.14 272.17,302.14" fill="#c558ef"/>
<polygon points="274.72,297.58 277.27,301.23 272.17,301.23" fill="#c558ef"/>
<polygon points="274.72,296.69 277.27,300.34 272.17,300.34" fill="#c558ef"/>
<polygon points="274.72,295.81 277.27,299.46 272.17,299.46" fill="#c558ef"/>
<polygon points="274.72,294.94 277.27,298.59 272.17,298.59" fill="#c558ef"/>
<polygon points="274.72,293.25 277.27,296.9 272.17,296.9" fill="#c558ef"/>
<polygon points="274.72,292.43 277.27,296.08 272.17,296.08" fill="#c558ef"/>
<polygon points="274.72,291.63 277.27,295.28 272.17,295.28" fill="#c558ef"/>
<polygon points="274.73,290.09 277.28,293.74 272.18,293.74" fill="#c558ef"/>
<polygon points="274.73,289.35 277.28,293 272.18,293" fill="#c558ef"/>
<polygon points="274.73,287.93 277.28,291.58 272.18,291.58" fill="#c558ef"/>
<polygon points="274.73,286.6 277.28,290.25 272.18,290.25" fill="#c558ef"/>
<polygon points="274.73,285.98 277.28,289.63 272.18,289.63" fill="#c558ef"/>
<polygon points="274.73,284.8 277.28,288.45 272.18,288.45" fill="#c558ef"/>
<polygon points="274.73,283.71 277.28,287.36 272.18,287.36" fill="#c558ef"/>
<polygon points="274.74,282.64 277.29,286.29 272.19,286.29" fill="#c558ef"/>
<polygon points="274.74,281.57 277.29,285.22 272.19,285.22" fill="#c558ef"/>
<polygon points="274.74,280.52 277.29,284.17 272.19,284.17" fill="#c558ef"/>
<polygon points="274.74,279.48 277.29,283.13 272.19,283.13" fill="#c558ef"/>
<polygon points="274.74,278.44 277.29,282.09 272.19,282.09" fill="#c558ef"/>
<polygon points="274.74,276.91 277.29,280.56 272.19,280.56" fill="#c558ef"/>
<polygon points="274.75,275.9 277.3,279.55 272.2,279.55" fill="#c558ef"/>
<polygon points="274.75,274.9 277.3,278.55 272.2,278.55" fill="#c558ef"/>
<polygon points="274.75,273.91 277.3,277.56 272.2,277.56" fill="#c558ef"/>
<polygon points="274.75,272.93 277.3,276.58 272.2,276.58" fill="#c558ef"/>
<polygon points="274.75,271.48 277.3,275.13 272.2,275.13" fill="#c558ef"/>
<polygon points="274.75,270.52 277.3,274.17 272.2,274.17" fill="#c558ef"/>
<polygon points="274.76,269.58 277.31,273.23 272.21,273.23" fill="#c558ef"/>
<polygon points="274.76,268.19 277.31,271.84 272.21,271.84" fill="#c558ef"/>
<polygon points="274.76,267.28 277.31,270.93 272.21,270.93" fill="#c558ef"/>
<polygon points="274.76,265.93 277.31,269.58 272.21,269.58" fill="#c558ef"/>
<polygon points="274.76,265.05 277.31,268.7 272.21,268.7" fill="#c558ef"/>
<polygon points="274.77,263.75 277.32,267.4 272.22,267.4" fill="#c558ef"/>
<polygon points="274.77,262.9 277.32,266.55 272.22,266.55" fill="#c558ef"/>
<polygon points="274.77,261.65 277.32,265.3 272.22,265.3" fill="#c558ef"/>
<polygon points="274.77,260.83 277.32,264.48 272.22,264.48" fill="#c558ef"/>
<polygon points="274.78,259.63 277.33,263.28 272.23,263.28" fill="#c558ef"/>
<polygon points="274.78,258.46 277.33,262.11 272.23,262.11" fill="#c558ef"/>
<polygon points="274.78,257.33 277.33,260.98 272.23,260.98" fill="#c558ef"/>
<polygon points="274.78,256.22 277.33,259.87 272.23,259.87" fill="#c558ef"/>
<polygon points="274.79,255.15 277.34,258.8 272.24,258.8" fill="#c558ef"/>
<polygon points="274.79,254.12 277.34,257.77 272.24,257.77" fill="#c558ef"/>
<polygon points="274.79,253.12 277.34,256.77 272.24,256.77" fill="#c558ef"/>
<polygon points="274.79,251.84 277.34,255.49 272.24,255.49" fill="#c558ef"/>
<polygon points="274.8,250.92 277.35,254.57 272.25,254.57" fill="#c558ef"/>
<polygon points="274.8,249.76 277.35,253.41 272.25,253.41" fill="#c558ef"/>
<polygon points="274.8,248.66 277.35,252.31 272.25,252.31" fill="#c558ef"/>
<polygon points="274.81,247.64 277.36,251.29 272.26,251.29" fill="#c558ef"/>
<polygon points="274.81,246.46 277.36,250.11 272.26,250.11" fill="#c558ef"/>
<polygon points="274.81,245.39 277.36,249.04 272.26,249.04" fill="#c558ef"/>
<polygon points="274.82,244.27 277.37,247.92 272.27,247.92" fill="#c558ef"/>
<polygon points="274.82,243.19 277.37,246.84 272.27,246.84" fill="#c558ef"/>
<polygon points="274.83,242.07 277.38,245.72 272.28,245.72" fill="#c558ef"/>
<polygon points="274.84,241.03 277.39,244.68 272.29,244.68" fill="#c558ef"/>
<polygon points="274.85,239.88 277.4,243.53 272.3,243.53" fill="#c558ef"/>
<polygon points="274.86,238.8 277.41,242.45 272.31,242.45" fill="#c558ef"/>
<polygon points="274.87,237.71 277.42,241.36 272.32,241.36" fill="#c558ef"/>
<polygon points="274.89,236.64 277.44,240.29 272.34,240.29" fill="#c558ef"/>
<polygon points="274.9,235.53 277.45,239.18 272.35,239.18" fill="#c558ef"/>
<polygon points="274.92,234.41 277.47,238.06 272.37,238.06" fill="#c558ef"/>
<polygon points="274.93,233.34 277.48,236.99 272.38,236.99" fill="#c558ef"/>
<polygon points="274.96,232.22 277.51,235.87 272.41,235.87" fill="#c558ef"/>
<polygon points="274.98,231.13 277.53,234.78 272.43,234.78" fill="#c558ef"/>
<polygon points="275.03,230.05 277.58,233.7 272.48,233.7" fill="#c558ef"/>
<polygon points="275.12,228.92 277.67,232.57 272.57,232.57" fill="#c558ef"/>
<polygon points="275.25,227.8 277.8,231.45 272.7,231.45" fill="#c558ef"/>
<polygon points="275.45,226.78 278,230.43 272.9,230.43" fill="#c558ef"/>
<polygon points="275.8,225.73 278.35,229.38 273.25,229.38" fill="#c558ef"/>
<polygon points="277.3,223.77 279.85,227.42 274.75,227.42" fill="#c558ef"/>
<polygon points="279.5,222.6 282.05,226.25 276.95,226.25" fill="#c558ef"/>
<polygon points="281.89,221.87 284.44,225.52 279.34,225.52" fill="#c558ef"/>
<polygon points="284.33,221.34 286.88,224.99 281.78,224.99" fill="#c558ef"/>
<polygon points="291.06,220.3 293.61,223.95 288.51,223.95" fill="#c558ef"/>
<polygon points="299.24,219.83 301.79,223.48 296.69,223.48" fill="#c558ef"/>
<polygon points="307.42,219.53 309.97,223.18 304.87,223.18" fill="#c558ef"/>
<polygon points="315.6,219.29 318.15,222.94 313.05,222.94" fill="#c558ef"/>
<polygon points="323.78,219.05 326.33,222.7 321.23,222.7" fill="#c558ef"/>
<polygon points="331.96,218.78 334.51,222.43 329.41,222.43" fill="#c558ef"/>
<polygon points="340.14,218.52 342.69,222.17 337.59,222.17" fill="#c558ef"/>
<polygon points="348.32,218.27 350.87,221.92 345.77,221.92" fill="#c558ef"/>
<polygon points="356.5,218.05 359.05,221.7 353.95,221.7" fill="#c558ef"/>
<polygon points="364.68,217.85 367.23,221.5 362.13,221.5" fill="#c558ef"/>
<polygon points="372.86,217.66 375.41,221.31 370.31,221.31" fill="#c558ef"/>
<polygon points="381.04,217.48 383.59,221.13 378.49,221.13" fill="#c558ef"/>
<polygon points="389.22,217.3 391.77,220.95 386.67,220.95" fill="#c558ef"/>
<polygon points="397.4,217.14 399.95,220.79 394.85,220.79" fill="#c558ef"/>
<polygon points="405.58,216.99 408.13,220.64 403.03,220.64" fill="#c558ef"/>
<polygon points="413.76,216.81 416.31,220.46 411.21,220.46" fill="#c558ef"/>
<polygon points="421.94,216.55 424.49,220.2 419.39,220.2" fill="#c558ef"/>
<polygon points="430.12,215.92 432.67,219.57 427.57,219.57" fill="#c558ef"/>
<polygon points="435.85,213.55 438.4,217.2 433.3,217.2" fill="#c558ef"/>
<polygon points="274.7,317.25 275.31,318.71 276.89,318.84 275.69,319.87 276.05,321.41 274.7,320.59 273.35,321.41 273.72,319.87 272.51,318.84 274.09,318.71" fill="#ae1eae"/>
<polygon points="274.7,316.27 275.31,317.74 276.89,317.86 275.69,318.89 276.05,320.44 274.7,319.61 273.35,320.44 273.72,318.89 272.52,317.86 274.09,317.74" fill="#ae1eae"/>
<polygon points="274.7,315.3 275.31,316.76 276.89,316.88 275.69,317.92 276.06,319.46 274.7,318.63 273.35,319.46 273.72,317.92 272.52,316.88 274.09,316.76" fill="#ae1eae"/>
<polygon points="274.7,314.32 275.31,315.78 276.89,315.91 275.69,316.94 276.06,318.48 274.7,317.65 273.35,318.48 273.72,316.94 272.52,315.91 274.1,315.78" fill="#ae1eae"/>
<polygon points="274.7,313.34 275.31,314.8 276.89,314.93 275.69,315.96 276.06,317.5 274.7,316.67 273.35,317.5 273.72,315.96 272.52,314.93 274.1,314.8" fill="#ae1eae"/>
<polygon points="274.71,312.36 275.31,313.82 276.89,313.95 275.69,314.98 276.06,316.52 274.71,315.69 273.35,316.52 273.72,314.98 272.52,313.95 274.1,313.82" fill="#ae1eae"/>
<polygon points="274.71,310.41 275.32,311.87 276.89,312 275.69,313.03 276.06,314.57 274.71,313.74 273.36,314.57 273.72,313.03 272.52,312 274.1,311.87" fill="#ae1eae"/>
<polygon points="274.71,309.44 275.32,310.9 276.9,311.03 275.69,312.06 276.06,313.6 274.71,312.77 273.36,313.6 273.72,312.06 272.52,311.03 274.1,310.9" fill="#ae1eae"/>
<polygon points="274.71,308.47 275.32,309.93 276.9,310.06 275.69,311.09 276.06,312.63 274.71,311.81 273.36,312.63 273.72,311.09 272.52,310.06 274.1,309.93" fill="#ae1eae"/>
<polygon points="274.71,307.51 275.32,308.97 276.9,309.1 275.69,310.13 276.06,311.67 274.71,310.84 273.36,311.67 273.73,310.13 272.52,309.1 274.1,308.97" fill="#ae1eae"/>
<polygon points="274.71,306.55 275.32,308.01 276.9,308.14 275.7,309.17 276.06,310.71 274.71,309.89 273.36,310.71 273.73,309.17 272.52,308.14 274.1,308.01" fill="#ae1eae"/>
<polygon points="274.71,305.6 275.32,307.06 276.9,307.19 275.7,308.22 276.06,309.76 274.71,308.94 273.36,309.76 273.73,308.22 272.52,307.19 274.1,307.06" fill="#ae1eae"/>
<polygon points="274.71,304.66 275.32,306.12 276.9,306.25 275.7,307.28 276.06,308.82 274.71,307.99 273.36,308.82 273.73,307.28 272.52,306.25 274.1,306.12" fill="#ae1eae"/>
<polygon points="274.71,302.79 275.32,304.25 276.9,304.38 275.7,305.41 276.07,306.95 274.71,306.13 273.36,306.95 273.73,305.41 272.53,304.38 274.11,304.25" fill="#ae1eae"/>
<polygon points="274.71,301.87 275.32,303.33 276.9,303.46 275.7,304.49 276.07,306.03 274.71,305.21 273.36,306.03 273.73,304.49 272.53,303.46 274.11,303.33" fill="#ae1eae"/>
<polygon points="274.72,300.96 275.32,302.43 276.9,302.55 275.7,303.58 276.07,305.12 274.72,304.3 273.36,305.12 273.73,303.58 272.53,302.55 274.11,302.43" fill="#ae1eae"/>
<polygon points="274.72,300.06 275.32,301.53 276.9,301.65 275.7,302.68 276.07,304.22 274.72,303.4 273.36,304.22 273.73,302.68 272.53,301.65 274.11,301.53" fill="#ae1eae"/>
<polygon points="274.72,299.18 275.33,300.64 276.9,300.76 275.7,301.8 276.07,303.34 274.72,302.51 273.37,303.34 273.73,301.8 272.53,300.76 274.11,300.64" fill="#ae1eae"/>
<polygon points="274.72,297.44 275.33,298.9 276.91,299.02 275.7,300.06 276.07,301.6 274.72,300.77 273.37,301.6 273.73,300.06 272.53,299.02 274.11,298.9" fill="#ae1eae"/>
<polygon points="274.72,296.59 275.33,298.05 276.91,298.17 275.7,299.21 276.07,300.75 274.72,299.92 273.37,300.75 273.74,299.21 272.53,298.17 274.11,298.05" fill="#ae1eae"/>
<polygon points="274.72,295.75 275.33,297.21 276.91,297.34 275.7,298.37 276.07,299.91 274.72,299.08 273.37,299.91 273.74,298.37 272.53,297.34 274.11,297.21" fill="#ae1eae"/>
<polygon points="274.72,294.12 275.33,295.59 276.91,295.71 275.71,296.74 276.07,298.28 274.72,297.46 273.37,298.28 273.74,296.74 272.53,295.71 274.11,295.59" fill="#ae1eae"/>
<polygon points="274.72,293.33 275.33,294.8 276.91,294.92 275.71,295.95 276.07,297.49 274.72,296.67 273.37,297.49 273.74,295.95 272.54,294.92 274.11,294.8" fill="#ae1eae"/>
<polygon points="274.72,292.56 275.33,294.02 276.91,294.15 275.71,295.18 276.08,296.72 274.72,295.9 273.37,296.72 273.74,295.18 272.54,294.15 274.12,294.02" fill="#ae1eae"/>
<polygon points="274.73,291.07 275.33,292.53 276.91,292.66 275.71,293.69 276.08,295.23 274.73,294.41 273.37,295.23 273.74,293.69 272.54,292.66 274.12,292.53" fill="#ae1eae"/>
<polygon points="274.73,290.35 275.33,291.82 276.91,291.94 275.71,292.97 276.08,294.51 274.73,293.69 273.37,294.51 273.74,292.97 272.54,291.94 274.12,291.82" fill="#ae1eae"/>
<polygon points="274.73,288.98 275.34,290.44 276.92,290.57 275.71,291.6 276.08,293.14 274.73,292.31 273.38,293.14 273.74,291.6 272.54,290.57 274.12,290.44" fill="#ae1eae"/>
<polygon points="274.73,287.69 275.34,289.16 276.92,289.28 275.71,290.31 276.08,291.85 274.73,291.03 273.38,291.85 273.75,290.31 272.54,289.28 274.12,289.16" fill="#ae1eae"/>
<polygon points="274.73,287.08 275.34,288.55 276.92,288.67 275.71,289.7 276.08,291.24 274.73,290.42 273.38,291.24 273.75,289.7 272.54,288.67 274.12,288.55" fill="#ae1eae"/>
<polygon points="274.73,285.93 275.34,287.4 276.92,287.52 275.72,288.55 276.08,290.1 274.73,289.27 273.38,290.1 273.75,288.55 272.54,287.52 274.12,287.4" fill="#ae1eae"/>
<polygon points="274.73,284.87 275.34,286.33 276.92,286.46 275.72,287.49 276.09,289.03 274.73,288.21 273.38,289.03 273.75,287.49 272.55,286.46 274.13,286.33" fill="#ae1eae"/>
<polygon points="274.74,283.83 275.34,285.29 276.92,285.42 275.72,286.45 276.09,287.99 274.74,287.16 273.38,287.99 273.75,286.45 272.55,285.42 274.13,285.29" fill="#ae1eae"/>
<polygon points="274.74,282.28 275.35,283.74 276.93,283.86 275.72,284.89 276.09,286.44 274.74,285.61 273.39,286.44 273.75,284.89 272.55,283.86 274.13,283.74" fill="#ae1eae"/>
<polygon points="274.74,281.25 275.35,282.71 276.93,282.84 275.72,283.87 276.09,285.41 274.74,284.59 273.39,285.41 273.76,283.87 272.55,282.84 274.13,282.71" fill="#ae1eae"/>
<polygon points="274.74,280.24 275.35,281.7 276.93,281.83 275.73,282.86 276.09,284.4 274.74,283.57 273.39,284.4 273.76,282.86 272.55,281.83 274.13,281.7" fill="#ae1eae"/>
<polygon points="274.74,279.23 275.35,280.69 276.93,280.82 275.73,281.85 276.09,283.39 274.74,282.56 273.39,283.39 273.76,281.85 272.56,280.82 274.13,280.69" fill="#ae1eae"/>
<polygon points="274.74,278.23 275.35,279.7 276.93,279.82 275.73,280.85 276.1,282.39 274.74,281.57 273.39,282.39 273.76,280.85 272.56,279.82 274.14,279.7" fill="#ae1eae"/>
<polygon points="274.75,277.25 275.35,278.71 276.93,278.83 275.73,279.87 276.1,281.41 274.75,280.58 273.39,281.41 273.76,279.87 272.56,278.83 274.14,278.71" fill="#ae1eae"/>
<polygon points="274.75,275.78 275.36,277.24 276.94,277.37 275.73,278.4 276.1,279.94 274.75,279.12 273.4,279.94 273.76,278.4 272.56,277.37 274.14,277.24" fill="#ae1eae"/>
<polygon points="274.75,274.82 275.36,276.28 276.94,276.41 275.73,277.44 276.1,278.98 274.75,278.15 273.4,278.98 273.77,277.44 272.56,276.41 274.14,276.28" fill="#ae1eae"/>
<polygon points="274.75,273.87 275.36,275.33 276.94,275.46 275.74,276.49 276.1,278.03 274.75,277.2 273.4,278.03 273.77,276.49 272.56,275.46 274.14,275.33" fill="#ae1eae"/>
<polygon points="274.75,272.46 275.36,273.92 276.94,274.05 275.74,275.08 276.11,276.62 274.75,275.79 273.4,276.62 273.77,275.08 272.57,274.05 274.15,273.92" fill="#ae1eae"/>
<polygon points="274.76,271.53 275.36,272.99 276.94,273.12 275.74,274.15 276.11,275.69 274.76,274.86 273.4,275.69 273.77,274.15 272.57,273.12 274.15,272.99" fill="#ae1eae"/>
<polygon points="274.76,270.61 275.37,272.08 276.94,272.2 275.74,273.23 276.11,274.77 274.76,273.95 273.41,274.77 273.77,273.23 272.57,272.2 274.15,272.08" fill="#ae1eae"/>
<polygon points="274.76,269.26 275.37,270.72 276.95,270.85 275.74,271.88 276.11,273.42 274.76,272.6 273.41,273.42 273.78,271.88 272.57,270.85 274.15,270.72" fill="#ae1eae"/>
<polygon points="274.76,268.37 275.37,269.84 276.95,269.96 275.75,270.99 276.11,272.53 274.76,271.71 273.41,272.53 273.78,270.99 272.57,269.96 274.15,269.84" fill="#ae1eae"/>
<polygon points="274.76,267.06 275.37,268.53 276.95,268.65 275.75,269.68 276.12,271.23 274.76,270.4 273.41,271.23 273.78,269.68 272.58,268.65 274.16,268.53" fill="#ae1eae"/>
<polygon points="274.77,266.21 275.37,267.67 276.95,267.8 275.75,268.83 276.12,270.37 274.77,269.54 273.41,270.37 273.78,268.83 272.58,267.8 274.16,267.67" fill="#ae1eae"/>
<polygon points="274.77,264.94 275.38,266.41 276.96,266.53 275.75,267.56 276.12,269.1 274.77,268.28 273.42,269.1 273.78,267.56 272.58,266.53 274.16,266.41" fill="#ae1eae"/>
<polygon points="274.77,263.71 275.38,265.17 276.96,265.3 275.75,266.33 276.12,267.87 274.77,267.04 273.42,267.87 273.79,266.33 272.58,265.3 274.16,265.17" fill="#ae1eae"/>
<polygon points="274.77,262.9 275.38,264.36 276.96,264.49 275.76,265.52 276.12,267.06 274.77,266.23 273.42,267.06 273.79,265.52 272.58,264.49 274.16,264.36" fill="#ae1eae"/>
<polygon points="274.77,261.71 275.38,263.17 276.96,263.3 275.76,264.33 276.13,265.87 274.77,265.05 273.42,265.87 273.79,264.33 272.59,263.3 274.17,263.17" fill="#ae1eae"/>
<polygon points="274.78,260.55 275.39,262.02 276.96,262.14 275.76,263.17 276.13,264.71 274.78,263.89 273.43,264.71 273.79,263.17 272.59,262.14 274.17,262.02" fill="#ae1eae"/>
<polygon points="274.78,259.43 275.39,260.89 276.97,261.02 275.76,262.05 276.13,263.59 274.78,262.76 273.43,263.59 273.8,262.05 272.59,261.02 274.17,260.89" fill="#ae1eae"/>
<polygon points="274.78,258.33 275.39,259.8 276.97,259.92 275.77,260.95 276.13,262.49 274.78,261.67 273.43,262.49 273.8,260.95 272.59,259.92 274.17,259.8" fill="#ae1eae"/>
<polygon points="274.78,257.27 275.39,258.73 276.97,258.86 275.77,259.89 276.14,261.43 274.78,260.6 273.43,261.43 273.8,259.89 272.6,258.86 274.18,258.73" fill="#ae1eae"/>
<polygon points="274.79,256.24 275.4,257.7 276.97,257.83 275.77,258.86 276.14,260.4 274.79,259.58 273.44,260.4 273.8,258.86 272.6,257.83 274.18,257.7" fill="#ae1eae"/>
<polygon points="274.79,255.24 275.4,256.71 276.98,256.83 275.77,257.86 276.14,259.4 274.79,258.58 273.44,259.4 273.81,257.86 272.6,256.83 274.18,256.71" fill="#ae1eae"/>
<polygon points="274.79,253.97 275.4,255.43 276.98,255.56 275.78,256.59 276.14,258.13 274.79,257.3 273.44,258.13 273.81,256.59 272.61,255.56 274.18,255.43" fill="#ae1eae"/>
<polygon points="274.8,252.76 275.4,254.22 276.98,254.35 275.78,255.38 276.15,256.92 274.8,256.09 273.44,256.92 273.81,255.38 272.61,254.35 274.19,254.22" fill="#ae1eae"/>
<polygon points="274.8,251.89 275.41,253.35 276.99,253.48 275.78,254.51 276.15,256.05 274.8,255.23 273.45,256.05 273.81,254.51 272.61,253.48 274.19,253.35" fill="#ae1eae"/>
<polygon points="274.8,250.79 275.41,252.26 276.99,252.38 275.79,253.41 276.15,254.95 274.8,254.13 273.45,254.95 273.82,253.41 272.61,252.38 274.19,252.26" fill="#ae1eae"/>
<polygon points="274.81,249.52 275.41,250.98 276.99,251.11 275.79,252.14 276.16,253.68 274.81,252.85 273.45,253.68 273.82,252.14 272.62,251.11 274.2,250.98" fill="#ae1eae"/>
<polygon points="274.81,248.57 275.42,250.04 277,250.16 275.79,251.19 276.16,252.73 274.81,251.91 273.46,252.73 273.82,251.19 272.62,250.16 274.2,250.04" fill="#ae1eae"/>
<polygon points="274.81,247.5 275.42,248.96 277,249.08 275.8,250.12 276.17,251.66 274.81,250.83 273.46,251.66 273.83,250.12 272.63,249.08 274.2,248.96" fill="#ae1eae"/>
<polygon points="274.82,246.35 275.43,247.82 277.01,247.94 275.8,248.97 276.17,250.51 274.82,249.69 273.47,250.51 273.83,248.97 272.63,247.94 274.21,247.82" fill="#ae1eae"/>
<polygon points="274.82,245.24 275.43,246.7 277.01,246.83 275.81,247.86 276.18,249.4 274.82,248.57 273.47,249.4 273.84,247.86 272.64,246.83 274.22,246.7" fill="#ae1eae"/>
<polygon points="274.83,244.16 275.44,245.62 277.02,245.75 275.82,246.78 276.18,248.32 274.83,247.5 273.48,248.32 273.85,246.78 272.64,245.75 274.22,245.62" fill="#ae1eae"/>
<polygon points="274.84,243.1 275.45,244.57 277.03,244.69 275.82,245.72 276.19,247.26 274.84,246.44 273.49,247.26 273.86,245.72 272.65,244.69 274.23,244.57" fill="#ae1eae"/>
<polygon points="274.85,242.01 275.46,243.47 277.04,243.6 275.83,244.63 276.2,246.17 274.85,245.34 273.5,246.17 273.87,244.63 272.66,243.6 274.24,243.47" fill="#ae1eae"/>
<polygon points="274.86,240.89 275.47,242.35 277.05,242.48 275.85,243.51 276.21,245.05 274.86,244.23 273.51,245.05 273.88,243.51 272.67,242.48 274.25,242.35" fill="#ae1eae"/>
<polygon points="274.87,239.85 275.48,241.31 277.06,241.43 275.86,242.47 276.22,244.01 274.87,243.18 273.52,244.01 273.89,242.47 272.68,241.43 274.26,241.31" fill="#ae1eae"/>
<polygon points="274.88,238.72 275.49,240.19 277.07,240.31 275.87,241.34 276.24,242.89 274.88,242.06 273.53,242.89 273.9,241.34 272.7,240.31 274.28,240.19" fill="#ae1eae"/>
<polygon points="274.9,237.63 275.51,239.09 277.08,239.22 275.88,240.25 276.25,241.79 274.9,240.96 273.54,241.79 273.91,240.25 272.71,239.22 274.29,239.09" fill="#ae1eae"/>
<polygon points="274.91,236.51 275.52,237.97 277.1,238.1 275.9,239.13 276.26,240.67 274.91,239.85 273.56,240.67 273.93,239.13 272.72,238.1 274.3,237.97" fill="#ae1eae"/>
<polygon points="274.93,235.42 275.54,236.88 277.12,237 275.91,238.04 276.28,239.58 274.93,238.75 273.58,239.58 273.94,238.04 272.74,237 274.32,236.88" fill="#ae1eae"/>
<polygon points="274.95,234.33 275.56,235.8 277.13,235.92 275.93,236.95 276.3,238.5 274.95,237.67 273.59,238.5 273.96,236.95 272.76,235.92 274.34,235.8" fill="#ae1eae"/>
<polygon points="274.97,233.23 275.58,234.7 277.16,234.82 275.95,235.85 276.32,237.39 274.97,236.57 273.62,237.39 273.99,235.85 272.78,234.82 274.36,234.7" fill="#ae1eae"/>
<polygon points="275,232.15 275.61,233.61 277.19,233.74 275.99,234.77 276.36,236.31 275,235.48 273.65,236.31 274.02,234.77 272.82,233.74 274.4,233.61" fill="#ae1eae"/>
<polygon points="275.08,231.01 275.69,232.47 277.27,232.6 276.06,233.63 276.43,235.17 275.08,234.35 273.73,235.17 274.09,233.63 272.89,232.6 274.47,232.47" fill="#ae1eae"/>
<polygon points="275.18,229.94 275.79,231.4 277.37,231.53 276.17,232.56 276.53,234.1 275.18,233.27 273.83,234.1 274.2,232.56 272.99,231.53 274.57,231.4" fill="#ae1eae"/>
<polygon points="275.35,228.85 275.96,230.32 277.54,230.44 276.33,231.47 276.7,233.01 275.35,232.19 274,233.01 274.37,231.47 273.16,230.44 274.74,230.32" fill="#ae1eae"/>
<polygon points="275.65,227.79 276.25,229.26 277.83,229.38 276.63,230.41 277,231.95 275.65,231.13 274.29,231.95 274.66,230.41 273.46,229.38 275.04,229.26" fill="#ae1eae"/>
<polygon points="276.98,225.71 277.58,227.17 279.16,227.3 277.96,228.33 278.33,229.87 276.98,229.04 275.62,229.87 275.99,228.33 274.79,227.3 276.37,227.17" fill="#ae1eae"/>
<polygon points="279.08,224.42 279.69,225.88 281.27,226 280.06,227.04 280.43,228.58 279.08,227.75 277.73,228.58 278.09,227.04 276.89,226 278.47,225.88" fill="#ae1eae"/>
<polygon points="281.45,223.64 282.06,225.1 283.64,225.23 282.44,226.26 282.8,227.8 281.45,226.98 280.1,227.8 280.47,226.26 279.26,225.23 280.84,225.1" fill="#ae1eae"/>
<polygon points="283.89,223.07 284.5,224.53 286.08,224.66 284.87,225.69 285.24,227.23 283.89,226.41 282.54,227.23 282.9,225.69 281.7,224.66 283.28,224.53" fill="#ae1eae"/>
<polygon points="291.06,221.95 291.67,223.41 293.25,223.54 292.04,224.57 292.41,226.11 291.06,225.28 289.71,226.11 290.08,224.57 288.87,223.54 290.45,223.41" fill="#ae1eae"/>
<polygon points="299.24,221.56 299.85,223.02 301.43,223.15 300.22,224.18 300.59,225.72 299.24,224.89 297.89,225.72 298.26,224.18 297.05,223.15 298.63,223.02" fill="#ae1eae"/>
<polygon points="307.42,221.31 308.03,222.78 309.61,222.9 308.4,223.93 308.77,225.47 307.42,224.65 306.07,225.47 306.44,223.93 305.23,222.9 306.81,222.78" fill="#ae1eae"/>
<polygon points="315.6,221.14 316.21,222.6 317.79,222.72 316.58,223.75 316.95,225.3 315.6,224.47 314.25,225.3 314.62,223.75 313.41,222.72 314.99,222.6" fill="#ae1eae"/>
<polygon points="323.78,220.95 324.39,222.41 325.97,222.54 324.76,223.57 325.13,225.11 323.78,224.28 322.43,225.11 322.8,223.57 321.59,222.54 323.17,222.41" fill="#ae1eae"/>
<polygon points="331.96,220.75 332.57,222.21 334.15,222.34 332.94,223.37 333.31,224.91 331.96,224.08 330.61,224.91 330.98,223.37 329.77,222.34 331.35,222.21" fill="#ae1eae"/>
<polygon points="340.14,220.56 340.75,222.02 342.33,222.15 341.12,223.18 341.49,224.72 340.14,223.9 338.79,224.72 339.16,223.18 337.95,222.15 339.53,222.02" fill="#ae1eae"/>
<polygon points="348.32,220.38 348.93,221.85 350.51,221.97 349.3,223 349.67,224.54 348.32,223.72 346.97,224.54 347.34,223 346.13,221.97 347.71,221.85" fill="#ae1eae"/>
<polygon points="356.5,220.2 357.11,221.66 358.69,221.79 357.48,222.82 357.85,224.36 356.5,223.53 355.15,224.36 355.52,222.82 354.31,221.79 355.89,221.66" fill="#ae1eae"/>
<polygon points="364.68,220.01 365.29,221.47 366.87,221.59 365.66,222.63 366.03,224.17 364.68,223.34 363.33,224.17 363.7,222.63 362.49,221.59 364.07,221.47" fill="#ae1eae"/>
<polygon points="372.86,219.81 373.47,221.27 375.05,221.4 373.84,222.43 374.21,223.97 372.86,223.14 371.51,223.97 371.88,222.43 370.67,221.4 372.25,221.27" fill="#ae1eae"/>
<polygon points="381.04,219.62 381.65,221.08 383.23,221.21 382.02,222.24 382.39,223.78 381.04,222.95 379.69,223.78 380.06,222.24 378.85,221.21 380.43,221.08" fill="#ae1eae"/>
<polygon points="389.22,219.45 389.83,220.91 391.41,221.04 390.2,222.07 390.57,223.61 389.22,222.78 387.87,223.61 388.24,222.07 387.03,221.04 388.61,220.91" fill="#ae1eae"/>
<polygon points="397.4,219.33 398.01,220.79 399.59,220.92 398.38,221.95 398.75,223.49 397.4,222.67 396.05,223.49 396.42,221.95 395.21,220.92 396.79,220.79" fill="#ae1eae"/>
<polygon points="405.58,219.24 406.19,220.71 407.77,220.83 406.56,221.86 406.93,223.4 405.58,222.58 404.23,223.4 404.6,221.86 403.39,220.83 404.97,220.71" fill="#ae1eae"/>
<polygon points="413.76,219.13 414.37,220.6 415.95,220.72 414.74,221.75 415.11,223.29 413.76,222.47 412.41,223.29 412.78,221.75 411.57,220.72 413.15,220.6" fill="#ae1eae"/>
<polygon points="421.94,218.95 422.55,220.41 424.13,220.54 422.92,221.57 423.29,223.11 421.94,222.28 420.59,223.11 420.96,221.57 419.75,220.54 421.33,220.41" fill="#ae1eae"/>
<polygon points="430.12,218.34 430.73,219.8 432.31,219.93 431.1,220.96 431.47,222.5 430.12,221.67 428.77,222.5 429.14,220.96 427.93,219.93 429.51,219.8" fill="#ae1eae"/>
<polygon points="435.85,216.7 436.45,218.16 438.03,218.29 436.83,219.32 437.2,220.86 435.85,220.03 434.49,220.86 434.86,219.32 433.66,218.29 435.24,218.16" fill="#ae1eae"/>
<polygon points="274.74,323.24 277.26,319.04 272.22,319.04" fill="#3dba98"/>
<polygon points="274.83,322.15 277.35,317.95 272.31,317.95" fill="#3dba98"/>
<polygon points="275.04,321.04 277.56,316.84 272.52,316.84" fill="#3dba98"/>
<polygon points="275.58,320.13 278.1,315.93 273.06,315.93" fill="#3dba98"/>
<polygon points="276.52,319.6 279.04,315.4 274,315.4" fill="#3dba98"/>
<polygon points="277.8,319.32 280.32,315.12 275.28,315.12" fill="#3dba98"/>
<polygon points="279.09,319.18 281.61,314.98 276.57,314.98" fill="#3dba98"/>
<polygon points="280.38,319.12 282.9,314.92 277.86,314.92" fill="#3dba98"/>
<polygon points="281.68,319.07 284.2,314.87 279.16,314.87" fill="#3dba98"/>
<polygon points="282.99,319.03 285.51,314.83 280.47,314.83" fill="#3dba98"/>
<polygon points="284.29,319 286.81,314.8 281.77,314.8" fill="#3dba98"/>
<polygon points="291.06,318.9 293.58,314.7 288.54,314.7" fill="#3dba98"/>
<polygon points="299.24,318.81 301.76,314.61 296.72,314.61" fill="#3dba98"/>
<polygon points="307.42,318.74 309.94,314.54 304.9,314.54" fill="#3dba98"/>
<polygon points="315.6,318.68 318.12,314.48 313.08,314.48" fill="#3dba98"/>
<polygon points="323.78,318.63 326.3,314.43 321.26,314.43" fill="#3dba98"/>
<polygon points="331.96,318.58 334.48,314.38 329.44,314.38" fill="#3dba98"/>
<polygon points="340.14,318.53 342.66,314.33 337.62,314.33" fill="#3dba98"/>
<polygon points="348.32,318.47 350.84,314.27 345.8,314.27" fill="#3dba98"/>
<polygon points="356.5,318.4 359.02,314.2 353.98,314.2" fill="#3dba98"/>
<polygon points="364.68,318.31 367.2,314.11 362.16,314.11" fill="#3dba98"/>
<polygon points="372.86,318.22 375.38,314.02 370.34,314.02" fill="#3dba98"/>
<polygon points="381.04,318.11 383.56,313.91 378.52,313.91" fill="#3dba98"/>
<polygon points="389.22,317.99 391.74,313.79 386.7,313.79" fill="#3dba98"/>
<polygon points="397.4,317.84 399.92,313.64 394.88,313.64" fill="#3dba98"/>
<polygon points="405.58,317.65 408.1,313.45 403.06,313.45" fill="#3dba98"/>
<polygon points="413.76,317.37 416.28,313.17 411.24,313.17" fill="#3dba98"/>
<polygon points="421.94,316.9 424.46,312.7 419.42,312.7" fill="#3dba98"/>
<polygon points="430.12,315.9 432.64,311.7 427.6,311.7" fill="#3dba98"/>
<polygon points="435.85,313.9 438.37,309.7 433.33,309.7" fill="#3dba98"/>
</g>
<rect x="266.5" y="183.5" width="180.0" height="138.0" fill="none" stroke="#231f20" stroke-width="1.15"/>
<line x1="274.7" y1="321.5" x2="274.7" y2="318.9" stroke="#231f20" stroke-width="1"/>
<text x="274.7" y="332.6" font-size="9.2" text-anchor="middle" fill="#111">0.0</text>
<line x1="291.06" y1="321.5" x2="291.06" y2="320.1" stroke="#231f20" stroke-width="1"/>
<line x1="307.42" y1="321.5" x2="307.42" y2="318.9" stroke="#231f20" stroke-width="1"/>
<text x="307.42" y="332.6" font-size="9.2" text-anchor="middle" fill="#111">0.2</text>
<line x1="323.78" y1="321.5" x2="323.78" y2="320.1" stroke="#231f20" stroke-width="1"/>
<line x1="340.14" y1="321.5" x2="340.14" y2="318.9" stroke="#231f20" stroke-width="1"/>
<text x="340.14" y="332.6" font-size="9.2" text-anchor="middle" fill="#111">0.4</text>
<line x1="356.5" y1="321.5" x2="356.5" y2="320.1" stroke="#231f20" stroke-width="1"/>
<line x1="372.86" y1="321.5" x2="372.86" y2="318.9" stroke="#231f20" stroke-width="1"/>
<text x="372.86" y="332.6" font-size="9.2" text-anchor="middle" fill="#111">0.6</text>
<line x1="389.22" y1="321.5" x2="389.22" y2="320.1" stroke="#231f20" stroke-width="1"/>
<line x1="405.58" y1="321.5" x2="405.58" y2="318.9" stroke="#231f20" stroke-width="1"/>
<text x="405.58" y="332.6" font-size="9.2" text-anchor="middle" fill="#111">0.8</text>
<line x1="421.94" y1="321.5" x2="421.94" y2="320.1" stroke="#231f20" stroke-width="1"/>
<line x1="438.3" y1="321.5" x2="438.3" y2="318.9" stroke="#231f20" stroke-width="1"/>
<text x="438.3" y="332.6" font-size="9.2" text-anchor="middle" fill="#111">1.0</text>
<text x="263.5" y="324.8" font-size="9.2" text-anchor="end" fill="#111">0</text>
<line x1="266.5" y1="309" x2="267.9" y2="309" stroke="#231f20" stroke-width="1"/>
<line x1="266.5" y1="296.5" x2="269.1" y2="296.5" stroke="#231f20" stroke-width="1"/>
<text x="263.5" y="299.8" font-size="9.2" text-anchor="end" fill="#111">100</text>
<line x1="266.5" y1="284" x2="267.9" y2="284" stroke="#231f20" stroke-width="1"/>
<line x1="266.5" y1="271.5" x2="269.1" y2="271.5" stroke="#231f20" stroke-width="1"/>
<text x="263.5" y="274.8" font-size="9.2" text-anchor="end" fill="#111">200</text>
<line x1="266.5" y1="259" x2="267.9" y2="259" stroke="#231f20" stroke-width="1"/>
<line x1="266.5" y1="246.5" x2="269.1" y2="246.5" stroke="#231f20" stroke-width="1"/>
<text x="263.5" y="249.8" font-size="9.2" text-anchor="end" fill="#111">300</text>
<line x1="266.5" y1="234" x2="267.9" y2="234" stroke="#231f20" stroke-width="1"/>
<line x1="266.5" y1="221.5" x2="269.1" y2="221.5" stroke="#231f20" stroke-width="1"/>
<text x="263.5" y="224.8" font-size="9.2" text-anchor="end" fill="#111">400</text>
<line x1="266.5" y1="209" x2="267.9" y2="209" stroke="#231f20" stroke-width="1"/>
<line x1="266.5" y1="196.5" x2="269.1" y2="196.5" stroke="#231f20" stroke-width="1"/>
<text x="263.5" y="199.8" font-size="9.2" text-anchor="end" fill="#111">500</text>
<line x1="266.5" y1="184" x2="267.9" y2="184" stroke="#231f20" stroke-width="1"/>
<text x="356.2" y="345.8" font-size="9.5" text-anchor="middle" fill="#111">Relative pressure (<tspan font-style="italic">p</tspan>/<tspan font-style="italic">p</tspan><tspan font-size="6.8" dy="2.8">0</tspan><tspan dy="-2.8">)</tspan></text>
<text transform="translate(241.2,252.0) rotate(-90)" font-size="9.5" text-anchor="middle" fill="#111">N<tspan font-size="7" dy="2.6">2</tspan><tspan dy="-2.6"> uptake (cm</tspan><tspan font-size="7" dy="-3.3">3</tspan><tspan dy="3.3"> g</tspan><tspan font-size="7" dy="-3.3">-1</tspan><tspan dy="3.3">, STP)</tspan></text>
<text x="238.8" y="182.7" font-size="12" font-weight="bold" fill="#000">e</text>
<g>
<circle cx="508.73" cy="310.3" r="1.95" fill="url(#sph)"/>
<circle cx="508.73" cy="308.12" r="1.95" fill="url(#sph)"/>
<circle cx="508.74" cy="305.63" r="1.95" fill="url(#sph)"/>
<circle cx="508.74" cy="303.22" r="1.95" fill="url(#sph)"/>
<circle cx="508.75" cy="300.93" r="1.95" fill="url(#sph)"/>
<circle cx="508.75" cy="298.48" r="1.95" fill="url(#sph)"/>
<circle cx="508.76" cy="296.25" r="1.95" fill="url(#sph)"/>
<circle cx="508.77" cy="293.84" r="1.95" fill="url(#sph)"/>
<circle cx="508.78" cy="291.33" r="1.95" fill="url(#sph)"/>
<circle cx="508.8" cy="288.93" r="1.95" fill="url(#sph)"/>
<circle cx="508.81" cy="286.64" r="1.95" fill="url(#sph)"/>
<circle cx="508.83" cy="284.23" r="1.95" fill="url(#sph)"/>
<circle cx="508.85" cy="281.84" r="1.95" fill="url(#sph)"/>
<circle cx="508.87" cy="279.37" r="1.95" fill="url(#sph)"/>
<circle cx="508.89" cy="276.97" r="1.95" fill="url(#sph)"/>
<circle cx="508.91" cy="274.63" r="1.95" fill="url(#sph)"/>
<circle cx="508.93" cy="272.23" r="1.95" fill="url(#sph)"/>
<circle cx="508.96" cy="269.81" r="1.95" fill="url(#sph)"/>
<circle cx="508.99" cy="267.43" r="1.95" fill="url(#sph)"/>
<circle cx="509.02" cy="265.05" r="1.95" fill="url(#sph)"/>
<circle cx="509.07" cy="262.26" r="1.95" fill="url(#sph)"/>
<circle cx="509.12" cy="259.87" r="1.95" fill="url(#sph)"/>
<circle cx="509.19" cy="257.57" r="1.95" fill="url(#sph)"/>
<circle cx="509.31" cy="255.29" r="1.95" fill="url(#sph)"/>
<circle cx="509.45" cy="252.99" r="1.95" fill="url(#sph)"/>
<circle cx="509.65" cy="250.54" r="1.95" fill="url(#sph)"/>
<circle cx="509.92" cy="248.13" r="1.95" fill="url(#sph)"/>
<circle cx="510.3" cy="245.69" r="1.95" fill="url(#sph)"/>
<circle cx="510.74" cy="243.24" r="1.95" fill="url(#sph)"/>
<circle cx="511.31" cy="240.77" r="1.95" fill="url(#sph)"/>
<circle cx="512.14" cy="238.45" r="1.95" fill="url(#sph)"/>
<circle cx="513.41" cy="236.32" r="1.95" fill="url(#sph)"/>
<circle cx="515.01" cy="234.39" r="1.95" fill="url(#sph)"/>
<circle cx="516.51" cy="232.39" r="1.95" fill="url(#sph)"/>
<circle cx="518.17" cy="230.53" r="1.95" fill="url(#sph)"/>
<circle cx="525.06" cy="228.02" r="1.95" fill="url(#sph)"/>
<circle cx="533.24" cy="226.47" r="1.95" fill="url(#sph)"/>
<circle cx="541.42" cy="225.3" r="1.95" fill="url(#sph)"/>
<circle cx="549.6" cy="224.35" r="1.95" fill="url(#sph)"/>
<circle cx="557.78" cy="223.46" r="1.95" fill="url(#sph)"/>
<circle cx="565.96" cy="222.59" r="1.95" fill="url(#sph)"/>
<circle cx="574.14" cy="221.81" r="1.95" fill="url(#sph)"/>
<circle cx="582.32" cy="221.09" r="1.95" fill="url(#sph)"/>
<circle cx="590.5" cy="220.42" r="1.95" fill="url(#sph)"/>
<circle cx="598.68" cy="219.8" r="1.95" fill="url(#sph)"/>
<circle cx="606.86" cy="219.22" r="1.95" fill="url(#sph)"/>
<circle cx="615.04" cy="218.67" r="1.95" fill="url(#sph)"/>
<circle cx="623.22" cy="218.14" r="1.95" fill="url(#sph)"/>
<circle cx="631.4" cy="217.68" r="1.95" fill="url(#sph)"/>
<circle cx="639.58" cy="217.27" r="1.95" fill="url(#sph)"/>
<circle cx="647.76" cy="216.8" r="1.95" fill="url(#sph)"/>
<circle cx="655.94" cy="216.16" r="1.95" fill="url(#sph)"/>
<circle cx="664.12" cy="214.95" r="1.95" fill="url(#sph)"/>
<circle cx="669.85" cy="212.68" r="1.95" fill="url(#sph)"/>
<polygon points="508.72,308.13 510.9,309.72 510.07,312.29 507.36,312.29 506.53,309.72" fill="#8c9cf7"/>
<polygon points="508.72,305.91 510.91,307.49 510.07,310.07 507.37,310.07 506.53,307.49" fill="#8c9cf7"/>
<polygon points="508.72,303.14 510.91,304.73 510.08,307.31 507.37,307.31 506.54,304.73" fill="#8c9cf7"/>
<polygon points="508.73,300.96 510.91,302.55 510.08,305.12 507.38,305.12 506.54,302.55" fill="#8c9cf7"/>
<polygon points="508.73,298.27 510.92,299.85 510.08,302.43 507.38,302.43 506.54,299.85" fill="#8c9cf7"/>
<polygon points="508.73,296.15 510.92,297.74 510.09,300.31 507.38,300.31 506.55,297.74" fill="#8c9cf7"/>
<polygon points="508.74,293.57 510.93,295.15 510.09,297.73 507.39,297.73 506.55,295.15" fill="#8c9cf7"/>
<polygon points="508.74,291.06 510.93,292.65 510.09,295.22 507.39,295.22 506.56,292.65" fill="#8c9cf7"/>
<polygon points="508.75,289.12 510.93,290.71 510.1,293.28 507.39,293.28 506.56,290.71" fill="#8c9cf7"/>
<polygon points="508.75,286.34 510.94,287.93 510.1,290.5 507.4,290.5 506.56,287.93" fill="#8c9cf7"/>
<polygon points="508.75,284.15 510.94,285.73 510.11,288.31 507.4,288.31 506.57,285.73" fill="#8c9cf7"/>
<polygon points="508.76,281.69 510.95,283.28 510.11,285.85 507.41,285.85 506.57,283.28" fill="#8c9cf7"/>
<polygon points="508.76,279.44 510.95,281.03 510.12,283.6 507.41,283.6 506.58,281.03" fill="#8c9cf7"/>
<polygon points="508.77,277.11 510.96,278.7 510.12,281.28 507.42,281.28 506.58,278.7" fill="#8c9cf7"/>
<polygon points="508.78,274.64 510.97,276.23 510.13,278.8 507.43,278.8 506.59,276.23" fill="#8c9cf7"/>
<polygon points="508.79,272.17 510.98,273.76 510.14,276.33 507.44,276.33 506.6,273.76" fill="#8c9cf7"/>
<polygon points="508.8,269.88 510.99,271.47 510.15,274.04 507.45,274.04 506.61,271.47" fill="#8c9cf7"/>
<polygon points="508.81,267.51 511,269.1 510.16,271.67 507.46,271.67 506.62,269.1" fill="#8c9cf7"/>
<polygon points="508.82,265.08 511.01,266.66 510.17,269.24 507.47,269.24 506.63,266.66" fill="#8c9cf7"/>
<polygon points="508.83,262.61 511.02,264.2 510.18,266.77 507.48,266.77 506.64,264.2" fill="#8c9cf7"/>
<polygon points="508.84,260.28 511.03,261.87 510.2,264.45 507.49,264.45 506.66,261.87" fill="#8c9cf7"/>
<polygon points="508.86,257.82 511.05,259.4 510.21,261.98 507.51,261.98 506.67,259.4" fill="#8c9cf7"/>
<polygon points="508.87,255.52 511.06,257.11 510.22,259.68 507.52,259.68 506.68,257.11" fill="#8c9cf7"/>
<polygon points="508.89,253.15 511.08,254.74 510.24,257.31 507.54,257.31 506.7,254.74" fill="#8c9cf7"/>
<polygon points="508.91,250.66 511.09,252.25 510.26,254.82 507.55,254.82 506.72,252.25" fill="#8c9cf7"/>
<polygon points="508.92,248.33 511.11,249.92 510.28,252.49 507.57,252.49 506.74,249.92" fill="#8c9cf7"/>
<polygon points="508.95,245.95 511.13,247.54 510.3,250.11 507.59,250.11 506.76,247.54" fill="#8c9cf7"/>
<polygon points="508.97,243.52 511.16,245.11 510.33,247.68 507.62,247.68 506.79,245.11" fill="#8c9cf7"/>
<polygon points="509.01,241.14 511.2,242.73 510.36,245.3 507.66,245.3 506.82,242.73" fill="#8c9cf7"/>
<polygon points="509.07,238.48 511.25,240.06 510.42,242.64 507.71,242.64 506.88,240.06" fill="#8c9cf7"/>
<polygon points="509.13,236.13 511.32,237.72 510.48,240.29 507.78,240.29 506.94,237.72" fill="#8c9cf7"/>
<polygon points="509.22,233.68 511.41,235.27 510.57,237.84 507.87,237.84 507.03,235.27" fill="#8c9cf7"/>
<polygon points="509.35,231.41 511.54,233 510.7,235.57 508,235.57 507.16,233" fill="#8c9cf7"/>
<polygon points="509.54,229.05 511.73,230.64 510.9,233.21 508.19,233.21 507.36,230.64" fill="#8c9cf7"/>
<polygon points="509.79,226.72 511.98,228.31 511.14,230.88 508.44,230.88 507.6,228.31" fill="#8c9cf7"/>
<polygon points="510.18,224.27 512.36,225.86 511.53,228.43 508.82,228.43 507.99,225.86" fill="#8c9cf7"/>
<polygon points="510.86,221.91 513.05,223.5 512.21,226.07 509.51,226.07 508.67,223.5" fill="#8c9cf7"/>
<polygon points="511.97,219.65 514.16,221.24 513.32,223.81 510.62,223.81 509.78,221.24" fill="#8c9cf7"/>
<polygon points="513.57,217.75 515.76,219.34 514.92,221.91 512.22,221.91 511.38,219.34" fill="#8c9cf7"/>
<polygon points="515.63,216.38 517.82,217.97 516.98,220.54 514.28,220.54 513.44,217.97" fill="#8c9cf7"/>
<polygon points="517.98,215.5 520.17,217.09 519.33,219.66 516.63,219.66 515.79,217.09" fill="#8c9cf7"/>
<polygon points="525.06,214.62 527.25,216.21 526.41,218.78 523.71,218.78 522.87,216.21" fill="#8c9cf7"/>
<polygon points="533.24,213.69 535.43,215.28 534.59,217.85 531.89,217.85 531.05,215.28" fill="#8c9cf7"/>
<polygon points="541.42,212.8 543.61,214.39 542.77,216.96 540.07,216.96 539.23,214.39" fill="#8c9cf7"/>
<polygon points="549.6,212 551.79,213.59 550.95,216.16 548.25,216.16 547.41,213.59" fill="#8c9cf7"/>
<polygon points="557.78,211.24 559.97,212.83 559.13,215.4 556.43,215.4 555.59,212.83" fill="#8c9cf7"/>
<polygon points="565.96,210.51 568.15,212.09 567.31,214.67 564.61,214.67 563.77,212.09" fill="#8c9cf7"/>
<polygon points="574.14,209.76 576.33,211.35 575.49,213.92 572.79,213.92 571.95,211.35" fill="#8c9cf7"/>
<polygon points="582.32,209 584.51,210.58 583.67,213.16 580.97,213.16 580.13,210.58" fill="#8c9cf7"/>
<polygon points="590.5,208.24 592.69,209.83 591.85,212.4 589.15,212.4 588.31,209.83" fill="#8c9cf7"/>
<polygon points="598.68,207.52 600.87,209.11 600.03,211.68 597.33,211.68 596.49,209.11" fill="#8c9cf7"/>
<polygon points="606.86,206.81 609.05,208.4 608.21,210.97 605.51,210.97 604.67,208.4" fill="#8c9cf7"/>
<polygon points="615.04,206.1 617.23,207.69 616.39,210.26 613.69,210.26 612.85,207.69" fill="#8c9cf7"/>
<polygon points="623.22,205.35 625.41,206.94 624.57,209.51 621.87,209.51 621.03,206.94" fill="#8c9cf7"/>
<polygon points="631.4,204.63 633.59,206.22 632.75,208.8 630.05,208.8 629.21,206.22" fill="#8c9cf7"/>
<polygon points="639.58,203.94 641.77,205.52 640.93,208.1 638.23,208.1 637.39,205.52" fill="#8c9cf7"/>
<polygon points="647.76,203.11 649.95,204.7 649.11,207.27 646.41,207.27 645.57,204.7" fill="#8c9cf7"/>
<polygon points="655.94,202.01 658.13,203.6 657.29,206.17 654.59,206.17 653.75,203.6" fill="#8c9cf7"/>
<polygon points="664.12,199.96 666.31,201.55 665.47,204.12 662.77,204.12 661.93,201.55" fill="#8c9cf7"/>
<polygon points="669.85,197.18 672.03,198.77 671.2,201.34 668.49,201.34 667.66,198.77" fill="#8c9cf7"/>
<polygon points="508.72,307.95 511.27,311.6 506.17,311.6" fill="#c558ef"/>
<polygon points="508.72,305.88 511.27,309.53 506.17,309.53" fill="#c558ef"/>
<polygon points="508.73,303.32 511.28,306.97 506.18,306.97" fill="#c558ef"/>
<polygon points="508.73,300.8 511.28,304.45 506.18,304.45" fill="#c558ef"/>
<polygon points="508.73,298.81 511.28,302.46 506.18,302.46" fill="#c558ef"/>
<polygon points="508.74,296.37 511.29,300.02 506.19,300.02" fill="#c558ef"/>
<polygon points="508.74,294.01 511.29,297.66 506.19,297.66" fill="#c558ef"/>
<polygon points="508.75,291.28 511.3,294.93 506.2,294.93" fill="#c558ef"/>
<polygon points="508.75,289.1 511.3,292.75 506.2,292.75" fill="#c558ef"/>
<polygon points="508.75,286.63 511.3,290.28 506.2,290.28" fill="#c558ef"/>
<polygon points="508.76,284.34 511.31,287.99 506.21,287.99" fill="#c558ef"/>
<polygon points="508.77,281.9 511.32,285.55 506.22,285.55" fill="#c558ef"/>
<polygon points="508.77,279.49 511.32,283.14 506.22,283.14" fill="#c558ef"/>
<polygon points="508.78,277.08 511.33,280.73 506.23,280.73" fill="#c558ef"/>
<polygon points="508.79,274.83 511.34,278.48 506.24,278.48" fill="#c558ef"/>
<polygon points="508.8,272.32 511.35,275.97 506.25,275.97" fill="#c558ef"/>
<polygon points="508.81,269.93 511.36,273.58 506.26,273.58" fill="#c558ef"/>
<polygon points="508.83,267.5 511.38,271.15 506.28,271.15" fill="#c558ef"/>
<polygon points="508.84,265.21 511.39,268.86 506.29,268.86" fill="#c558ef"/>
<polygon points="508.85,262.76 511.4,266.41 506.3,266.41" fill="#c558ef"/>
<polygon points="508.87,260.34 511.42,263.99 506.32,263.99" fill="#c558ef"/>
<polygon points="508.88,257.99 511.43,261.64 506.33,261.64" fill="#c558ef"/>
<polygon points="508.9,255.61 511.45,259.26 506.35,259.26" fill="#c558ef"/>
<polygon points="508.92,253.18 511.47,256.83 506.37,256.83" fill="#c558ef"/>
<polygon points="508.94,250.8 511.49,254.45 506.39,254.45" fill="#c558ef"/>
<polygon points="508.97,248.44 511.52,252.09 506.42,252.09" fill="#c558ef"/>
<polygon points="509,246.02 511.55,249.67 506.45,249.67" fill="#c558ef"/>
<polygon points="509.07,243.31 511.62,246.96 506.52,246.96" fill="#c558ef"/>
<polygon points="509.13,241.12 511.68,244.77 506.58,244.77" fill="#c558ef"/>
<polygon points="509.22,238.63 511.77,242.28 506.67,242.28" fill="#c558ef"/>
<polygon points="509.34,236.29 511.89,239.94 506.79,239.94" fill="#c558ef"/>
<polygon points="509.52,234.03 512.07,237.68 506.97,237.68" fill="#c558ef"/>
<polygon points="509.84,231.67 512.39,235.32 507.29,235.32" fill="#c558ef"/>
<polygon points="510.46,229.26 513.01,232.91 507.91,232.91" fill="#c558ef"/>
<polygon points="511.47,226.97 514.02,230.62 508.92,230.62" fill="#c558ef"/>
<polygon points="512.9,224.93 515.45,228.58 510.35,228.58" fill="#c558ef"/>
<polygon points="514.68,223.19 517.23,226.84 512.13,226.84" fill="#c558ef"/>
<polygon points="516.78,221.82 519.33,225.47 514.23,225.47" fill="#c558ef"/>
<polygon points="519.11,220.98 521.66,224.63 516.56,224.63" fill="#c558ef"/>
<polygon points="525.06,220.2 527.61,223.85 522.51,223.85" fill="#c558ef"/>
<polygon points="533.24,219.22 535.79,222.87 530.69,222.87" fill="#c558ef"/>
<polygon points="541.42,218.32 543.97,221.97 538.87,221.97" fill="#c558ef"/>
<polygon points="549.6,217.49 552.15,221.14 547.05,221.14" fill="#c558ef"/>
<polygon points="557.78,216.7 560.33,220.35 555.23,220.35" fill="#c558ef"/>
<polygon points="565.96,215.97 568.51,219.62 563.41,219.62" fill="#c558ef"/>
<polygon points="574.14,215.28 576.69,218.93 571.59,218.93" fill="#c558ef"/>
<polygon points="582.32,214.62 584.87,218.27 579.77,218.27" fill="#c558ef"/>
<polygon points="590.5,213.96 593.05,217.61 587.95,217.61" fill="#c558ef"/>
<polygon points="598.68,213.3 601.23,216.95 596.13,216.95" fill="#c558ef"/>
<polygon points="606.86,212.65 609.41,216.3 604.31,216.3" fill="#c558ef"/>
<polygon points="615.04,212.01 617.59,215.66 612.49,215.66" fill="#c558ef"/>
<polygon points="623.22,211.38 625.77,215.03 620.67,215.03" fill="#c558ef"/>
<polygon points="631.4,210.84 633.95,214.49 628.85,214.49" fill="#c558ef"/>
<polygon points="639.58,210.36 642.13,214.01 637.03,214.01" fill="#c558ef"/>
<polygon points="647.76,209.78 650.31,213.43 645.21,213.43" fill="#c558ef"/>
<polygon points="655.94,208.95 658.49,212.6 653.39,212.6" fill="#c558ef"/>
<polygon points="664.12,207.03 666.67,210.68 661.57,210.68" fill="#c558ef"/>
<polygon points="669.85,203.15 672.4,206.8 667.3,206.8" fill="#c558ef"/>
<polygon points="508.7,317.83 509.31,319.3 510.89,319.42 509.69,320.45 510.05,321.99 508.7,321.17 507.35,321.99 507.72,320.45 506.52,319.42 508.09,319.3" fill="#ae1eae"/>
<polygon points="508.71,315.53 509.31,317 510.89,317.12 509.69,318.15 510.06,319.7 508.71,318.87 507.35,319.7 507.72,318.15 506.52,317.12 508.1,317" fill="#ae1eae"/>
<polygon points="508.71,312.75 509.32,314.21 510.9,314.34 509.7,315.37 510.06,316.91 508.71,316.09 507.36,316.91 507.73,315.37 506.52,314.34 508.1,314.21" fill="#ae1eae"/>
<polygon points="508.72,310.43 509.32,311.89 510.9,312.02 509.7,313.05 510.07,314.59 508.72,313.76 507.36,314.59 507.73,313.05 506.53,312.02 508.11,311.89" fill="#ae1eae"/>
<polygon points="508.72,308.11 509.33,309.57 510.91,309.69 509.7,310.72 510.07,312.27 508.72,311.44 507.37,312.27 507.74,310.72 506.53,309.69 508.11,309.57" fill="#ae1eae"/>
<polygon points="508.72,305.8 509.33,307.26 510.91,307.39 509.71,308.42 510.08,309.96 508.72,309.14 507.37,309.96 507.74,308.42 506.54,307.39 508.12,307.26" fill="#ae1eae"/>
<polygon points="508.73,303.52 509.34,304.99 510.92,305.11 509.71,306.14 510.08,307.68 508.73,306.86 507.38,307.68 507.74,306.14 506.54,305.11 508.12,304.99" fill="#ae1eae"/>
<polygon points="508.73,300.84 509.34,302.3 510.92,302.43 509.72,303.46 510.08,305 508.73,304.18 507.38,305 507.75,303.46 506.55,302.43 508.12,302.3" fill="#ae1eae"/>
<polygon points="508.74,298.66 509.35,300.12 510.92,300.25 509.72,301.28 510.09,302.82 508.74,302 507.38,302.82 507.75,301.28 506.55,300.25 508.13,300.12" fill="#ae1eae"/>
<polygon points="508.74,296.13 509.35,297.59 510.93,297.72 509.73,298.75 510.09,300.29 508.74,299.46 507.39,300.29 507.76,298.75 506.55,297.72 508.13,297.59" fill="#ae1eae"/>
<polygon points="508.75,293.7 509.36,295.17 510.93,295.29 509.73,296.32 510.1,297.86 508.75,297.04 507.39,297.86 507.76,296.32 506.56,295.29 508.14,295.17" fill="#ae1eae"/>
<polygon points="508.75,291.4 509.36,292.87 510.94,292.99 509.74,294.02 510.1,295.56 508.75,294.74 507.4,295.56 507.77,294.02 506.56,292.99 508.14,292.87" fill="#ae1eae"/>
<polygon points="508.76,288.91 509.37,290.37 510.94,290.5 509.74,291.53 510.11,293.07 508.76,292.24 507.41,293.07 507.77,291.53 506.57,290.5 508.15,290.37" fill="#ae1eae"/>
<polygon points="508.76,286.64 509.37,288.1 510.95,288.23 509.75,289.26 510.12,290.8 508.76,289.97 507.41,290.8 507.78,289.26 506.58,288.23 508.15,288.1" fill="#ae1eae"/>
<polygon points="508.77,284.1 509.38,285.57 510.96,285.69 509.75,286.72 510.12,288.27 508.77,287.44 507.42,288.27 507.79,286.72 506.58,285.69 508.16,285.57" fill="#ae1eae"/>
<polygon points="508.78,281.87 509.39,283.33 510.97,283.46 509.76,284.49 510.13,286.03 508.78,285.2 507.43,286.03 507.79,284.49 506.59,283.46 508.17,283.33" fill="#ae1eae"/>
<polygon points="508.79,279.55 509.4,281.01 510.98,281.14 509.77,282.17 510.14,283.71 508.79,282.88 507.44,283.71 507.81,282.17 506.6,281.14 508.18,281.01" fill="#ae1eae"/>
<polygon points="508.8,277.1 509.41,278.56 510.99,278.69 509.79,279.72 510.16,281.26 508.8,280.43 507.45,281.26 507.82,279.72 506.62,278.69 508.19,278.56" fill="#ae1eae"/>
<polygon points="508.82,274.66 509.43,276.12 511,276.25 509.8,277.28 510.17,278.82 508.82,278 507.47,278.82 507.83,277.28 506.63,276.25 508.21,276.12" fill="#ae1eae"/>
<polygon points="508.83,272.26 509.44,273.72 511.02,273.85 509.82,274.88 510.18,276.42 508.83,275.59 507.48,276.42 507.85,274.88 506.64,273.85 508.22,273.72" fill="#ae1eae"/>
<polygon points="508.85,269.91 509.46,271.37 511.04,271.5 509.83,272.53 510.2,274.07 508.85,273.24 507.5,274.07 507.86,272.53 506.66,271.5 508.24,271.37" fill="#ae1eae"/>
<polygon points="508.86,267.53 509.47,268.99 511.05,269.12 509.85,270.15 510.22,271.69 508.86,270.86 507.51,271.69 507.88,270.15 506.68,269.12 508.26,268.99" fill="#ae1eae"/>
<polygon points="508.88,265.07 509.49,266.53 511.07,266.66 509.87,267.69 510.24,269.23 508.88,268.41 507.53,269.23 507.9,267.69 506.7,266.66 508.28,266.53" fill="#ae1eae"/>
<polygon points="508.91,262.7 509.51,264.16 511.09,264.29 509.89,265.32 510.26,266.86 508.91,266.03 507.55,266.86 507.92,265.32 506.72,264.29 508.3,264.16" fill="#ae1eae"/>
<polygon points="508.93,260.31 509.54,261.77 511.12,261.9 509.91,262.93 510.28,264.47 508.93,263.65 507.58,264.47 507.95,262.93 506.74,261.9 508.32,261.77" fill="#ae1eae"/>
<polygon points="508.96,257.95 509.57,259.41 511.15,259.54 509.94,260.57 510.31,262.11 508.96,261.28 507.61,262.11 507.97,260.57 506.77,259.54 508.35,259.41" fill="#ae1eae"/>
<polygon points="509,255.54 509.6,257 511.18,257.13 509.98,258.16 510.35,259.7 509,258.88 507.64,259.7 508.01,258.16 506.81,257.13 508.39,257" fill="#ae1eae"/>
<polygon points="509.05,252.64 509.66,254.1 511.24,254.23 510.04,255.26 510.4,256.8 509.05,255.97 507.7,256.8 508.07,255.26 506.87,254.23 508.44,254.1" fill="#ae1eae"/>
<polygon points="509.1,250.43 509.71,251.9 511.29,252.02 510.09,253.05 510.46,254.59 509.1,253.77 507.75,254.59 508.12,253.05 506.92,252.02 508.5,251.9" fill="#ae1eae"/>
<polygon points="509.17,248.07 509.78,249.54 511.36,249.66 510.15,250.69 510.52,252.23 509.17,251.41 507.82,252.23 508.18,250.69 506.98,249.66 508.56,249.54" fill="#ae1eae"/>
<polygon points="509.25,245.9 509.85,247.37 511.43,247.49 510.23,248.52 510.6,250.07 509.25,249.24 507.89,250.07 508.26,248.52 507.06,247.49 508.64,247.37" fill="#ae1eae"/>
<polygon points="509.47,243.55 510.07,245.01 511.65,245.14 510.45,246.17 510.82,247.71 509.47,246.88 508.11,247.71 508.48,246.17 507.28,245.14 508.86,245.01" fill="#ae1eae"/>
<polygon points="510.14,241.26 510.74,242.72 512.32,242.85 511.12,243.88 511.49,245.42 510.14,244.59 508.78,245.42 509.15,243.88 507.95,242.85 509.53,242.72" fill="#ae1eae"/>
<polygon points="511.66,239.31 512.27,240.77 513.85,240.9 512.64,241.93 513.01,243.47 511.66,242.64 510.31,243.47 510.67,241.93 509.47,240.9 511.05,240.77" fill="#ae1eae"/>
<polygon points="513.68,237.82 514.29,239.29 515.87,239.41 514.67,240.44 515.04,241.98 513.68,241.16 512.33,241.98 512.7,240.44 511.5,239.41 513.08,239.29" fill="#ae1eae"/>
<polygon points="515.66,236.31 516.27,237.77 517.85,237.9 516.64,238.93 517.01,240.47 515.66,239.64 514.31,240.47 514.67,238.93 513.47,237.9 515.05,237.77" fill="#ae1eae"/>
<polygon points="517.81,235.05 518.42,236.51 520,236.64 518.8,237.67 519.16,239.21 517.81,238.38 516.46,239.21 516.83,237.67 515.62,236.64 517.2,236.51" fill="#ae1eae"/>
<polygon points="525.06,234.08 525.67,235.54 527.25,235.67 526.04,236.7 526.41,238.24 525.06,237.41 523.71,238.24 524.08,236.7 522.87,235.67 524.45,235.54" fill="#ae1eae"/>
<polygon points="533.24,231.95 533.85,233.41 535.43,233.54 534.22,234.57 534.59,236.11 533.24,235.29 531.89,236.11 532.26,234.57 531.05,233.54 532.63,233.41" fill="#ae1eae"/>
<polygon points="541.42,230.74 542.03,232.2 543.61,232.33 542.4,233.36 542.77,234.9 541.42,234.07 540.07,234.9 540.44,233.36 539.23,232.33 540.81,232.2" fill="#ae1eae"/>
<polygon points="549.6,229.74 550.21,231.2 551.79,231.33 550.58,232.36 550.95,233.9 549.6,233.07 548.25,233.9 548.62,232.36 547.41,231.33 548.99,231.2" fill="#ae1eae"/>
<polygon points="557.78,228.76 558.39,230.22 559.97,230.35 558.76,231.38 559.13,232.92 557.78,232.09 556.43,232.92 556.8,231.38 555.59,230.35 557.17,230.22" fill="#ae1eae"/>
<polygon points="565.96,227.62 566.57,229.08 568.15,229.21 566.94,230.24 567.31,231.78 565.96,230.95 564.61,231.78 564.98,230.24 563.77,229.21 565.35,229.08" fill="#ae1eae"/>
<polygon points="574.14,226.39 574.75,227.85 576.33,227.98 575.12,229.01 575.49,230.55 574.14,229.72 572.79,230.55 573.16,229.01 571.95,227.98 573.53,227.85" fill="#ae1eae"/>
<polygon points="582.32,225.16 582.93,226.63 584.51,226.75 583.3,227.78 583.67,229.32 582.32,228.5 580.97,229.32 581.34,227.78 580.13,226.75 581.71,226.63" fill="#ae1eae"/>
<polygon points="590.5,224.05 591.11,225.51 592.69,225.64 591.48,226.67 591.85,228.21 590.5,227.38 589.15,228.21 589.52,226.67 588.31,225.64 589.89,225.51" fill="#ae1eae"/>
<polygon points="598.68,223.1 599.29,224.57 600.87,224.69 599.66,225.72 600.03,227.26 598.68,226.44 597.33,227.26 597.7,225.72 596.49,224.69 598.07,224.57" fill="#ae1eae"/>
<polygon points="606.86,222.25 607.47,223.71 609.05,223.84 607.84,224.87 608.21,226.41 606.86,225.59 605.51,226.41 605.88,224.87 604.67,223.84 606.25,223.71" fill="#ae1eae"/>
<polygon points="615.04,221.39 615.65,222.85 617.23,222.98 616.02,224.01 616.39,225.55 615.04,224.72 613.69,225.55 614.06,224.01 612.85,222.98 614.43,222.85" fill="#ae1eae"/>
<polygon points="623.22,220.4 623.83,221.86 625.41,221.99 624.2,223.02 624.57,224.56 623.22,223.73 621.87,224.56 622.24,223.02 621.03,221.99 622.61,221.86" fill="#ae1eae"/>
<polygon points="631.4,219.08 632.01,220.55 633.59,220.67 632.38,221.7 632.75,223.24 631.4,222.42 630.05,223.24 630.42,221.7 629.21,220.67 630.79,220.55" fill="#ae1eae"/>
<polygon points="639.58,217.53 640.19,218.99 641.77,219.12 640.56,220.15 640.93,221.69 639.58,220.86 638.23,221.69 638.6,220.15 637.39,219.12 638.97,218.99" fill="#ae1eae"/>
<polygon points="647.76,216.08 648.37,217.54 649.95,217.67 648.74,218.7 649.11,220.24 647.76,219.41 646.41,220.24 646.78,218.7 645.57,217.67 647.15,217.54" fill="#ae1eae"/>
<polygon points="655.94,215.08 656.55,216.54 658.13,216.67 656.92,217.7 657.29,219.24 655.94,218.41 654.59,219.24 654.96,217.7 653.75,216.67 655.33,216.54" fill="#ae1eae"/>
<polygon points="664.12,214.57 664.73,216.03 666.31,216.16 665.1,217.19 665.47,218.73 664.12,217.9 662.77,218.73 663.14,217.19 661.93,216.16 663.51,216.03" fill="#ae1eae"/>
<polygon points="669.85,213.91 670.45,215.37 672.03,215.5 670.83,216.53 671.2,218.07 669.85,217.24 668.49,218.07 668.86,216.53 667.66,215.5 669.24,215.37" fill="#ae1eae"/>
<polygon points="508.76,323.25 511.28,319.05 506.24,319.05" fill="#3dba98"/>
<polygon points="508.92,322.16 511.44,317.96 506.4,317.96" fill="#3dba98"/>
<polygon points="509.31,321.12 511.83,316.92 506.79,316.92" fill="#3dba98"/>
<polygon points="510.11,320.39 512.63,316.19 507.59,316.19" fill="#3dba98"/>
<polygon points="511.27,319.84 513.79,315.64 508.75,315.64" fill="#3dba98"/>
<polygon points="512.54,319.51 515.06,315.31 510.02,315.31" fill="#3dba98"/>
<polygon points="513.81,319.26 516.33,315.06 511.29,315.06" fill="#3dba98"/>
<polygon points="515.1,319.07 517.62,314.87 512.58,314.87" fill="#3dba98"/>
<polygon points="516.39,318.93 518.91,314.73 513.87,314.73" fill="#3dba98"/>
<polygon points="517.68,318.82 520.2,314.62 515.16,314.62" fill="#3dba98"/>
<polygon points="518.99,318.71 521.51,314.51 516.47,314.51" fill="#3dba98"/>
<polygon points="525.06,318.43 527.58,314.23 522.54,314.23" fill="#3dba98"/>
<polygon points="533.24,318.35 535.76,314.15 530.72,314.15" fill="#3dba98"/>
<polygon points="541.42,318.3 543.94,314.1 538.9,314.1" fill="#3dba98"/>
<polygon points="549.6,318.27 552.12,314.07 547.08,314.07" fill="#3dba98"/>
<polygon points="557.78,318.25 560.3,314.05 555.26,314.05" fill="#3dba98"/>
<polygon points="565.96,318.23 568.48,314.03 563.44,314.03" fill="#3dba98"/>
<polygon points="574.14,318.21 576.66,314.01 571.62,314.01" fill="#3dba98"/>
<polygon points="582.32,318.18 584.84,313.98 579.8,313.98" fill="#3dba98"/>
<polygon points="590.5,318.12 593.02,313.92 587.98,313.92" fill="#3dba98"/>
<polygon points="598.68,318.03 601.2,313.83 596.16,313.83" fill="#3dba98"/>
<polygon points="606.86,317.9 609.38,313.7 604.34,313.7" fill="#3dba98"/>
<polygon points="615.04,317.74 617.56,313.54 612.52,313.54" fill="#3dba98"/>
<polygon points="623.22,317.56 625.74,313.36 620.7,313.36" fill="#3dba98"/>
<polygon points="631.4,317.38 633.92,313.18 628.88,313.18" fill="#3dba98"/>
<polygon points="639.58,317.21 642.1,313.01 637.06,313.01" fill="#3dba98"/>
<polygon points="647.76,317.08 650.28,312.88 645.24,312.88" fill="#3dba98"/>
<polygon points="655.94,316.91 658.46,312.71 653.42,312.71" fill="#3dba98"/>
<polygon points="664.12,316.48 666.64,312.28 661.6,312.28" fill="#3dba98"/>
<polygon points="669.85,316.02 672.37,311.82 667.33,311.82" fill="#3dba98"/>
</g>
<rect x="500.5" y="183.5" width="180.0" height="138.0" fill="none" stroke="#231f20" stroke-width="1.15"/>
<line x1="508.7" y1="321.5" x2="508.7" y2="318.9" stroke="#231f20" stroke-width="1"/>
<text x="508.7" y="332.6" font-size="9.2" text-anchor="middle" fill="#111">0.0</text>
<line x1="525.06" y1="321.5" x2="525.06" y2="320.1" stroke="#231f20" stroke-width="1"/>
<line x1="541.42" y1="321.5" x2="541.42" y2="318.9" stroke="#231f20" stroke-width="1"/>
<text x="541.42" y="332.6" font-size="9.2" text-anchor="middle" fill="#111">0.2</text>
<line x1="557.78" y1="321.5" x2="557.78" y2="320.1" stroke="#231f20" stroke-width="1"/>
<line x1="574.14" y1="321.5" x2="574.14" y2="318.9" stroke="#231f20" stroke-width="1"/>
<text x="574.14" y="332.6" font-size="9.2" text-anchor="middle" fill="#111">0.4</text>
<line x1="590.5" y1="321.5" x2="590.5" y2="320.1" stroke="#231f20" stroke-width="1"/>
<line x1="606.86" y1="321.5" x2="606.86" y2="318.9" stroke="#231f20" stroke-width="1"/>
<text x="606.86" y="332.6" font-size="9.2" text-anchor="middle" fill="#111">0.6</text>
<line x1="623.22" y1="321.5" x2="623.22" y2="320.1" stroke="#231f20" stroke-width="1"/>
<line x1="639.58" y1="321.5" x2="639.58" y2="318.9" stroke="#231f20" stroke-width="1"/>
<text x="639.58" y="332.6" font-size="9.2" text-anchor="middle" fill="#111">0.8</text>
<line x1="655.94" y1="321.5" x2="655.94" y2="320.1" stroke="#231f20" stroke-width="1"/>
<line x1="672.3" y1="321.5" x2="672.3" y2="318.9" stroke="#231f20" stroke-width="1"/>
<text x="672.3" y="332.6" font-size="9.2" text-anchor="middle" fill="#111">1.0</text>
<text x="497.5" y="324.8" font-size="9.2" text-anchor="end" fill="#111">0</text>
<line x1="500.5" y1="306.3" x2="501.9" y2="306.3" stroke="#231f20" stroke-width="1"/>
<line x1="500.5" y1="291.1" x2="503.1" y2="291.1" stroke="#231f20" stroke-width="1"/>
<text x="497.5" y="294.4" font-size="9.2" text-anchor="end" fill="#111">200</text>
<line x1="500.5" y1="275.9" x2="501.9" y2="275.9" stroke="#231f20" stroke-width="1"/>
<line x1="500.5" y1="260.7" x2="503.1" y2="260.7" stroke="#231f20" stroke-width="1"/>
<text x="497.5" y="264" font-size="9.2" text-anchor="end" fill="#111">400</text>
<line x1="500.5" y1="245.5" x2="501.9" y2="245.5" stroke="#231f20" stroke-width="1"/>
<line x1="500.5" y1="230.3" x2="503.1" y2="230.3" stroke="#231f20" stroke-width="1"/>
<text x="497.5" y="233.6" font-size="9.2" text-anchor="end" fill="#111">600</text>
<line x1="500.5" y1="215.1" x2="501.9" y2="215.1" stroke="#231f20" stroke-width="1"/>
<line x1="500.5" y1="199.9" x2="503.1" y2="199.9" stroke="#231f20" stroke-width="1"/>
<text x="497.5" y="203.2" font-size="9.2" text-anchor="end" fill="#111">800</text>
<line x1="500.5" y1="184.7" x2="501.9" y2="184.7" stroke="#231f20" stroke-width="1"/>
<text x="590.2" y="345.8" font-size="9.5" text-anchor="middle" fill="#111">Relative pressure (<tspan font-style="italic">p</tspan>/<tspan font-style="italic">p</tspan><tspan font-size="6.8" dy="2.8">0</tspan><tspan dy="-2.8">)</tspan></text>
<text transform="translate(475.2,252.0) rotate(-90)" font-size="9.5" text-anchor="middle" fill="#111">N<tspan font-size="7" dy="2.6">2</tspan><tspan dy="-2.6"> uptake (cm</tspan><tspan font-size="7" dy="-3.3">3</tspan><tspan dy="3.3"> g</tspan><tspan font-size="7" dy="-3.3">-1</tspan><tspan dy="3.3">, STP)</tspan></text>
<text x="472.6" y="182.7" font-size="12" font-weight="bold" fill="#000">f</text>
<text x="45.6" y="204.1" font-size="9.4" fill="#8c9cf7">UiO-66-GO as-synthesized</text>
<text x="60.1" y="243.8" font-size="9.4" fill="#111">UiO-66 as-synthesized</text>
<text x="59.6" y="271.4" font-size="9.4" fill="#111">UiO-66-GO</text>
<text x="115.9" y="259.7" font-size="9.4" fill="#111">(</text>
<rect x="118.92" y="255.52" width="2.96" height="2.96" fill="#e39cf5"/>
<text x="122.6" y="259.7" font-size="9.4" fill="#111">)</text>
<text x="127.8" y="259.7" font-size="9.4" fill="#111">pH = 12, 1 month</text>
<text x="115.9" y="270.2" font-size="9.4" fill="#111">(</text>
<polygon points="120.4,265.12 123.15,269.07 117.65,269.07" fill="#c558ef"/>
<text x="122.6" y="270.2" font-size="9.4" fill="#111">)</text>
<text x="127.8" y="270.2" font-size="9.4" fill="#111">pH = 12, 6 months</text>
<text x="115.9" y="281.1" font-size="9.4" fill="#111">(</text>
<polygon points="120.4,275.92 121.06,277.5 122.76,277.63 121.46,278.75 121.86,280.41 120.4,279.52 118.94,280.41 119.34,278.75 118.04,277.63 119.74,277.5" fill="#ae1eae"/>
<text x="122.6" y="281.1" font-size="9.4" fill="#111">)</text>
<text x="127.8" y="281.1" font-size="9.4" fill="#111">pH = 12, 12 months</text>
<text x="57.7" y="302.9" font-size="9.4" fill="#111">(</text>
<polygon points="62.2,302.79 64.92,298.26 59.48,298.26" fill="#3dba98"/>
<text x="64.4" y="302.9" font-size="9.4" fill="#111">)</text>
<text x="69.6" y="302.9" font-size="9.4" fill="#111">UiO-66 (pH = 12, 7 days)</text>
<text x="276.8" y="204" font-size="9.4" fill="#8c9cf7">HKUST-1-GO as-synthesized</text>
<text x="294.5" y="243.6" font-size="9.4" fill="#111">HKUST-1 as-synthesized</text>
<text x="292.6" y="271.2" font-size="9.4" fill="#111">HKUST-1-GO</text>
<text x="351.7" y="259.5" font-size="9.4" fill="#111">(</text>
<rect x="354.72" y="255.32" width="2.96" height="2.96" fill="#e39cf5"/>
<text x="358.4" y="259.5" font-size="9.4" fill="#111">)</text>
<text x="363.62" y="259.5" font-size="9.4" fill="#111">water, 7 days</text>
<text x="351.7" y="270.6" font-size="9.4" fill="#111">(</text>
<polygon points="356.2,265.52 358.95,269.47 353.45,269.47" fill="#c558ef"/>
<text x="358.4" y="270.6" font-size="9.4" fill="#111">)</text>
<text x="363.62" y="270.6" font-size="9.4" fill="#111">water, 6 months</text>
<text x="351.7" y="281.4" font-size="9.4" fill="#111">(</text>
<polygon points="356.2,276.22 356.86,277.8 358.56,277.93 357.26,279.05 357.66,280.71 356.2,279.82 354.74,280.71 355.14,279.05 353.84,277.93 355.54,277.8" fill="#ae1eae"/>
<text x="358.4" y="281.4" font-size="9.4" fill="#111">)</text>
<text x="363.62" y="281.4" font-size="9.4" fill="#111">water, 12 months</text>
<text x="293" y="307.4" font-size="9.4" fill="#111">(</text>
<polygon points="297.5,307.29 300.22,302.76 294.78,302.76" fill="#3dba98"/>
<text x="299.7" y="307.4" font-size="9.4" fill="#111">)</text>
<text x="304.9" y="307.4" font-size="9.4" fill="#111">HKUST-1 (water, 3 days)</text>
<text x="517" y="203.6" font-size="9.4" fill="#8c9cf7">MOF-5-GO as-synthesized</text>
<text x="537.8" y="243.3" font-size="9.4" fill="#111">MOF-5 as-synthesized</text>
<text x="534.1" y="271.6" font-size="9.4" fill="#111">MOF-5-GO</text>
<text x="582" y="264.6" font-size="9.4" fill="#111">(</text>
<polygon points="586.5,259.52 589.25,263.47 583.75,263.47" fill="#c558ef"/>
<text x="588.7" y="264.6" font-size="9.4" fill="#111">)</text>
<text x="593.9" y="264.6" font-size="9.4" fill="#111">75% RH, 1 month</text>
<text x="582" y="275.9" font-size="9.4" fill="#111">(</text>
<polygon points="586.5,270.72 587.16,272.3 588.86,272.43 587.56,273.55 587.96,275.21 586.5,274.32 585.04,275.21 585.44,273.55 584.14,272.43 585.84,272.3" fill="#ae1eae"/>
<text x="588.7" y="275.9" font-size="9.4" fill="#111">)</text>
<text x="593.9" y="275.9" font-size="9.4" fill="#111">75% RH, 3 months</text>
<text x="532.8" y="307.6" font-size="9.4" fill="#111">(</text>
<polygon points="537.3,307.49 540.02,302.96 534.58,302.96" fill="#3dba98"/>
<text x="539.5" y="307.6" font-size="9.4" fill="#111">)</text>
<text x="544.7" y="307.6" font-size="9.4" fill="#111">MOF-5 (75% RH, 1 day)</text>
</svg></body></html>
